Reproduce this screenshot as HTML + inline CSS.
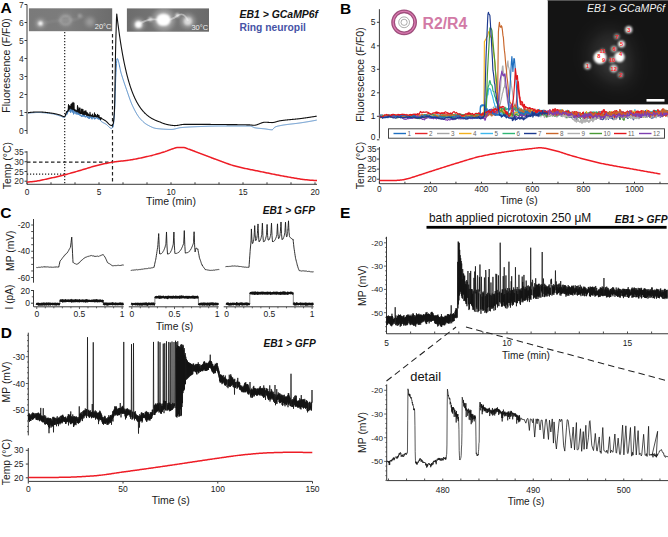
<!DOCTYPE html>
<html><head><meta charset="utf-8"><style>
html,body{margin:0;padding:0;background:#fff;width:668px;height:537px;overflow:hidden}
svg{display:block}
text{font-family:"Liberation Sans", sans-serif}
</style></head><body>
<svg width="668" height="537" viewBox="0 0 668 537">
<rect width="668" height="537" fill="#fff"/>
<defs>
<filter id="bl" x="-100%" y="-100%" width="300%" height="300%"><feGaussianBlur stdDeviation="1.3"/></filter>
<filter id="bl1" x="-100%" y="-100%" width="300%" height="300%"><feGaussianBlur stdDeviation="0.6"/></filter>
<filter id="bl1b" x="-100%" y="-100%" width="300%" height="300%"><feGaussianBlur stdDeviation="0.9"/></filter>
<filter id="bl2s" x="-100%" y="-100%" width="300%" height="300%"><feGaussianBlur stdDeviation="2.2"/></filter>
<filter id="bl2" x="-100%" y="-100%" width="300%" height="300%"><feGaussianBlur stdDeviation="9"/></filter>
</defs>
<text x="0.6" y="13.4" font-size="15.5" text-anchor="start" font-weight="bold" font-style="normal" fill="#000">A</text>
<line x1="27" y1="4.5" x2="27" y2="134" stroke="#3a3a3a" stroke-width="1"/>
<line x1="24.5" y1="130.5" x2="27" y2="130.5" stroke="#3a3a3a" stroke-width="1"/>
<text x="23.7" y="133.56" font-size="8.5" text-anchor="end" font-weight="normal" font-style="normal" fill="#2a2a2a">0</text>
<line x1="24.5" y1="112.5" x2="27" y2="112.5" stroke="#3a3a3a" stroke-width="1"/>
<text x="23.7" y="115.56" font-size="8.5" text-anchor="end" font-weight="normal" font-style="normal" fill="#2a2a2a">1</text>
<line x1="24.5" y1="94.5" x2="27" y2="94.5" stroke="#3a3a3a" stroke-width="1"/>
<text x="23.7" y="97.56" font-size="8.5" text-anchor="end" font-weight="normal" font-style="normal" fill="#2a2a2a">2</text>
<line x1="24.5" y1="76.5" x2="27" y2="76.5" stroke="#3a3a3a" stroke-width="1"/>
<text x="23.7" y="79.56" font-size="8.5" text-anchor="end" font-weight="normal" font-style="normal" fill="#2a2a2a">3</text>
<line x1="24.5" y1="58.5" x2="27" y2="58.5" stroke="#3a3a3a" stroke-width="1"/>
<text x="23.7" y="61.56" font-size="8.5" text-anchor="end" font-weight="normal" font-style="normal" fill="#2a2a2a">4</text>
<line x1="24.5" y1="40.5" x2="27" y2="40.5" stroke="#3a3a3a" stroke-width="1"/>
<text x="23.7" y="43.56" font-size="8.5" text-anchor="end" font-weight="normal" font-style="normal" fill="#2a2a2a">5</text>
<line x1="24.5" y1="22.5" x2="27" y2="22.5" stroke="#3a3a3a" stroke-width="1"/>
<text x="23.7" y="25.56" font-size="8.5" text-anchor="end" font-weight="normal" font-style="normal" fill="#2a2a2a">6</text>
<line x1="24.5" y1="4.5" x2="27" y2="4.5" stroke="#3a3a3a" stroke-width="1"/>
<text x="23.7" y="7.56" font-size="8.5" text-anchor="end" font-weight="normal" font-style="normal" fill="#2a2a2a">7</text>
<text x="10.4" y="65.4" font-size="10.5" text-anchor="middle" font-weight="normal" font-style="normal" fill="#1a1a1a" transform="rotate(-90 10.4 65.4)">Fluorescence (F/F0)</text>
<defs><linearGradient id="g1" x1="0" x2="1" y1="0" y2="0"><stop offset="0" stop-color="#7a7a7a"/><stop offset="0.5" stop-color="#7c7c7c"/><stop offset="1" stop-color="#6c6c6c"/></linearGradient><linearGradient id="g2" x1="0" x2="1" y1="0" y2="0"><stop offset="0" stop-color="#6c6c6c"/><stop offset="0.5" stop-color="#777"/><stop offset="1" stop-color="#6a6a6a"/></linearGradient></defs>
<rect x="28.9" y="8.3" width="83.3" height="22.9" fill="url(#g1)"/>
<rect x="126.9" y="8.4" width="82.1" height="23.3" fill="url(#g2)"/>
<svg x="28.9" y="8.3" width="83.3" height="22.9" overflow="hidden"><g transform="translate(-28.9 -8.3)">
<circle cx="40.5" cy="23.4" r="4.5" fill="#fff" opacity="0.35" filter="url(#bl2s)"/>
<circle cx="40.5" cy="23.4" r="2.2" fill="#fff" opacity="0.95" filter="url(#bl)"/>
<circle cx="90" cy="22" r="4.5" fill="#fff" opacity="0.3" filter="url(#bl2s)"/>
<circle cx="79.8" cy="15.7" r="2" fill="#fff" opacity="0.3" filter="url(#bl)"/>
<ellipse cx="65.6" cy="20.2" rx="5.3" ry="4.3" fill="none" stroke="#c4c4c4" stroke-width="1.7" opacity="0.45" filter="url(#bl1b)"/>
<path d="M44 23 Q52 21 60 20.5 T72 20 T84 16" fill="none" stroke="#b0b0b0" stroke-width="1.4" opacity="0.3" filter="url(#bl1b)"/>
<circle cx="65.6" cy="20.2" r="7" fill="#fff" opacity="0.12" filter="url(#bl2s)"/>
</g></svg>
<svg x="126.9" y="8.4" width="82.1" height="23.3" overflow="hidden"><g transform="translate(-126.9 -8.4)">
<circle cx="163.5" cy="19.8" r="11" fill="#fff" opacity="0.3" filter="url(#bl2s)"/>
<circle cx="138.5" cy="24.4" r="6" fill="#fff" opacity="0.35" filter="url(#bl2s)"/>
<circle cx="187.9" cy="21.2" r="7" fill="#fff" opacity="0.35" filter="url(#bl2s)"/>
<path d="M139 24 Q146 20 151 19.5 T163 20 T177 16 T188 21" fill="none" stroke="#ddd" stroke-width="1.8" opacity="0.55" filter="url(#bl1)"/>
<ellipse cx="163.5" cy="19.8" rx="7.3" ry="6.3" fill="#fff" filter="url(#bl)"/>
<circle cx="138.5" cy="24.4" r="3.5" fill="#fff" opacity="1.0" filter="url(#bl)"/>
<circle cx="150.3" cy="19.2" r="2.3" fill="#fff" opacity="0.6" filter="url(#bl)"/>
<circle cx="177.4" cy="15.2" r="2" fill="#fff" opacity="0.8" filter="url(#bl)"/>
<circle cx="187.9" cy="21.2" r="4" fill="#fff" opacity="0.6" filter="url(#bl)"/>
</g></svg>
<text x="111.5" y="29.4" font-size="7.5" text-anchor="end" font-weight="normal" font-style="normal" fill="#f0f0f0">20°C</text>
<text x="208.2" y="29.8" font-size="7.5" text-anchor="end" font-weight="normal" font-style="normal" fill="#f0f0f0">30°C</text>
<text x="239.5" y="17.6" font-size="10.45" text-anchor="start" font-weight="bold" font-style="italic" fill="#111">EB1 &gt; GCaMP6f</text>
<text x="239.5" y="30.8" font-size="10.3" text-anchor="start" font-weight="bold" font-style="normal" fill="#4653a6">Ring neuropil</text>
<line x1="64.7" y1="32" x2="64.7" y2="184" stroke="#222" stroke-width="1.2" stroke-dasharray="1.2,1.8"/>
<line x1="112.5" y1="34" x2="112.5" y2="184" stroke="#222" stroke-width="1.2" stroke-dasharray="3.5,2.5"/>
<polyline points="28,113.25 28.25,113.21 28.5,113.18 28.75,113.15 29,113.11 29.25,113.08 29.5,113.05 29.75,113.02 30,112.99 30.25,112.96 30.5,112.93 30.75,112.91 31,112.88 31.25,112.86 31.5,112.83 31.75,112.81 32,112.79 32.25,112.76 32.5,112.74 32.75,112.72 33,112.7 33.25,112.69 33.5,112.67 33.75,112.65 34,112.64 34.25,112.62 34.5,112.61 34.75,112.6 35,112.58 35.25,112.57 35.5,112.56 35.75,112.55 36,112.54 36.25,112.53 36.5,112.53 36.75,112.52 37,112.52 37.25,112.51 37.5,112.51 37.75,112.5 38,112.5 38.25,112.5 38.5,112.5 38.75,112.5 39,112.5 39.25,112.51 39.5,112.51 39.75,112.52 40,112.52 40.25,112.53 40.5,112.54 40.75,112.55 41,112.56 41.25,112.57 41.5,112.58 41.75,112.6 42,112.61 42.25,112.63 42.5,112.65 42.75,112.66 43,112.68 43.25,112.7 43.5,112.72 43.75,112.74 44,112.76 44.25,112.79 44.5,112.81 44.75,112.84 45,112.86 45.25,112.89 45.5,112.91 45.75,112.94 46,112.97 46.25,112.99 46.5,113.02 46.75,113.05 47,113.08 47.25,113.11 47.5,113.14 47.75,113.18 48,113.21 48.25,113.24 48.5,113.27 48.75,113.3 49,113.34 49.25,113.37 49.5,113.41 49.75,113.44 50,113.48 50.25,113.51 50.5,113.55 50.75,113.58 51,113.62 51.25,113.65 51.5,113.69 51.75,113.72 52,113.76 52.25,113.8 52.5,113.84 52.75,113.88 53,113.93 53.25,113.98 53.5,114.03 53.75,114.08 54,114.13 54.25,114.19 54.5,114.25 54.75,114.31 55,114.38 55.25,114.44 55.5,114.51 55.75,114.58 56,114.65 56.25,114.72 56.5,114.79 56.75,114.87 57,114.95 57.25,115.02 57.5,115.1 57.75,115.18 58,115.26 58.25,115.34 58.5,115.42 58.75,115.5 59,115.59 59.25,115.67 59.5,115.75 59.75,115.84 60,115.92 60.25,115.99 60.5,116.07 60.75,116.17 61,116.27 61.25,116.39 61.5,116.5 61.75,116.62 62,116.74 62.25,116.85 62.5,116.96 62.75,117.06 63,117.15 63.25,117.22 63.5,117.28 63.75,117.32 64,117.34 64.25,117.34 64.5,117.27 64.75,117.08 65,116.78 65.25,116.41 65.5,115.98 65.75,115.42 66,114.75 66.25,114.61 66.5,114.94 66.75,114.59 67,114.51 67.25,111.98 67.5,113.54 67.75,111.24 68,111.47 68.25,109.93 68.5,110.47 68.75,111.53 69,111.46 69.25,110.95 69.5,110.67 69.75,111.39 70,110.65 70.25,108.43 70.5,112.63 70.75,110.02 71,111.56 71.25,110.1 71.5,109.26 71.75,110.51 72,109.48 72.25,112.63 72.5,109.25 72.75,111.54 73,110.1 73.25,110.78 73.5,114.36 73.75,112.21 74,111.15 74.25,109.69 74.5,111.37 74.75,111.55 75,113.66 75.25,110.46 75.5,110.17 75.75,112.35 76,112.75 76.25,114.43 76.5,111.74 76.75,109.85 77,112.17 77.25,111.7 77.5,112.62 77.75,114.38 78,112.03 78.25,114.87 78.5,113.91 78.75,113.53 79,113.03 79.25,113.63 79.5,113.79 79.75,115.05 80,115.68 80.25,114.46 80.5,115.32 80.75,115.99 81,116.04 81.25,115.4 81.5,116.76 81.75,116.37 82,116.7 82.25,115.11 82.5,114.99 82.75,113.65 83,116.83 83.25,116.18 83.5,114.87 83.75,115.92 84,116.08 84.25,114.44 84.5,116.22 84.75,116.95 85,117.14 85.25,115.86 85.5,115.95 85.75,117.36 86,117.11 86.25,115.96 86.5,115.98 86.75,117 87,116.07 87.25,116.17 87.5,118.05 87.75,116.96 88,116.46 88.25,117.27 88.5,118.51 88.75,117.15 89,116.41 89.25,115.84 89.5,118.72 89.75,115.18 90,118.02 90.25,116.52 90.5,116.36 90.75,116.59 91,117.24 91.25,118.23 91.5,116.97 91.75,117.97 92,119.3 92.25,115.51 92.5,117.05 92.75,116.3 93,118.26 93.25,116.62 93.5,116.57 93.75,116.63 94,117.75 94.25,118.59 94.5,117.92 94.75,119.32 95,119.01 95.25,117.84 95.5,118.59 95.75,118.08 96,118.08 96.25,116.83 96.5,117.29 96.75,118.18 97,117.47 97.25,118.72 97.5,118.51 97.75,117.85 98,119.15 98.25,118.67 98.5,119.34 98.75,118.65 99,117.97 99.25,119.35 99.5,119.07 99.75,119.7 100,120.04 100.25,120.36 100.5,120.31 100.75,120.7 101,121.14 101.25,121.36 101.5,121.56 101.75,121.75 102,121.92 102.25,122.09 102.5,122.25 102.75,122.4 103,122.54 103.25,122.68 103.5,122.81 103.75,122.94 104,123.07 104.25,123.2 104.5,123.33 104.75,123.46 105,123.59 105.25,123.73 105.5,123.88 105.75,124.04 106,124.2 106.25,124.38 106.5,124.57 106.75,124.79 107,125.01 107.25,125.25 107.5,125.49 107.75,125.74 108,125.99 108.25,126.24 108.5,126.49 108.75,126.73 109,126.97 109.25,127.19 109.5,127.41 109.75,127.61 110,127.78 110.25,127.94 110.5,128.08 110.75,128.19 111,128.27 111.25,128.32 111.5,128.34 111.75,128.29 112,128.16 112.25,127.95 112.5,127.66 112.75,127.31 113,126.9 113.25,126.03 113.5,124.38 113.75,122.08 114,119.24 114.25,116.01 114.5,112.5 114.75,107.38 115,100.07 115.25,91.82 115.5,83.88 115.75,77.48 116,72.71 116.25,67.97 116.5,63.71 116.75,60.44 117,58.67 117.25,58.54 117.5,58.78 117.75,59.22 118,59.83 118.25,60.6 118.5,61.49 118.75,62.49 119,63.58 119.25,64.74 119.5,65.93 119.75,67.15 120,68.36 120.25,69.54 120.5,70.68 120.75,71.76 121,72.74 121.25,73.61 121.5,74.43 121.75,75.24 122,76.05 122.25,76.84 122.5,77.63 122.75,78.41 123,79.19 123.25,79.96 123.5,80.72 123.75,81.47 124,82.22 124.25,82.97 124.5,83.71 124.75,84.44 125,85.17 125.25,85.9 125.5,86.62 125.75,87.35 126,88.07 126.25,88.78 126.5,89.5 126.75,90.22 127,90.93 127.25,91.66 127.5,92.38 127.75,93.11 128,93.84 128.25,94.58 128.5,95.31 128.75,96.03 129,96.76 129.25,97.47 129.5,98.19 129.75,98.89 130,99.58 130.25,100.27 130.5,100.94 130.75,101.6 131,102.24 131.25,102.87 131.5,103.48 131.75,104.07 132,104.64 132.25,105.19 132.5,105.73 132.75,106.25 133,106.78 133.25,107.3 133.5,107.81 133.75,108.32 134,108.82 134.25,109.32 134.5,109.81 134.75,110.29 135,110.77 135.25,111.24 135.5,111.7 135.75,112.16 136,112.61 136.25,113.05 136.5,113.48 136.75,113.9 137,114.31 137.25,114.72 137.5,115.11 137.75,115.5 138,115.87 138.25,116.24 138.5,116.59 138.75,116.94 139,117.27 139.25,117.59 139.5,117.9 139.75,118.2 140,118.49 140.25,118.78 140.5,119.06 140.75,119.33 141,119.6 141.25,119.87 141.5,120.13 141.75,120.39 142,120.64 142.25,120.89 142.5,121.13 142.75,121.37 143,121.61 143.25,121.83 143.5,122.06 143.75,122.28 144,122.49 144.25,122.7 144.5,122.9 144.75,123.1 145,123.29 145.25,123.48 145.5,123.66 145.75,123.83 146,124 146.25,124.17 146.5,124.33 146.75,124.48 147,124.63 147.25,124.77 147.5,124.91 147.75,125.05 148,125.19 148.25,125.32 148.5,125.46 148.75,125.6 149,125.73 149.25,125.86 149.5,125.99 149.75,126.13 150,126.25 150.25,126.38 150.5,126.5 150.75,126.63 151,126.75 151.25,126.86 151.5,126.98 151.75,127.09 152,127.2 152.25,127.31 152.5,127.41 152.75,127.51 153,127.6 153.25,127.7 153.5,127.79 153.75,127.87 154,127.95 154.25,128.03 154.5,128.1 154.75,128.17 155,128.23 155.25,128.29 155.5,128.35 155.75,128.39 156,128.44 156.25,128.48 156.5,128.51 156.75,128.54 157,128.56 157.25,128.59 157.5,128.62 157.75,128.64 158,128.67 158.25,128.7 158.5,128.72 158.75,128.75 159,128.77 159.25,128.79 159.5,128.82 159.75,128.84 160,128.86 160.25,128.89 160.5,128.91 160.75,128.93 161,128.95 161.25,128.97 161.5,128.99 161.75,129.01 162,129.03 162.25,129.05 162.5,129.07 162.75,129.09 163,129.11 163.25,129.12 163.5,129.14 163.75,129.16 164,129.17 164.25,129.19 164.5,129.2 164.75,129.22 165,129.23 165.25,129.25 165.5,129.26 165.75,129.27 166,129.29 166.25,129.3 166.5,129.31 166.75,129.32 167,129.33 167.25,129.34 167.5,129.35 167.75,129.36 168,129.36 168.25,129.37 168.5,129.38 168.75,129.39 169,129.39 169.25,129.4 169.5,129.4 169.75,129.41 170,129.41 170.25,129.41 170.5,129.42 170.75,129.42 171,129.42 171.25,129.42 171.5,129.42 171.75,129.42 172,129.41 172.25,129.39 172.5,129.37 172.75,129.34 173,129.31 173.25,129.28 173.5,129.24 173.75,129.19 174,129.15 174.25,129.09 174.5,129.04 174.75,128.98 175,128.92 175.25,128.86 175.5,128.8 175.75,128.73 176,128.67 176.25,128.6 176.5,128.53 176.75,128.47 177,128.4 177.25,128.33 177.5,128.27 177.75,128.2 178,128.14 178.25,128.08 178.5,128.02 178.75,127.96 179,127.91 179.25,127.85 179.5,127.81 179.75,127.76 180,127.72 180.25,127.68 180.5,127.65 180.75,127.62 181,127.6 181.25,127.58 181.5,127.56 181.75,127.53 182,127.51 182.25,127.49 182.5,127.47 182.75,127.45 183,127.43 183.25,127.41 183.5,127.39 183.75,127.37 184,127.35 184.25,127.33 184.5,127.31 184.75,127.29 185,127.28 185.25,127.26 185.5,127.24 185.75,127.22 186,127.21 186.25,127.19 186.5,127.17 186.75,127.16 187,127.14 187.25,127.12 187.5,127.11 187.75,127.09 188,127.08 188.25,127.06 188.5,127.05 188.75,127.03 189,127.02 189.25,127.01 189.5,126.99 189.75,126.98 190,126.97 190.25,126.95 190.5,126.94 190.75,126.93 191,126.91 191.25,126.9 191.5,126.89 191.75,126.88 192,126.86 192.25,126.85 192.5,126.84 192.75,126.83 193,126.82 193.25,126.81 193.5,126.8 193.75,126.79 194,126.77 194.25,126.76 194.5,126.75 194.75,126.74 195,126.73 195.25,126.72 195.5,126.71 195.75,126.7 196,126.69 196.25,126.68 196.5,126.67 196.75,126.66 197,126.65 197.25,126.64 197.5,126.63 197.75,126.62 198,126.61 198.25,126.6 198.5,126.6 198.75,126.59 199,126.58 199.25,126.57 199.5,126.56 199.75,126.55 200,126.54 200.25,126.53 200.5,126.52 200.75,126.51 201,126.5 201.25,126.49 201.5,126.48 201.75,126.48 202,126.47 202.25,126.46 202.5,126.45 202.75,126.44 203,126.43 203.25,126.42 203.5,126.41 203.75,126.4 204,126.39 204.25,126.38 204.5,126.37 204.75,126.36 205,126.35 205.25,126.34 205.5,126.33 205.75,126.33 206,126.32 206.25,126.31 206.5,126.3 206.75,126.29 207,126.28 207.25,126.27 207.5,126.26 207.75,126.25 208,126.24 208.25,126.24 208.5,126.23 208.75,126.22 209,126.21 209.25,126.2 209.5,126.19 209.75,126.19 210,126.18 210.25,126.17 210.5,126.16 210.75,126.16 211,126.15 211.25,126.14 211.5,126.13 211.75,126.13 212,126.12 212.25,126.11 212.5,126.11 212.75,126.1 213,126.09 213.25,126.09 213.5,126.08 213.75,126.08 214,126.07 214.25,126.07 214.5,126.06 214.75,126.05 215,126.05 215.25,126.05 215.5,126.04 215.75,126.04 216,126.03 216.25,126.03 216.5,126.03 216.75,126.02 217,126.02 217.25,126.02 217.5,126.01 217.75,126.01 218,126.01 218.25,126.01 218.5,126 218.75,126 219,126 219.25,126 219.5,126 219.75,126 220,126 220.25,126 220.5,126 220.75,126 221,126 221.25,126 221.5,126 221.75,126 222,126 222.25,126 222.5,126 222.75,126 223,126 223.25,126 223.5,126 223.75,126 224,126 224.25,126 224.5,126 224.75,126 225,126 225.25,126 225.5,126 225.75,126 226,126 226.25,126 226.5,126 226.75,126 227,126 227.25,126 227.5,126 227.75,126 228,126 228.25,126 228.5,126 228.75,126 229,126 229.25,126 229.5,126 229.75,126 230,126 230.25,126 230.5,126 230.75,126 231,126 231.25,126 231.5,126 231.75,126 232,126 232.25,126 232.5,126 232.75,126 233,126 233.25,126 233.5,126 233.75,126 234,126 234.25,126 234.5,126 234.75,126 235,126 235.25,126 235.5,126 235.75,126 236,126 236.25,126 236.5,126 236.75,126 237,126 237.25,126 237.5,126 237.75,126 238,126 238.25,126 238.5,126 238.75,126 239,126 239.25,126 239.5,126 239.75,126 240,126 240.25,126 240.5,126 240.75,126 241,126 241.25,126 241.5,126 241.75,126 242,126 242.25,126 242.5,126 242.75,126 243,126 243.25,126 243.5,126 243.75,126 244,126 244.25,126 244.5,126 244.75,126 245,126 245.25,126 245.5,126 245.75,126 246,126 246.25,126 246.5,126 246.75,126 247,126 247.25,126 247.5,126 247.75,126 248,126 248.25,126 248.5,126 248.75,126 249,126 249.25,126 249.5,126 249.75,126 250,126 250.25,126.01 250.5,126.04 250.75,126.09 251,126.16 251.25,126.24 251.5,126.33 251.75,126.44 252,126.55 252.25,126.67 252.5,126.79 252.75,126.91 253,127.04 253.25,127.16 253.5,127.28 253.75,127.39 254,127.5 254.25,127.59 254.5,127.68 254.75,127.75 255,127.8 255.25,127.84 255.5,127.88 255.75,127.92 256,127.96 256.25,128 256.5,128.03 256.75,128.07 257,128.1 257.25,128.13 257.5,128.16 257.75,128.19 258,128.22 258.25,128.25 258.5,128.27 258.75,128.3 259,128.32 259.25,128.35 259.5,128.37 259.75,128.39 260,128.41 260.25,128.44 260.5,128.46 260.75,128.48 261,128.5 261.25,128.52 261.5,128.54 261.75,128.56 262,128.58 262.25,128.61 262.5,128.63 262.75,128.65 263,128.67 263.25,128.7 263.5,128.72 263.75,128.74 264,128.77 264.25,128.8 264.5,128.82 264.75,128.85 265,128.88 265.25,128.91 265.5,128.94 265.75,128.98 266,129.02 266.25,129.06 266.5,129.1 266.75,129.14 267,129.18 267.25,129.22 267.5,129.26 267.75,129.31 268,129.35 268.25,129.39 268.5,129.43 268.75,129.47 269,129.51 269.25,129.55 269.5,129.59 269.75,129.62 270,129.65 270.25,129.68 270.5,129.7 270.75,129.73 271,129.74 271.25,129.76 271.5,129.77 271.75,129.78 272,129.78 272.25,129.74 272.5,129.61 272.75,129.42 273,129.18 273.25,128.9 273.5,128.59 273.75,128.28 274,127.97 274.25,127.68 274.5,127.43 274.75,127.22 275,127.08 275.25,126.97 275.5,126.87 275.75,126.78 276,126.69 276.25,126.6 276.5,126.51 276.75,126.43 277,126.36 277.25,126.28 277.5,126.21 277.75,126.15 278,126.08 278.25,126.02 278.5,125.96 278.75,125.9 279,125.85 279.25,125.8 279.5,125.74 279.75,125.69 280,125.65 280.25,125.6 280.5,125.55 280.75,125.51 281,125.46 281.25,125.42 281.5,125.37 281.75,125.33 282,125.28 282.25,125.24 282.5,125.19 282.75,125.15 283,125.11 283.25,125.06 283.5,125.02 283.75,124.98 284,124.94 284.25,124.9 284.5,124.86 284.75,124.83 285,124.79 285.25,124.75 285.5,124.72 285.75,124.68 286,124.65 286.25,124.61 286.5,124.58 286.75,124.55 287,124.51 287.25,124.48 287.5,124.45 287.75,124.42 288,124.39 288.25,124.36 288.5,124.32 288.75,124.29 289,124.26 289.25,124.23 289.5,124.21 289.75,124.18 290,124.15 290.25,124.12 290.5,124.09 290.75,124.06 291,124.03 291.25,124.01 291.5,123.98 291.75,123.95 292,123.92 292.25,123.89 292.5,123.87 292.75,123.84 293,123.81 293.25,123.78 293.5,123.75 293.75,123.73 294,123.7 294.25,123.67 294.5,123.64 294.75,123.61 295,123.58 295.25,123.55 295.5,123.53 295.75,123.5 296,123.47 296.25,123.44 296.5,123.41 296.75,123.38 297,123.34 297.25,123.31 297.5,123.28 297.75,123.25 298,123.22 298.25,123.18 298.5,123.15 298.75,123.12 299,123.08 299.25,123.05 299.5,123.01 299.75,122.98 300,122.94 300.25,122.9 300.5,122.87 300.75,122.83 301,122.79 301.25,122.75 301.5,122.72 301.75,122.68 302,122.64 302.25,122.6 302.5,122.56 302.75,122.52 303,122.49 303.25,122.45 303.5,122.41 303.75,122.37 304,122.33 304.25,122.29 304.5,122.25 304.75,122.21 305,122.17 305.25,122.13 305.5,122.09 305.75,122.05 306,122.01 306.25,121.96 306.5,121.92 306.75,121.88 307,121.84 307.25,121.8 307.5,121.76 307.75,121.71 308,121.67 308.25,121.63 308.5,121.59 308.75,121.55 309,121.5 309.25,121.46 309.5,121.42 309.75,121.37 310,121.33 310.25,121.29 310.5,121.24 310.75,121.2 311,121.15 311.25,121.11 311.5,121.07 311.75,121.02 312,120.98 312.25,120.93 312.5,120.89 312.75,120.84 313,120.8 313.25,120.75 313.5,120.71 313.75,120.66 314,120.62 314.25,120.57 314.5,120.53 314.75,120.48 315,120.43 315.25,120.39 315.5,120.34 315.75,120.29 316,120.25 316.25,120.2 316.5,120.15 316.75,120.11" fill="none" stroke="#4a86c5" stroke-width="1.0" stroke-linejoin="round"/>
<polyline points="28,112.71 28.25,112.67 28.5,112.64 28.75,112.61 29,112.57 29.25,112.54 29.5,112.51 29.75,112.48 30,112.45 30.25,112.42 30.5,112.39 30.75,112.37 31,112.34 31.25,112.32 31.5,112.29 31.75,112.27 32,112.25 32.25,112.22 32.5,112.2 32.75,112.18 33,112.16 33.25,112.15 33.5,112.13 33.75,112.11 34,112.1 34.25,112.08 34.5,112.07 34.75,112.06 35,112.04 35.25,112.03 35.5,112.02 35.75,112.01 36,112 36.25,111.99 36.5,111.99 36.75,111.98 37,111.98 37.25,111.97 37.5,111.97 37.75,111.96 38,111.96 38.25,111.96 38.5,111.96 38.75,111.96 39,111.96 39.25,111.97 39.5,111.97 39.75,111.98 40,111.98 40.25,111.99 40.5,112 40.75,112.01 41,112.02 41.25,112.03 41.5,112.05 41.75,112.06 42,112.08 42.25,112.09 42.5,112.11 42.75,112.13 43,112.15 43.25,112.17 43.5,112.19 43.75,112.21 44,112.24 44.25,112.26 44.5,112.28 44.75,112.31 45,112.33 45.25,112.36 45.5,112.39 45.75,112.41 46,112.44 46.25,112.47 46.5,112.5 46.75,112.53 47,112.56 47.25,112.59 47.5,112.62 47.75,112.65 48,112.68 48.25,112.71 48.5,112.75 48.75,112.78 49,112.81 49.25,112.85 49.5,112.88 49.75,112.91 50,112.95 50.25,112.98 50.5,113.01 50.75,113.05 51,113.08 51.25,113.12 51.5,113.15 51.75,113.19 52,113.22 52.25,113.26 52.5,113.29 52.75,113.33 53,113.37 53.25,113.41 53.5,113.46 53.75,113.5 54,113.55 54.25,113.59 54.5,113.64 54.75,113.69 55,113.75 55.25,113.8 55.5,113.85 55.75,113.91 56,113.97 56.25,114.03 56.5,114.09 56.75,114.15 57,114.21 57.25,114.27 57.5,114.33 57.75,114.4 58,114.46 58.25,114.53 58.5,114.6 58.75,114.67 59,114.74 59.25,114.81 59.5,114.88 59.75,114.95 60,115.02 60.25,115.1 60.5,115.19 60.75,115.3 61,115.41 61.25,115.53 61.5,115.66 61.75,115.78 62,115.91 62.25,116.03 62.5,116.15 62.75,116.26 63,116.36 63.25,116.45 63.5,116.53 63.75,116.59 64,116.62 64.25,116.64 64.5,116.58 64.75,116.33 65,115.94 65.25,115.44 65.5,114.86 65.75,114.32 66,113.13 66.25,113.3 66.5,111.64 66.75,112.18 67,111.46 67.25,111.8 67.5,111 67.75,111.33 68,110.06 68.25,109.43 68.5,104.54 68.75,110.24 69,106.1 69.25,109.36 69.5,105.69 69.75,108.7 70,107.72 70.25,107.79 70.5,106.11 70.75,108.31 71,104.27 71.25,109.07 71.5,109.06 71.75,108.8 72,103.27 72.25,108.17 72.5,103.9 72.75,109.59 73,102.32 73.25,108.68 73.5,103.08 73.75,109.49 74,103.09 74.25,110.46 74.5,110.54 74.75,110.76 75,109.6 75.25,110.8 75.5,110.31 75.75,110.57 76,111.31 76.25,110.78 76.5,110.93 76.75,110.87 77,111.83 77.25,111.68 77.5,105.49 77.75,111.61 78,106.97 78.25,111.68 78.5,108.95 78.75,112.58 79,109.53 79.25,112.96 79.5,108.06 79.75,111.95 80,107.95 80.25,113.41 80.5,111.96 80.75,113.36 81,113.38 81.25,113.17 81.5,109.3 81.75,113.76 82,109.07 82.25,113.3 82.5,113.86 82.75,113.51 83,109.43 83.25,114.37 83.5,111.78 83.75,114.01 84,111.76 84.25,114.74 84.5,111.63 84.75,114.32 85,110.79 85.25,114.25 85.5,113.87 85.75,114.48 86,110.83 86.25,114.39 86.5,114.87 86.75,115.41 87,112.49 87.25,115.39 87.5,113.13 87.75,114.68 88,114.24 88.25,115.58 88.5,113.97 88.75,115.27 89,115.65 89.25,115.67 89.5,115.64 89.75,115.47 90,112.21 90.25,115.87 90.5,114.84 90.75,115.79 91,115.61 91.25,116.15 91.5,115.21 91.75,116.03 92,116.23 92.25,115.79 92.5,114.15 92.75,116.31 93,116.37 93.25,115.91 93.5,116.26 93.75,116.56 94,116.33 94.25,116.65 94.5,112.72 94.75,116.58 95,115.82 95.25,116.12 95.5,114.5 95.75,116.79 96,115.49 96.25,116.26 96.5,115.86 96.75,116.54 97,116.93 97.25,116.65 97.5,114.4 97.75,116.69 98,115.07 98.25,117.23 98.5,117.42 98.75,117.33 99,115.26 99.25,117.84 99.5,117.6 99.75,118.12 100,117.42 100.25,118.8 100.5,119.37 100.75,119.77 101,117.54 101.25,117.81 101.5,118.07 101.75,118.3 102,118.52 102.25,118.73 102.5,118.92 102.75,119.1 103,119.27 103.25,119.43 103.5,119.58 103.75,119.73 104,119.88 104.25,120.02 104.5,120.17 104.75,120.32 105,120.47 105.25,120.62 105.5,120.79 105.75,120.96 106,121.14 106.25,121.34 106.5,121.55 106.75,121.78 107,122.02 107.25,122.27 107.5,122.52 107.75,122.78 108,123.05 108.25,123.31 108.5,123.56 108.75,123.82 109,124.06 109.25,124.29 109.5,124.51 109.75,124.71 110,124.89 110.25,125.06 110.5,125.2 110.75,125.31 111,125.39 111.25,125.44 111.5,125.46 111.75,125.42 112,125.31 112.25,125.12 112.5,124.87 112.75,124.56 113,124.2 113.25,123.41 113.5,121.86 113.75,119.59 114,116.65 114.25,113.07 114.5,108.9 114.75,100.23 115,85.65 115.25,69 115.5,54.1 115.75,43.5 116,34.12 116.25,25.68 116.5,18.38 116.75,13.93 117,16.07 117.25,18.16 117.5,20.21 117.75,22.23 118,24.21 118.25,26.14 118.5,28.05 118.75,29.91 119,31.74 119.25,33.54 119.5,35.3 119.75,37.03 120,38.72 120.25,40.38 120.5,42.01 120.75,43.61 121,45.18 121.25,46.72 121.5,48.23 121.75,49.71 122,51.17 122.25,52.59 122.5,53.99 122.75,55.36 123,56.71 123.25,58.03 123.5,59.32 123.75,60.59 124,61.84 124.25,63.06 124.5,64.26 124.75,65.43 125,66.59 125.25,67.72 125.5,68.83 125.75,69.92 126,70.99 126.25,72.03 126.5,73.06 126.75,74.07 127,75.06 127.25,76.03 127.5,76.98 127.75,77.92 128,78.83 128.25,79.73 128.5,80.61 128.75,81.48 129,82.32 129.25,83.16 129.5,83.97 129.75,84.77 130,85.56 130.25,86.33 130.5,87.08 130.75,87.82 131,88.55 131.25,89.27 131.5,89.96 131.75,90.65 132,91.32 132.25,91.99 132.5,92.63 132.75,93.27 133,93.89 133.25,94.5 133.5,95.1 133.75,95.69 134,96.27 134.25,96.84 134.5,97.39 134.75,97.94 135,98.47 135.25,98.99 135.5,99.51 135.75,100.01 136,100.51 136.25,100.99 136.5,101.47 136.75,101.94 137,102.4 137.25,102.85 137.5,103.29 137.75,103.72 138,104.14 138.25,104.56 138.5,104.97 138.75,105.37 139,105.76 139.25,106.15 139.5,106.53 139.75,106.9 140,107.26 140.25,107.62 140.5,107.97 140.75,108.31 141,108.65 141.25,108.98 141.5,109.3 141.75,109.62 142,109.93 142.25,110.24 142.5,110.54 142.75,110.83 143,111.12 143.25,111.41 143.5,111.68 143.75,111.96 144,112.22 144.25,112.49 144.5,112.74 144.75,113 145,113.24 145.25,113.49 145.5,113.72 145.75,113.96 146,114.19 146.25,114.41 146.5,114.63 146.75,114.85 147,115.06 147.25,115.27 147.5,115.48 147.75,115.68 148,115.87 148.25,116.07 148.5,116.25 148.75,116.44 149,116.62 149.25,116.8 149.5,116.98 149.75,117.15 150,117.32 150.25,117.48 150.5,117.64 150.75,117.8 151,117.96 151.25,118.11 151.5,118.26 151.75,118.41 152,118.55 152.25,118.7 152.5,118.84 152.75,118.97 153,119.11 153.25,119.24 153.5,119.37 153.75,119.49 154,119.62 154.25,119.74 154.5,119.86 154.75,119.97 155,120.09 155.25,120.2 155.5,120.31 155.75,120.42 156,120.53 156.25,120.63 156.5,120.73 156.75,120.83 157,120.93 157.25,121.03 157.5,121.12 157.75,121.22 158,121.31 158.25,121.4 158.5,121.48 158.75,121.57 159,121.65 159.25,121.74 159.5,121.82 159.75,121.9 160,121.98 160.25,122.1 160.5,122.22 160.75,122.34 161,122.46 161.25,122.57 161.5,122.68 161.75,122.79 162,122.9 162.25,123 162.5,123.1 162.75,123.19 163,123.28 163.25,123.38 163.5,123.46 163.75,123.55 164,123.63 164.25,123.71 164.5,123.79 164.75,123.87 165,123.95 165.25,124.02 165.5,124.09 165.75,124.16 166,124.22 166.25,124.29 166.5,124.35 166.75,124.41 167,124.47 167.25,124.53 167.5,124.59 167.75,124.64 168,124.7 168.25,124.75 168.5,124.8 168.75,124.85 169,124.89 169.25,124.94 169.5,124.98 169.75,125.03 170,125.07 170.25,125.11 170.5,125.15 170.75,125.19 171,125.22 171.25,125.26 171.5,125.29 171.75,125.33 172,125.36 172.25,125.39 172.5,125.42 172.75,125.45 173,125.48 173.25,125.51 173.5,125.53 173.75,125.55 174,125.56 174.25,125.58 174.5,125.58 174.75,125.59 175,125.59 175.25,125.58 175.5,125.57 175.75,125.56 176,125.55 176.25,125.53 176.5,125.51 176.75,125.48 177,125.45 177.25,125.42 177.5,125.39 177.75,125.35 178,125.31 178.25,125.27 178.5,125.23 178.75,125.18 179,125.13 179.25,125.08 179.5,125.03 179.75,124.98 180,124.93 180.25,124.88 180.5,124.83 180.75,124.78 181,124.74 181.25,124.7 181.5,124.65 181.75,124.61 182,124.58 182.25,124.54 182.5,124.51 182.75,124.48 183,124.46 183.25,124.43 183.5,124.41 183.75,124.4 184,124.39 184.25,124.38 184.5,124.38 184.75,124.38 185,124.38 185.25,124.38 185.5,124.38 185.75,124.38 186,124.38 186.25,124.38 186.5,124.38 186.75,124.38 187,124.38 187.25,124.38 187.5,124.38 187.75,124.38 188,124.38 188.25,124.38 188.5,124.38 188.75,124.38 189,124.38 189.25,124.38 189.5,124.38 189.75,124.38 190,124.38 190.25,124.38 190.5,124.38 190.75,124.38 191,124.38 191.25,124.38 191.5,124.38 191.75,124.38 192,124.38 192.25,124.38 192.5,124.38 192.75,124.38 193,124.38 193.25,124.38 193.5,124.38 193.75,124.38 194,124.38 194.25,124.38 194.5,124.38 194.75,124.38 195,124.38 195.25,124.38 195.5,124.38 195.75,124.38 196,124.38 196.25,124.38 196.5,124.38 196.75,124.38 197,124.38 197.25,124.38 197.5,124.38 197.75,124.38 198,124.38 198.25,124.38 198.5,124.38 198.75,124.38 199,124.38 199.25,124.38 199.5,124.38 199.75,124.38 200,124.38 200.25,124.38 200.5,124.38 200.75,124.38 201,124.38 201.25,124.38 201.5,124.38 201.75,124.38 202,124.38 202.25,124.38 202.5,124.38 202.75,124.38 203,124.38 203.25,124.38 203.5,124.39 203.75,124.39 204,124.39 204.25,124.39 204.5,124.39 204.75,124.39 205,124.39 205.25,124.39 205.5,124.39 205.75,124.39 206,124.4 206.25,124.4 206.5,124.4 206.75,124.4 207,124.4 207.25,124.4 207.5,124.4 207.75,124.41 208,124.41 208.25,124.41 208.5,124.41 208.75,124.41 209,124.41 209.25,124.41 209.5,124.42 209.75,124.42 210,124.42 210.25,124.42 210.5,124.42 210.75,124.43 211,124.43 211.25,124.43 211.5,124.43 211.75,124.43 212,124.44 212.25,124.44 212.5,124.44 212.75,124.44 213,124.44 213.25,124.45 213.5,124.45 213.75,124.45 214,124.45 214.25,124.46 214.5,124.46 214.75,124.46 215,124.46 215.25,124.46 215.5,124.47 215.75,124.47 216,124.47 216.25,124.47 216.5,124.48 216.75,124.48 217,124.48 217.25,124.48 217.5,124.49 217.75,124.49 218,124.49 218.25,124.49 218.5,124.5 218.75,124.5 219,124.5 219.25,124.5 219.5,124.51 219.75,124.51 220,124.51 220.25,124.51 220.5,124.52 220.75,124.52 221,124.52 221.25,124.52 221.5,124.53 221.75,124.53 222,124.53 222.25,124.53 222.5,124.54 222.75,124.54 223,124.54 223.25,124.54 223.5,124.55 223.75,124.55 224,124.55 224.25,124.55 224.5,124.56 224.75,124.56 225,124.56 225.25,124.56 225.5,124.56 225.75,124.57 226,124.57 226.25,124.57 226.5,124.57 226.75,124.58 227,124.58 227.25,124.58 227.5,124.58 227.75,124.58 228,124.59 228.25,124.59 228.5,124.59 228.75,124.59 229,124.6 229.25,124.6 229.5,124.6 229.75,124.6 230,124.6 230.25,124.61 230.5,124.61 230.75,124.61 231,124.61 231.25,124.61 231.5,124.62 231.75,124.62 232,124.62 232.25,124.62 232.5,124.63 232.75,124.63 233,124.63 233.25,124.63 233.5,124.63 233.75,124.64 234,124.64 234.25,124.64 234.5,124.64 234.75,124.65 235,124.65 235.25,124.65 235.5,124.65 235.75,124.66 236,124.66 236.25,124.66 236.5,124.66 236.75,124.67 237,124.67 237.25,124.67 237.5,124.68 237.75,124.68 238,124.68 238.25,124.68 238.5,124.69 238.75,124.69 239,124.69 239.25,124.7 239.5,124.7 239.75,124.7 240,124.71 240.25,124.71 240.5,124.72 240.75,124.72 241,124.72 241.25,124.73 241.5,124.73 241.75,124.73 242,124.74 242.25,124.74 242.5,124.75 242.75,124.75 243,124.76 243.25,124.76 243.5,124.76 243.75,124.77 244,124.77 244.25,124.78 244.5,124.78 244.75,124.79 245,124.79 245.25,124.8 245.5,124.8 245.75,124.81 246,124.82 246.25,124.82 246.5,124.83 246.75,124.83 247,124.84 247.25,124.84 247.5,124.85 247.75,124.86 248,124.86 248.25,124.87 248.5,124.88 248.75,124.88 249,124.89 249.25,124.9 249.5,124.91 249.75,124.91 250,124.92 250.25,124.93 250.5,124.95 250.75,124.97 251,124.99 251.25,125.02 251.5,125.05 251.75,125.08 252,125.12 252.25,125.15 252.5,125.18 252.75,125.2 253,125.23 253.25,125.25 253.5,125.27 253.75,125.28 254,125.28 254.25,125.28 254.5,125.26 254.75,125.24 255,125.21 255.25,125.17 255.5,125.12 255.75,125.07 256,125.01 256.25,124.95 256.5,124.88 256.75,124.8 257,124.72 257.25,124.64 257.5,124.55 257.75,124.46 258,124.36 258.25,124.26 258.5,124.16 258.75,124.06 259,123.96 259.25,123.85 259.5,123.75 259.75,123.65 260,123.54 260.25,123.44 260.5,123.34 260.75,123.24 261,123.14 261.25,123.04 261.5,122.95 261.75,122.86 262,122.78 262.25,122.7 262.5,122.62 262.75,122.55 263,122.49 263.25,122.43 263.5,122.38 263.75,122.33 264,122.29 264.25,122.26 264.5,122.24 264.75,122.22 265,122.22 265.25,122.22 265.5,122.23 265.75,122.23 266,122.24 266.25,122.25 266.5,122.26 266.75,122.28 267,122.29 267.25,122.31 267.5,122.32 267.75,122.34 268,122.36 268.25,122.38 268.5,122.4 268.75,122.42 269,122.44 269.25,122.46 269.5,122.48 269.75,122.49 270,122.51 270.25,122.52 270.5,122.54 270.75,122.55 271,122.56 271.25,122.57 271.5,122.57 271.75,122.58 272,122.58 272.25,122.58 272.5,122.56 272.75,122.55 273,122.52 273.25,122.49 273.5,122.45 273.75,122.41 274,122.36 274.25,122.3 274.5,122.25 274.75,122.18 275,122.12 275.25,122.05 275.5,121.98 275.75,121.91 276,121.83 276.25,121.76 276.5,121.68 276.75,121.61 277,121.53 277.25,121.45 277.5,121.38 277.75,121.31 278,121.23 278.25,121.16 278.5,121.1 278.75,121.03 279,120.97 279.25,120.92 279.5,120.87 279.75,120.82 280,120.78 280.25,120.74 280.5,120.7 280.75,120.67 281,120.63 281.25,120.6 281.5,120.56 281.75,120.53 282,120.49 282.25,120.46 282.5,120.43 282.75,120.4 283,120.36 283.25,120.33 283.5,120.3 283.75,120.27 284,120.24 284.25,120.21 284.5,120.18 284.75,120.16 285,120.13 285.25,120.1 285.5,120.07 285.75,120.05 286,120.02 286.25,119.99 286.5,119.97 286.75,119.94 287,119.92 287.25,119.89 287.5,119.87 287.75,119.84 288,119.82 288.25,119.79 288.5,119.77 288.75,119.75 289,119.72 289.25,119.7 289.5,119.68 289.75,119.65 290,119.63 290.25,119.61 290.5,119.58 290.75,119.56 291,119.54 291.25,119.52 291.5,119.49 291.75,119.47 292,119.45 292.25,119.42 292.5,119.4 292.75,119.38 293,119.36 293.25,119.33 293.5,119.31 293.75,119.29 294,119.26 294.25,119.24 294.5,119.21 294.75,119.19 295,119.17 295.25,119.14 295.5,119.12 295.75,119.09 296,119.07 296.25,119.04 296.5,119.02 296.75,118.99 297,118.96 297.25,118.94 297.5,118.91 297.75,118.88 298,118.86 298.25,118.83 298.5,118.8 298.75,118.77 299,118.74 299.25,118.71 299.5,118.68 299.75,118.65 300,118.62 300.25,118.59 300.5,118.56 300.75,118.52 301,118.49 301.25,118.46 301.5,118.43 301.75,118.4 302,118.36 302.25,118.33 302.5,118.3 302.75,118.26 303,118.23 303.25,118.2 303.5,118.16 303.75,118.13 304,118.09 304.25,118.06 304.5,118.02 304.75,117.99 305,117.95 305.25,117.92 305.5,117.88 305.75,117.85 306,117.81 306.25,117.78 306.5,117.74 306.75,117.71 307,117.67 307.25,117.63 307.5,117.6 307.75,117.56 308,117.52 308.25,117.48 308.5,117.45 308.75,117.41 309,117.37 309.25,117.33 309.5,117.3 309.75,117.26 310,117.22 310.25,117.18 310.5,117.14 310.75,117.11 311,117.07 311.25,117.03 311.5,116.99 311.75,116.95 312,116.91 312.25,116.87 312.5,116.83 312.75,116.79 313,116.75 313.25,116.71 313.5,116.67 313.75,116.63 314,116.59 314.25,116.55 314.5,116.51 314.75,116.47 315,116.43 315.25,116.39 315.5,116.35 315.75,116.31 316,116.27 316.25,116.22 316.5,116.18 316.75,116.14" fill="none" stroke="#111" stroke-width="1.1" stroke-linejoin="round"/>
<line x1="27" y1="151.2" x2="27" y2="184.3" stroke="#3a3a3a" stroke-width="1"/>
<line x1="24.5" y1="181.2" x2="27" y2="181.2" stroke="#3a3a3a" stroke-width="1"/>
<text x="23.7" y="184.26" font-size="8.5" text-anchor="end" font-weight="normal" font-style="normal" fill="#2a2a2a">20</text>
<line x1="24.5" y1="171.46" x2="27" y2="171.46" stroke="#3a3a3a" stroke-width="1"/>
<text x="23.7" y="174.52" font-size="8.5" text-anchor="end" font-weight="normal" font-style="normal" fill="#2a2a2a">25</text>
<line x1="24.5" y1="161.73" x2="27" y2="161.73" stroke="#3a3a3a" stroke-width="1"/>
<text x="23.7" y="164.79" font-size="8.5" text-anchor="end" font-weight="normal" font-style="normal" fill="#2a2a2a">30</text>
<line x1="24.5" y1="151.99" x2="27" y2="151.99" stroke="#3a3a3a" stroke-width="1"/>
<text x="23.7" y="155.05" font-size="8.5" text-anchor="end" font-weight="normal" font-style="normal" fill="#2a2a2a">35</text>
<text x="10.6" y="165.6" font-size="10.5" text-anchor="middle" font-weight="normal" font-style="normal" fill="#1a1a1a" transform="rotate(-90 10.6 165.6)">Temp (°C)</text>
<line x1="27" y1="184.3" x2="317" y2="184.3" stroke="#3a3a3a" stroke-width="1"/>
<line x1="27" y1="184.3" x2="27" y2="182.3" stroke="#3a3a3a" stroke-width="1"/>
<line x1="51" y1="184.3" x2="51" y2="182.3" stroke="#3a3a3a" stroke-width="1"/>
<line x1="75" y1="184.3" x2="75" y2="182.3" stroke="#3a3a3a" stroke-width="1"/>
<line x1="99" y1="184.3" x2="99" y2="182.3" stroke="#3a3a3a" stroke-width="1"/>
<line x1="123" y1="184.3" x2="123" y2="182.3" stroke="#3a3a3a" stroke-width="1"/>
<line x1="147" y1="184.3" x2="147" y2="182.3" stroke="#3a3a3a" stroke-width="1"/>
<line x1="171" y1="184.3" x2="171" y2="182.3" stroke="#3a3a3a" stroke-width="1"/>
<line x1="195" y1="184.3" x2="195" y2="182.3" stroke="#3a3a3a" stroke-width="1"/>
<line x1="219" y1="184.3" x2="219" y2="182.3" stroke="#3a3a3a" stroke-width="1"/>
<line x1="243" y1="184.3" x2="243" y2="182.3" stroke="#3a3a3a" stroke-width="1"/>
<line x1="267" y1="184.3" x2="267" y2="182.3" stroke="#3a3a3a" stroke-width="1"/>
<line x1="291" y1="184.3" x2="291" y2="182.3" stroke="#3a3a3a" stroke-width="1"/>
<line x1="315" y1="184.3" x2="315" y2="182.3" stroke="#3a3a3a" stroke-width="1"/>
<text x="27" y="194.8" font-size="8.3" text-anchor="middle" font-weight="normal" font-style="normal" fill="#1a1a1a">0</text>
<text x="99" y="194.8" font-size="8.3" text-anchor="middle" font-weight="normal" font-style="normal" fill="#1a1a1a">5</text>
<text x="171" y="194.8" font-size="8.3" text-anchor="middle" font-weight="normal" font-style="normal" fill="#1a1a1a">10</text>
<text x="243" y="194.8" font-size="8.3" text-anchor="middle" font-weight="normal" font-style="normal" fill="#1a1a1a">15</text>
<text x="315" y="194.8" font-size="8.3" text-anchor="middle" font-weight="normal" font-style="normal" fill="#1a1a1a">20</text>
<text x="171" y="205.3" font-size="10.5" text-anchor="middle" font-weight="normal" font-style="normal" fill="#1a1a1a">Time (min)</text>
<line x1="27" y1="162.2" x2="112.5" y2="162.2" stroke="#222" stroke-width="1.2" stroke-dasharray="3.5,2.5"/>
<line x1="27" y1="174.1" x2="64.7" y2="174.1" stroke="#222" stroke-width="1.2" stroke-dasharray="1.2,1.8"/>
<polyline points="27,181.98 28,181.95 29,181.9 30,181.85 31,181.78 32,181.71 33,181.61 34,181.49 35,181.35 36,181.2 37,181.04 38,180.86 39,180.67 40,180.47 41,180.26 42,180.05 43,179.83 44,179.61 45,179.38 46,179.16 47,178.93 48,178.71 49,178.49 50,178.28 51,178.07 52,177.85 53,177.63 54,177.4 55,177.17 56,176.94 57,176.7 58,176.46 59,176.21 60,175.97 61,175.72 62,175.46 63,175.21 64,174.95 65,174.7 66,174.44 67,174.17 68,173.9 69,173.63 70,173.35 71,173.07 72,172.79 73,172.51 74,172.22 75,171.94 76,171.65 77,171.36 78,171.07 79,170.78 80,170.49 81,170.2 82,169.9 83,169.59 84,169.28 85,168.97 86,168.66 87,168.34 88,168.03 89,167.72 90,167.42 91,167.12 92,166.83 93,166.54 94,166.27 95,166.01 96,165.76 97,165.51 98,165.26 99,165.02 100,164.77 101,164.54 102,164.3 103,164.07 104,163.85 105,163.63 106,163.41 107,163.21 108,163.01 109,162.81 110,162.63 111,162.45 112,162.28 113,162.12 114,161.97 115,161.83 116,161.69 117,161.57 118,161.45 119,161.33 120,161.22 121,161.11 122,160.99 123,160.88 124,160.77 125,160.65 126,160.53 127,160.4 128,160.27 129,160.13 130,159.98 131,159.82 132,159.65 133,159.48 134,159.31 135,159.13 136,158.94 137,158.75 138,158.55 139,158.35 140,158.14 141,157.93 142,157.72 143,157.5 144,157.28 145,157.06 146,156.83 147,156.6 148,156.36 149,156.13 150,155.89 151,155.65 152,155.4 153,155.14 154,154.87 155,154.61 156,154.33 157,154.05 158,153.76 159,153.47 160,153.17 161,152.87 162,152.56 163,152.25 164,151.93 165,151.61 166,151.26 167,150.9 168,150.51 169,150.12 170,149.74 171,149.36 172,149.01 173,148.69 174,148.35 175,148 176,147.72 177,147.61 178,147.61 179,147.61 180,147.61 181,147.61 182,147.61 183,147.61 184,147.61 185,147.75 186,148.08 187,148.49 188,148.88 189,149.22 190,149.58 191,149.94 192,150.31 193,150.68 194,151.06 195,151.45 196,151.83 197,152.21 198,152.6 199,152.98 200,153.36 201,153.73 202,154.11 203,154.49 204,154.87 205,155.26 206,155.64 207,156.02 208,156.41 209,156.79 210,157.17 211,157.55 212,157.93 213,158.3 214,158.68 215,159.05 216,159.42 217,159.78 218,160.15 219,160.52 220,160.89 221,161.27 222,161.64 223,162.01 224,162.39 225,162.76 226,163.12 227,163.48 228,163.83 229,164.18 230,164.51 231,164.84 232,165.15 233,165.45 234,165.74 235,166.01 236,166.27 237,166.53 238,166.78 239,167.03 240,167.27 241,167.51 242,167.74 243,167.96 244,168.18 245,168.4 246,168.61 247,168.83 248,169.03 249,169.24 250,169.44 251,169.65 252,169.85 253,170.05 254,170.25 255,170.45 256,170.65 257,170.85 258,171.06 259,171.26 260,171.46 261,171.67 262,171.88 263,172.08 264,172.29 265,172.5 266,172.7 267,172.91 268,173.11 269,173.32 270,173.52 271,173.72 272,173.92 273,174.12 274,174.32 275,174.52 276,174.72 277,174.91 278,175.11 279,175.3 280,175.49 281,175.68 282,175.87 283,176.06 284,176.24 285,176.42 286,176.6 287,176.78 288,176.96 289,177.13 290,177.31 291,177.48 292,177.65 293,177.83 294,178 295,178.17 296,178.35 297,178.51 298,178.68 299,178.84 300,178.99 301,179.14 302,179.28 303,179.41 304,179.53 305,179.64 306,179.75 307,179.85 308,179.95 309,180.04 310,180.13 311,180.22 312,180.3 313,180.37 314,180.44 315,180.51 316,180.56 317,180.62" fill="none" stroke="#ee1c25" stroke-width="1.5" stroke-linejoin="round"/>
<text x="340" y="13.9" font-size="15.5" text-anchor="start" font-weight="bold" font-style="normal" fill="#000">B</text>
<line x1="379.4" y1="9.2" x2="379.4" y2="138.5" stroke="#3a3a3a" stroke-width="1"/>
<line x1="376.9" y1="139.8" x2="379.4" y2="139.8" stroke="#3a3a3a" stroke-width="1"/>
<text x="375.6" y="139.5" font-size="8.5" text-anchor="end" font-weight="normal" font-style="normal" fill="#1a1a1a">0</text>
<line x1="376.9" y1="116.3" x2="379.4" y2="116.3" stroke="#3a3a3a" stroke-width="1"/>
<text x="375.6" y="119.3" font-size="8.5" text-anchor="end" font-weight="normal" font-style="normal" fill="#1a1a1a">1</text>
<line x1="376.9" y1="92.8" x2="379.4" y2="92.8" stroke="#3a3a3a" stroke-width="1"/>
<text x="375.6" y="95.8" font-size="8.5" text-anchor="end" font-weight="normal" font-style="normal" fill="#1a1a1a">2</text>
<line x1="376.9" y1="69.3" x2="379.4" y2="69.3" stroke="#3a3a3a" stroke-width="1"/>
<text x="375.6" y="72.3" font-size="8.5" text-anchor="end" font-weight="normal" font-style="normal" fill="#1a1a1a">3</text>
<line x1="376.9" y1="45.8" x2="379.4" y2="45.8" stroke="#3a3a3a" stroke-width="1"/>
<text x="375.6" y="48.8" font-size="8.5" text-anchor="end" font-weight="normal" font-style="normal" fill="#1a1a1a">4</text>
<line x1="376.9" y1="22.3" x2="379.4" y2="22.3" stroke="#3a3a3a" stroke-width="1"/>
<text x="375.6" y="25.3" font-size="8.5" text-anchor="end" font-weight="normal" font-style="normal" fill="#1a1a1a">5</text>
<text x="364.5" y="74.6" font-size="10.5" text-anchor="middle" font-weight="normal" font-style="normal" fill="#1a1a1a" transform="rotate(-90 364.5 74.6)">Fluorescence (F/F0)</text>
<circle cx="404.1" cy="22.3" r="11" fill="none" stroke="#9e4f7c" stroke-width="3.8"/>
<circle cx="404.1" cy="22.3" r="11" fill="none" stroke="#dc7bb2" stroke-width="1.1"/>
<circle cx="404.1" cy="22.3" r="5.4" fill="none" stroke="#777" stroke-width="0.6"/>
<circle cx="404.1" cy="22.3" r="3.1" fill="none" stroke="#777" stroke-width="0.6"/>
<text x="422.5" y="28.6" font-size="15.8" text-anchor="start" font-weight="bold" font-style="normal" fill="#d27aa6">R2/R4</text>
<rect x="547.8" y="0" width="120.2" height="104.4" fill="#141414"/>
<rect x="547.8" y="0" width="120.2" height="1" fill="#555"/>
<g filter="url(#bl2)"><ellipse cx="610" cy="55" rx="20" ry="24" fill="#fff" opacity="0.12"/><ellipse cx="620" cy="72" rx="12" ry="14" fill="#fff" opacity="0.08"/></g>
<circle cx="600" cy="57.5" r="6.5" fill="#fff" opacity="1.0" filter="url(#bl)"/>
<circle cx="619.5" cy="57" r="5.2" fill="#fff" opacity="1.0" filter="url(#bl)"/>
<circle cx="628.7" cy="29.7" r="3.6" fill="#fff" opacity="0.9" filter="url(#bl)"/>
<circle cx="621.5" cy="44" r="3.5" fill="#fff" opacity="0.95" filter="url(#bl)"/>
<circle cx="587.5" cy="66" r="3.4" fill="#fff" opacity="0.8" filter="url(#bl)"/>
<circle cx="613.7" cy="68.6" r="3.8" fill="#fff" opacity="0.8" filter="url(#bl)"/>
<circle cx="614" cy="49" r="3.2" fill="#fff" opacity="0.6" filter="url(#bl)"/>
<circle cx="616.8" cy="36.5" r="3.0" fill="#fff" opacity="0.45" filter="url(#bl)"/>
<circle cx="620.5" cy="75" r="3.0" fill="#fff" opacity="0.45" filter="url(#bl)"/>
<circle cx="602.5" cy="51" r="2.5" fill="#fff" opacity="0.4" filter="url(#bl)"/>
<circle cx="612" cy="60" r="3" fill="#fff" opacity="0.6" filter="url(#bl)"/>
<text x="587.5" y="68" font-size="5.6" text-anchor="middle" font-weight="bold" font-style="normal" fill="#ff1f1f">1</text>
<text x="620.5" y="77" font-size="5.6" text-anchor="middle" font-weight="bold" font-style="normal" fill="#ff1f1f">2</text>
<text x="628.7" y="31.7" font-size="5.6" text-anchor="middle" font-weight="bold" font-style="normal" fill="#ff1f1f">3</text>
<text x="620.5" y="56.3" font-size="5.6" text-anchor="middle" font-weight="bold" font-style="normal" fill="#ff1f1f">4</text>
<text x="621.5" y="46" font-size="5.6" text-anchor="middle" font-weight="bold" font-style="normal" fill="#ff1f1f">5</text>
<text x="614" y="51" font-size="5.6" text-anchor="middle" font-weight="bold" font-style="normal" fill="#ff1f1f">6</text>
<text x="616.8" y="38.5" font-size="5.6" text-anchor="middle" font-weight="bold" font-style="normal" fill="#ff1f1f">7</text>
<text x="598.8" y="58.3" font-size="5.6" text-anchor="middle" font-weight="bold" font-style="normal" fill="#ff1f1f">8</text>
<text x="603.5" y="62" font-size="5.6" text-anchor="middle" font-weight="bold" font-style="normal" fill="#ff1f1f">9</text>
<text x="612" y="62" font-size="5.6" text-anchor="middle" font-weight="bold" font-style="normal" fill="#ff1f1f">10</text>
<text x="602.5" y="53" font-size="5.6" text-anchor="middle" font-weight="bold" font-style="normal" fill="#ff1f1f">11</text>
<text x="613.7" y="70.6" font-size="5.6" text-anchor="middle" font-weight="bold" font-style="normal" fill="#ff1f1f">12</text>
<text x="665" y="12" font-size="10.5" text-anchor="end" font-weight="normal" font-style="italic" fill="#f2f2f2">EB1 &gt; GCaMP6f</text>
<rect x="646.5" y="99" width="18" height="2.6" fill="#fff"/>
<polyline points="379.4,117.2 379.9,117.21 380.4,117.69 380.9,116.73 381.4,117.27 381.9,117.37 382.4,116.14 382.9,115.85 383.4,116.56 383.9,115.59 384.4,115.94 384.9,115.55 385.4,115.69 385.9,116.46 386.4,115.55 386.9,116.22 387.4,116.47 387.9,116.65 388.4,116.93 388.9,116.86 389.4,117.19 389.9,116.99 390.4,117.13 390.9,116.82 391.4,117.03 391.9,116.92 392.4,117.14 392.9,116.91 393.4,116.76 393.9,116.88 394.4,116.98 394.9,116.5 395.4,116.19 395.9,116.37 396.4,116.28 396.9,116.41 397.4,115.97 397.9,115.75 398.4,115.17 398.9,115.26 399.4,115.42 399.9,115.71 400.4,115.62 400.9,114.66 401.4,114.58 401.9,114.91 402.4,114.91 402.9,115.17 403.4,115.51 403.9,115.81 404.4,114.91 404.9,115.5 405.4,115.53 405.9,116.12 406.4,117.06 406.9,116.65 407.4,116.4 407.9,116.85 408.4,117.22 408.9,117.2 409.4,117.55 409.9,117.22 410.4,117.79 410.9,117.19 411.4,117.02 411.9,116.78 412.4,116.85 412.9,117.04 413.4,116.46 413.9,117.08 414.4,116.29 414.9,116.17 415.4,115.58 415.9,115.41 416.4,114.83 416.9,115.28 417.4,115.02 417.9,114.72 418.4,115.53 418.9,115.41 419.4,116.05 419.9,115.67 420.4,115.28 420.9,115.56 421.4,116.59 421.9,115.9 422.4,116.31 422.9,116.78 423.4,117.59 423.9,117.91 424.4,117.77 424.9,117.22 425.4,117.84 425.9,117.96 426.4,117.45 426.9,118.09 427.4,117.78 427.9,117.8 428.4,117.43 428.9,117.35 429.4,117.69 429.9,117.18 430.4,117.92 430.9,117.69 431.4,117.42 431.9,117.68 432.4,117.83 432.9,117.47 433.4,117.12 433.9,116.98 434.4,116.75 434.9,116.69 435.4,116.39 435.9,116.73 436.4,117.16 436.9,117.2 437.4,116.47 437.9,116.24 438.4,116.51 438.9,116.53 439.4,116.41 439.9,116.12 440.4,116.22 440.9,116.47 441.4,116.28 441.9,116.25 442.4,116 442.9,116.86 443.4,116.81 443.9,117.12 444.4,117.55 444.9,117.67 445.4,117.35 445.9,115.93 446.4,116.52 446.9,116.33 447.4,115.96 447.9,115.42 448.4,115.76 448.9,115.51 449.4,116.2 449.9,115.2 450.4,115.12 450.9,115.19 451.4,115.61 451.9,115.71 452.4,115.79 452.9,116.41 453.4,116 453.9,116.2 454.4,116.74 454.9,116.41 455.4,116.5 455.9,116.94 456.4,116.61 456.9,117.05 457.4,117.13 457.9,116.6 458.4,116.87 458.9,116.25 459.4,116.13 459.9,116.92 460.4,115.8 460.9,115.95 461.4,116.39 461.9,115.7 462.4,116.01 462.9,117.14 463.4,116.1 463.9,116.38 464.4,115.78 464.9,115.53 465.4,116.42 465.9,115.76 466.4,115.69 466.9,115.5 467.4,114.98 467.9,115 468.4,115.35 468.9,114.51 469.4,114.98 469.9,115.21 470.4,115.99 470.9,115.72 471.4,115.95 471.9,116.15 472.4,116.64 472.9,116.31 473.4,116.53 473.9,116.59 474.4,116.78 474.9,115.88 475.4,116.08 475.9,114.98 476.4,114.79 476.9,114.67 477.4,114.6 477.9,115.05 478.4,115.05 478.9,115.25 479.4,114.97 479.9,115.63 480.4,115.38 480.9,115.79 481.4,116.28 481.9,117.77 482.4,116.27 482.9,116.21 483.4,116.61 483.9,116.18 484.4,117.25 484.9,115.1 485.4,115.93 485.9,116.57 486.4,114.83 486.9,114.2 487.4,112.28 487.9,114.18 488.4,115.17 488.9,112.78 489.4,112.29 489.9,112.16 490.4,113.45 490.9,111.07 491.4,109.87 491.9,112.79 492.4,109.99 492.9,110.24 493.4,107.03 493.9,108.69 494.4,109.29 494.9,107.99 495.4,107.82 495.9,108.21 496.4,106.77 496.9,107.33 497.4,107.94 497.9,105.02 498.4,106.43 498.9,106.04 499.4,103.96 499.9,105.23 500.4,103.48 500.9,100.59 501.4,98.5 501.9,96.2 502.4,93.31 502.9,92.32 503.4,89.57 503.9,87.47 504.4,87.19 504.9,83.5 505.4,86.84 505.9,88.76 506.4,92.84 506.9,96.31 507.4,100.63 507.9,102.85 508.4,104.6 508.9,103.65 509.4,105.29 509.9,106.72 510.4,105.36 510.9,105.79 511.4,106.91 511.9,105.74 512.4,107.44 512.9,107.49 513.4,107.3 513.9,108.52 514.4,108.28 514.9,108.1 515.4,107.05 515.9,107.16 516.4,109.05 516.9,107.49 517.4,108.9 517.9,108.96 518.4,108.85 518.9,109.42 519.4,107.6 519.9,109.71 520.4,110.96 520.9,108.37 521.4,110.22 521.9,109.97 522.4,113.19 522.9,109.65 523.4,109.9 523.9,110.15 524.4,109.68 524.9,109.17 525.4,110.61 525.9,109.96 526.4,111.68 526.9,111.47 527.4,110.06 527.9,110.36 528.4,111.95 528.9,110.32 529.4,111.07 529.9,111.2 530.4,110.41 530.9,111.56 531.4,113.17 531.9,113.16 532.4,110.06 532.9,113.63 533.4,112.07 533.9,111.15 534.4,110.73 534.9,113.54 535.4,112.41 535.9,111.81 536.4,110.95 536.9,112.1 537.4,113 537.9,110.47 538.4,110.38 538.9,111.58 539.4,113 539.9,111.6 540.4,112.13 540.9,111.49 541.4,113.46 541.9,112.07 542.4,112.44 542.9,114.07 543.4,112.94 543.9,113.5 544.4,114.28 544.9,113.62 545.4,116.16 545.9,114.81 546.4,114.57 546.9,114.83 547.4,114.2 547.9,116.14 548.4,116.54 548.9,114.72 549.4,114.76 549.9,113.04 550.4,113.94 550.9,115.25 551.4,113.55 551.9,115.61 552.4,116.22 552.9,112.32 553.4,114.63 553.9,114.33 554.4,114.2 554.9,112.7 555.4,114.58 555.9,113.73 556.4,116.39 556.9,116.83 557.4,113.79 557.9,113.25 558.4,114 558.9,114 559.4,113.81 559.9,114.95 560.4,112.17 560.9,113.13 561.4,113.21 561.9,112.87 562.4,112.23 562.9,113.35 563.4,113.73 563.9,115.7 564.4,114.25 564.9,112.47 565.4,115.92 565.9,115.37 566.4,114.35 566.9,114.72 567.4,114.71 567.9,116.69 568.4,114.07 568.9,116.44 569.4,116.27 569.9,114.7 570.4,115.59 570.9,114.43 571.4,112.17 571.9,114.48 572.4,115.02 572.9,116.85 573.4,116.72 573.9,116.59 574.4,116.07 574.9,117.2 575.4,117.03 575.9,117.09 576.4,117.92 576.9,118.31 577.4,117.84 577.9,116.14 578.4,116.84 578.9,116.09 579.4,116.12 579.9,117.01 580.4,115.61 580.9,117.7 581.4,113.51 581.9,115.47 582.4,117.52 582.9,118.9 583.4,116.9 583.9,119.33 584.4,118.17 584.9,116.92 585.4,117.37 585.9,118.32 586.4,116.85 586.9,118.62 587.4,117.14 587.9,117.83 588.4,118.17 588.9,116.34 589.4,118.15 589.9,114.86 590.4,117.94 590.9,114.88 591.4,118.1 591.9,116.22 592.4,117.81 592.9,117.95 593.4,116.42 593.9,116.23 594.4,117.93 594.9,115.23 595.4,117.18 595.9,116.11 596.4,115.73 596.9,115.41 597.4,118.51 597.9,114.78 598.4,116.15 598.9,117.18 599.4,118.02 599.9,118.96 600.4,118.75 600.9,116.49 601.4,117.91 601.9,118.38 602.4,117.45 602.9,114.94 603.4,116.56 603.9,116.86 604.4,114.66 604.9,114.89 605.4,115.64 605.9,116.5 606.4,116.95 606.9,117.15 607.4,116.39 607.9,115.98 608.4,115.01 608.9,115 609.4,115.23 609.9,115.58 610.4,116.68 610.9,118.21 611.4,116.47 611.9,116.67 612.4,116.2 612.9,115.59 613.4,116.99 613.9,116.53 614.4,115.3 614.9,115.45 615.4,116.36 615.9,114.72 616.4,115.7 616.9,116.6 617.4,115.68 617.9,113.5 618.4,116.11 618.9,114.2 619.4,113.93 619.9,113.59 620.4,115.88 620.9,112.61 621.4,114.63 621.9,115.12 622.4,114.86 622.9,114.49 623.4,115.44 623.9,115.76 624.4,114.06 624.9,116.24 625.4,116.63 625.9,114.64 626.4,114.51 626.9,114.22 627.4,116.56 627.9,113.91 628.4,114.69 628.9,113.04 629.4,116.37 629.9,115.18 630.4,115.91 630.9,117.73 631.4,116.68 631.9,114.8 632.4,116.98 632.9,117.59 633.4,115.43 633.9,115.59 634.4,115.77 634.9,117.44 635.4,117.08 635.9,115.55 636.4,117.6 636.9,117.28 637.4,115.01 637.9,113.85 638.4,117.33 638.9,118.76 639.4,117.38 639.9,116.3 640.4,114.79 640.9,113.78 641.4,114.94 641.9,115.69 642.4,114.58 642.9,116.02 643.4,115.16 643.9,115.77 644.4,112.1 644.9,114.22 645.4,116.74 645.9,116.87 646.4,115.9 646.9,117.37 647.4,116.78 647.9,116.42 648.4,113.94 648.9,115.63 649.4,116.3 649.9,117.15 650.4,116.05 650.9,114.91 651.4,115.74 651.9,113.57 652.4,115.5 652.9,113.36 653.4,114.66 653.9,114.82 654.4,116.88 654.9,115.91 655.4,113.55 655.9,113.19 656.4,114.26 656.9,113.53 657.4,114.91 657.9,115.42 658.4,115.74 658.9,113.75 659.4,114.39 659.9,115.49 660.4,115.99 660.9,114.55 661.4,114.51 661.9,116.44 662.4,113.43 662.9,114.84 663.4,114.81 663.9,112.96 664.4,113.48 664.9,114.53 665.4,113.62 665.9,115.13 666.4,114.57 666.9,115.86 667.4,111.37 667.9,115" fill="none" stroke="#a6a6a6" stroke-width="1.15" stroke-linejoin="round"/>
<polyline points="379.4,116.33 379.9,115.88 380.4,115.94 380.9,115.59 381.4,114.81 381.9,114.73 382.4,115.18 382.9,115.18 383.4,115.4 383.9,115.79 384.4,115.44 384.9,115.76 385.4,115.96 385.9,116 386.4,116.17 386.9,116.09 387.4,115.79 387.9,116.05 388.4,116.06 388.9,115.66 389.4,116.19 389.9,115.57 390.4,115.64 390.9,115.88 391.4,115.44 391.9,115.46 392.4,116.07 392.9,115.9 393.4,116.34 393.9,116.05 394.4,116.48 394.9,116.13 395.4,115.75 395.9,115.98 396.4,116.27 396.9,116.97 397.4,116.65 397.9,116.49 398.4,115.94 398.9,116.28 399.4,115.69 399.9,115.32 400.4,115.37 400.9,115.84 401.4,116.01 401.9,115.66 402.4,115.53 402.9,115.63 403.4,115.9 403.9,116.26 404.4,116.13 404.9,116.65 405.4,116.71 405.9,117.37 406.4,116.61 406.9,116.78 407.4,116.74 407.9,117.07 408.4,117.17 408.9,116.64 409.4,116.99 409.9,116.69 410.4,117.05 410.9,116.9 411.4,116.67 411.9,116.87 412.4,116.7 412.9,117.3 413.4,117.76 413.9,118.11 414.4,118.39 414.9,118.46 415.4,117.98 415.9,117.73 416.4,117.99 416.9,117.7 417.4,118.57 417.9,118.44 418.4,117.86 418.9,117.89 419.4,117.38 419.9,117.33 420.4,117.13 420.9,117.31 421.4,117.63 421.9,117.4 422.4,116.82 422.9,116.63 423.4,116.97 423.9,116.42 424.4,116.24 424.9,116.47 425.4,116.54 425.9,116.84 426.4,116.31 426.9,116.85 427.4,116.53 427.9,115.69 428.4,116 428.9,116.46 429.4,116.25 429.9,116.36 430.4,116.63 430.9,116.13 431.4,116.03 431.9,116.72 432.4,116.15 432.9,117.27 433.4,117.83 433.9,117.71 434.4,117.61 434.9,117.71 435.4,117.72 435.9,117.68 436.4,118.43 436.9,117.63 437.4,117.62 437.9,117.36 438.4,118.09 438.9,117.58 439.4,117.68 439.9,117.09 440.4,117.78 440.9,117.97 441.4,118.37 441.9,118.98 442.4,118.75 442.9,118.61 443.4,117.85 443.9,118.88 444.4,118.21 444.9,118.8 445.4,117.99 445.9,117.28 446.4,117.66 446.9,117.36 447.4,117.54 447.9,117.03 448.4,117.31 448.9,117.41 449.4,118.29 449.9,117.93 450.4,117.51 450.9,118.07 451.4,118.28 451.9,118.16 452.4,119.27 452.9,119.04 453.4,119.03 453.9,118.64 454.4,119.23 454.9,118.98 455.4,119.14 455.9,118.65 456.4,117.79 456.9,118.07 457.4,118 457.9,117.89 458.4,119.16 458.9,118.19 459.4,118.36 459.9,118.68 460.4,119.07 460.9,119.15 461.4,119.15 461.9,118.31 462.4,118 462.9,118.5 463.4,118.45 463.9,117.99 464.4,118.53 464.9,117.43 465.4,117.39 465.9,117.8 466.4,117.22 466.9,116.92 467.4,117.75 467.9,116.84 468.4,117.46 468.9,116.91 469.4,117.11 469.9,117.52 470.4,117.32 470.9,116.79 471.4,116.28 471.9,116.95 472.4,117.08 472.9,117.12 473.4,116.8 473.9,116.86 474.4,117.23 474.9,117.13 475.4,118.13 475.9,117.63 476.4,117.98 476.9,116.85 477.4,117.55 477.9,117.99 478.4,118.04 478.9,118.71 479.4,118.23 479.9,118.57 480.4,117.08 480.9,117.47 481.4,117.86 481.9,117.83 482.4,117.23 482.9,117.33 483.4,116.96 483.9,117.22 484.4,117.24 484.9,116.5 485.4,115.99 485.9,116.59 486.4,116.58 486.9,114.7 487.4,115.97 487.9,114.31 488.4,115.03 488.9,114.41 489.4,113.35 489.9,114.09 490.4,114.05 490.9,115.75 491.4,115.66 491.9,114.48 492.4,113.36 492.9,113.54 493.4,112.64 493.9,114.17 494.4,114.51 494.9,113.96 495.4,114.27 495.9,113.68 496.4,114.29 496.9,112.39 497.4,114.51 497.9,112.87 498.4,110.23 498.9,102.88 499.4,99.44 499.9,92.5 500.4,89.61 500.9,83.41 501.4,76.39 501.9,72.67 502.4,66.61 502.9,65.89 503.4,72.19 503.9,74.43 504.4,78.44 504.9,84.07 505.4,79.87 505.9,76.54 506.4,72.62 506.9,67.53 507.4,63.53 507.9,60.78 508.4,66.63 508.9,67.64 509.4,70.25 509.9,75.76 510.4,79.11 510.9,80.88 511.4,85.63 511.9,88.36 512.4,91.04 512.9,96.08 513.4,100.64 513.9,105.49 514.4,104.01 514.9,105.68 515.4,104.87 515.9,105.26 516.4,107.29 516.9,104.64 517.4,105.73 517.9,106.53 518.4,108.62 518.9,108.73 519.4,109.51 519.9,109.78 520.4,111 520.9,109.81 521.4,110.18 521.9,110.41 522.4,111.41 522.9,109.49 523.4,110.86 523.9,113.44 524.4,111.03 524.9,110.47 525.4,109.29 525.9,110.31 526.4,110.2 526.9,110.7 527.4,109.18 527.9,110.36 528.4,110.86 528.9,111.17 529.4,110.09 529.9,111.76 530.4,113 530.9,111.31 531.4,112.68 531.9,111.77 532.4,111.94 532.9,111.3 533.4,111.83 533.9,113.81 534.4,113.98 534.9,115 535.4,111.82 535.9,112.83 536.4,112.33 536.9,114.14 537.4,116.26 537.9,112.72 538.4,114 538.9,114.45 539.4,114.42 539.9,114.22 540.4,114.53 540.9,116.82 541.4,113.5 541.9,115.33 542.4,115.39 542.9,113.43 543.4,114.88 543.9,115.88 544.4,117.66 544.9,115.77 545.4,115.62 545.9,116.39 546.4,117.48 546.9,116.67 547.4,117.05 547.9,115.62 548.4,114.7 548.9,114.49 549.4,116.27 549.9,114.8 550.4,114.32 550.9,115.08 551.4,114.7 551.9,112.5 552.4,114.91 552.9,113.37 553.4,114.86 553.9,114.18 554.4,115.73 554.9,114.19 555.4,112.76 555.9,112.22 556.4,113.37 556.9,113.82 557.4,113.88 557.9,114.88 558.4,114.28 558.9,113.46 559.4,115.42 559.9,113.45 560.4,115.1 560.9,116.08 561.4,115.49 561.9,116.29 562.4,116.65 562.9,114.58 563.4,115.86 563.9,115.88 564.4,115 564.9,114.97 565.4,117.64 565.9,115.8 566.4,116.78 566.9,116.79 567.4,116.03 567.9,117.54 568.4,117.48 568.9,116.67 569.4,116.11 569.9,117.02 570.4,116.85 570.9,115.71 571.4,115.56 571.9,117.17 572.4,117.36 572.9,119.49 573.4,119.62 573.9,119.46 574.4,120.22 574.9,121.02 575.4,118.83 575.9,120.92 576.4,121.95 576.9,120.47 577.4,118.94 577.9,121.06 578.4,119.97 578.9,121.48 579.4,121.68 579.9,122.02 580.4,121.48 580.9,119.61 581.4,122.81 581.9,119.56 582.4,122.95 582.9,122.29 583.4,120.3 583.9,120.4 584.4,120.26 584.9,122.08 585.4,120.14 585.9,121.78 586.4,117.77 586.9,120.83 587.4,120.01 587.9,121.48 588.4,121.06 588.9,122.47 589.4,120.3 589.9,121.3 590.4,119.5 590.9,120.5 591.4,119.9 591.9,118.08 592.4,120.43 592.9,121.6 593.4,118.85 593.9,120.12 594.4,118.61 594.9,117.22 595.4,119.4 595.9,117.71 596.4,119.35 596.9,116.75 597.4,116.63 597.9,118.46 598.4,118.02 598.9,118.26 599.4,117.58 599.9,116.42 600.4,119.22 600.9,115.99 601.4,118.77 601.9,117.8 602.4,118.84 602.9,114.15 603.4,116.71 603.9,117.23 604.4,118.29 604.9,116.14 605.4,119.7 605.9,117.68 606.4,115.18 606.9,118.85 607.4,118.4 607.9,117.41 608.4,118.82 608.9,117.5 609.4,116.08 609.9,116.74 610.4,116.68 610.9,117.15 611.4,116.79 611.9,117.06 612.4,115.29 612.9,116.2 613.4,117.38 613.9,119.81 614.4,116.49 614.9,116.66 615.4,118.08 615.9,119.49 616.4,118.53 616.9,115.51 617.4,117.74 617.9,116.92 618.4,116.14 618.9,114.38 619.4,115.7 619.9,115.84 620.4,117.09 620.9,114.69 621.4,115.11 621.9,116.69 622.4,118.21 622.9,117.81 623.4,115.92 623.9,118.1 624.4,116.36 624.9,117.01 625.4,116.95 625.9,116.29 626.4,116.17 626.9,117.76 627.4,116.81 627.9,113.59 628.4,117.92 628.9,117.05 629.4,115.54 629.9,117.11 630.4,117.64 630.9,118.43 631.4,116.27 631.9,116.14 632.4,116.33 632.9,118.26 633.4,116.89 633.9,119.17 634.4,117.54 634.9,118.59 635.4,117.34 635.9,116.66 636.4,116.39 636.9,118.67 637.4,115.58 637.9,117.1 638.4,117.88 638.9,116.5 639.4,117.91 639.9,116.01 640.4,115.71 640.9,116.08 641.4,115.31 641.9,115.84 642.4,115.81 642.9,117.39 643.4,115.59 643.9,116.86 644.4,115.95 644.9,115.81 645.4,115.67 645.9,117.51 646.4,117.43 646.9,116.31 647.4,114.99 647.9,115.14 648.4,114.96 648.9,114.31 649.4,115.84 649.9,116.38 650.4,117.52 650.9,117.86 651.4,117.44 651.9,116.31 652.4,116.85 652.9,117.19 653.4,117.11 653.9,116.19 654.4,116.54 654.9,116.42 655.4,116.64 655.9,117.57 656.4,117.56 656.9,115.51 657.4,115.51 657.9,116.05 658.4,116.5 658.9,113.28 659.4,116.8 659.9,115.7 660.4,114.71 660.9,116.36 661.4,115.11 661.9,113.54 662.4,114.41 662.9,114.72 663.4,113.64 663.9,114.25 664.4,113.14 664.9,114.8 665.4,115.01 665.9,114.66 666.4,113.94 666.9,114.3 667.4,114.12 667.9,117.17" fill="none" stroke="#b0b0b0" stroke-width="1.15" stroke-linejoin="round"/>
<polyline points="379.4,115.34 379.9,115.16 380.4,115.13 380.9,115.45 381.4,115.3 381.9,115.57 382.4,115.16 382.9,115.65 383.4,115.52 383.9,115.92 384.4,115.37 384.9,115.42 385.4,115.33 385.9,115.35 386.4,115.19 386.9,114.99 387.4,115.44 387.9,115.09 388.4,115.02 388.9,114.87 389.4,114.93 389.9,115.19 390.4,115.4 390.9,115.85 391.4,115.26 391.9,115.57 392.4,115.41 392.9,115.32 393.4,115.53 393.9,115.97 394.4,116.16 394.9,115.88 395.4,116.05 395.9,115.78 396.4,116.12 396.9,116.54 397.4,116.67 397.9,116.56 398.4,116.78 398.9,116.83 399.4,116.58 399.9,116.03 400.4,115.69 400.9,116.03 401.4,116.24 401.9,116.11 402.4,115.93 402.9,115.87 403.4,115.87 403.9,115.95 404.4,117.09 404.9,117.37 405.4,116.49 405.9,116.14 406.4,116.96 406.9,116.54 407.4,116 407.9,116.2 408.4,116.38 408.9,115.56 409.4,114.96 409.9,114.47 410.4,114.62 410.9,114.88 411.4,114.51 411.9,114.75 412.4,115.1 412.9,115.01 413.4,114.55 413.9,115 414.4,114.55 414.9,114.55 415.4,115.04 415.9,114.75 416.4,114.79 416.9,114.58 417.4,115.14 417.9,114.79 418.4,114.57 418.9,114.39 419.4,114.9 419.9,115.47 420.4,115.1 420.9,114.96 421.4,114.94 421.9,115.08 422.4,114.47 422.9,115.63 423.4,115.09 423.9,114.92 424.4,114.55 424.9,114.47 425.4,114.55 425.9,115.07 426.4,114.5 426.9,114.55 427.4,113.87 427.9,114.02 428.4,113.59 428.9,113.68 429.4,113.8 429.9,114.08 430.4,113.96 430.9,114.14 431.4,114.71 431.9,114.45 432.4,114.21 432.9,113.71 433.4,114.69 433.9,114.57 434.4,114.53 434.9,114.68 435.4,114.21 435.9,113.45 436.4,113.13 436.9,113.61 437.4,113.57 437.9,113.84 438.4,113.88 438.9,113.99 439.4,113.88 439.9,113.98 440.4,113.68 440.9,112.91 441.4,113.42 441.9,113.24 442.4,113.25 442.9,114.15 443.4,113.81 443.9,113.94 444.4,113.48 444.9,113.7 445.4,114.14 445.9,113.88 446.4,114.28 446.9,113.9 447.4,114.21 447.9,114.35 448.4,113.32 448.9,114.07 449.4,114.19 449.9,113.82 450.4,114.15 450.9,113.81 451.4,114.03 451.9,114.49 452.4,113.84 452.9,114.58 453.4,114.6 453.9,115.05 454.4,115.16 454.9,115 455.4,114.92 455.9,115.16 456.4,115.51 456.9,114.55 457.4,115.57 457.9,115.05 458.4,115.39 458.9,115.33 459.4,114.55 459.9,114.96 460.4,114.97 460.9,114.18 461.4,114.56 461.9,114.85 462.4,114.95 462.9,114.74 463.4,114.58 463.9,114.78 464.4,114.5 464.9,114.94 465.4,114.95 465.9,115.45 466.4,116.06 466.9,115.37 467.4,114.81 467.9,114.56 468.4,114.81 468.9,114.07 469.4,113.89 469.9,114.95 470.4,114.64 470.9,114.23 471.4,114.91 471.9,115.09 472.4,114.8 472.9,115.25 473.4,115.66 473.9,115.56 474.4,116.02 474.9,115.18 475.4,115.18 475.9,114.77 476.4,114.69 476.9,115.44 477.4,114.88 477.9,114.49 478.4,114.47 478.9,113.14 479.4,114.28 479.9,114.18 480.4,113.29 480.9,113.69 481.4,113.78 481.9,114.14 482.4,114.05 482.9,113.55 483.4,114.03 483.9,114.86 484.4,114.13 484.9,113.87 485.4,113.71 485.9,116.27 486.4,114.93 486.9,114.06 487.4,113.77 487.9,113.76 488.4,112.42 488.9,112.2 489.4,112.64 489.9,113.06 490.4,111.89 490.9,113.35 491.4,112.58 491.9,111.63 492.4,111.72 492.9,113.67 493.4,112.12 493.9,112.89 494.4,112.75 494.9,111.24 495.4,111.64 495.9,112.11 496.4,110.94 496.9,111.47 497.4,112.3 497.9,111.92 498.4,111.78 498.9,112.04 499.4,111.86 499.9,111.49 500.4,112.39 500.9,112.6 501.4,110.28 501.9,111.59 502.4,111.38 502.9,111.87 503.4,112.1 503.9,112.39 504.4,112.63 504.9,113.29 505.4,111.98 505.9,113.93 506.4,112.96 506.9,115.69 507.4,115.11 507.9,113.31 508.4,114.08 508.9,115.19 509.4,114.61 509.9,115.91 510.4,114.02 510.9,115.46 511.4,113.07 511.9,112.91 512.4,111.21 512.9,110.05 513.4,111.42 513.9,107.98 514.4,109.11 514.9,109.99 515.4,110.18 515.9,105.74 516.4,101.77 516.9,94.72 517.4,87.81 517.9,81.46 518.4,81.87 518.9,89.01 519.4,93.3 519.9,100.75 520.4,104.63 520.9,102.41 521.4,103.89 521.9,105.32 522.4,104.21 522.9,106.61 523.4,106.3 523.9,108.69 524.4,110.06 524.9,110.28 525.4,111.55 525.9,109.9 526.4,110.64 526.9,110.81 527.4,110.73 527.9,110.93 528.4,111.85 528.9,110.49 529.4,111.56 529.9,110.36 530.4,111.84 530.9,110.79 531.4,110.26 531.9,111.66 532.4,110.92 532.9,111.03 533.4,110.1 533.9,111.21 534.4,110.02 534.9,109.03 535.4,110.15 535.9,112.25 536.4,110.69 536.9,109.99 537.4,111.6 537.9,110.2 538.4,110.65 538.9,111.37 539.4,112.21 539.9,112.67 540.4,112.53 540.9,112.56 541.4,111.99 541.9,112.12 542.4,113.14 542.9,113.02 543.4,112.37 543.9,114.65 544.4,113.81 544.9,113.87 545.4,113.16 545.9,112.93 546.4,113.19 546.9,113.85 547.4,112.05 547.9,112.01 548.4,114.22 548.9,112.38 549.4,113.51 549.9,110.18 550.4,112.45 550.9,112.11 551.4,111.21 551.9,111.33 552.4,110.94 552.9,109.25 553.4,110.55 553.9,109.78 554.4,109.16 554.9,111.61 555.4,108.94 555.9,110.27 556.4,110.06 556.9,112.1 557.4,110.68 557.9,111.56 558.4,112.53 558.9,109.83 559.4,112.08 559.9,112.93 560.4,112.19 560.9,111.05 561.4,110.76 561.9,111.54 562.4,110.91 562.9,110.47 563.4,113.5 563.9,112.85 564.4,113.45 564.9,112.45 565.4,111.17 565.9,112.5 566.4,114.48 566.9,113.8 567.4,112.32 567.9,114.29 568.4,113.9 568.9,112.85 569.4,115.23 569.9,112.41 570.4,113.28 570.9,112.76 571.4,114.67 571.9,114.2 572.4,113.95 572.9,112.92 573.4,112.99 573.9,113.27 574.4,111.51 574.9,112.07 575.4,114.14 575.9,114.47 576.4,111.69 576.9,114.19 577.4,112.39 577.9,112.14 578.4,115.01 578.9,114.89 579.4,114.67 579.9,115.83 580.4,115.76 580.9,115.41 581.4,114.13 581.9,115.93 582.4,115.91 582.9,116.18 583.4,117.33 583.9,114.44 584.4,118.53 584.9,116.67 585.4,115.58 585.9,117.56 586.4,114.96 586.9,113.85 587.4,116.13 587.9,114.52 588.4,115.41 588.9,113.32 589.4,113.57 589.9,113.4 590.4,111.97 590.9,112.74 591.4,112.37 591.9,112.91 592.4,114.72 592.9,113.61 593.4,113.6 593.9,115.47 594.4,112.67 594.9,114.07 595.4,113.71 595.9,115.12 596.4,114.12 596.9,113.91 597.4,114.44 597.9,113.6 598.4,115.57 598.9,111.8 599.4,114.32 599.9,115.19 600.4,114 600.9,113.54 601.4,111.36 601.9,112.94 602.4,111.42 602.9,112.8 603.4,109.74 603.9,111.43 604.4,109.93 604.9,113.46 605.4,111.49 605.9,113.36 606.4,111.86 606.9,112.02 607.4,114.81 607.9,114.31 608.4,114.31 608.9,114.98 609.4,114.24 609.9,114.68 610.4,115.18 610.9,113.5 611.4,112.73 611.9,114.44 612.4,113.48 612.9,112.75 613.4,112.61 613.9,113.12 614.4,111.2 614.9,110.97 615.4,111.24 615.9,112.51 616.4,110.49 616.9,111.04 617.4,113.88 617.9,113.67 618.4,112.45 618.9,114.59 619.4,113.29 619.9,113.6 620.4,114.53 620.9,113.92 621.4,115.63 621.9,114.84 622.4,116.61 622.9,111.55 623.4,112.77 623.9,113 624.4,113.82 624.9,113.25 625.4,112.49 625.9,112.4 626.4,112 626.9,113.18 627.4,111.15 627.9,112.67 628.4,112.94 628.9,113.06 629.4,111.8 629.9,111.23 630.4,113.84 630.9,110.74 631.4,111.23 631.9,113.91 632.4,114.08 632.9,113.53 633.4,112.49 633.9,114.18 634.4,115.02 634.9,113.24 635.4,116.37 635.9,113.33 636.4,111.94 636.9,112.42 637.4,111.79 637.9,112.08 638.4,111.97 638.9,112.39 639.4,113.63 639.9,112.84 640.4,112.39 640.9,111.18 641.4,110.73 641.9,112.52 642.4,114.22 642.9,114.25 643.4,113.43 643.9,111.37 644.4,111.77 644.9,112.29 645.4,113.48 645.9,111.65 646.4,112.6 646.9,113.15 647.4,112.67 647.9,110.66 648.4,112.63 648.9,110.94 649.4,111.84 649.9,113.4 650.4,112.17 650.9,113.49 651.4,114.28 651.9,113.46 652.4,114.31 652.9,112.93 653.4,113.9 653.9,112.67 654.4,112.28 654.9,116.47 655.4,112.23 655.9,114.5 656.4,112.03 656.9,113.14 657.4,111.64 657.9,109.85 658.4,113.01 658.9,111.17 659.4,111.46 659.9,113.39 660.4,111.21 660.9,111.91 661.4,112.72 661.9,113.01 662.4,109 662.9,113.16 663.4,115.01 663.9,113.97 664.4,113.45 664.9,114 665.4,113.31 665.9,114.76 666.4,112.98 666.9,114.17 667.4,114.8 667.9,114.27" fill="none" stroke="#e3262a" stroke-width="1.15" stroke-linejoin="round"/>
<polyline points="379.4,115.04 379.9,115.23 380.4,114.95 380.9,114.94 381.4,115.14 381.9,115.35 382.4,115.67 382.9,115.21 383.4,115.68 383.9,116.11 384.4,116.03 384.9,116.5 385.4,116 385.9,116.26 386.4,116.52 386.9,115.69 387.4,116.25 387.9,116.23 388.4,116.33 388.9,115.29 389.4,115.64 389.9,115.33 390.4,116.05 390.9,115.79 391.4,115.71 391.9,116.09 392.4,115.92 392.9,115.98 393.4,116.35 393.9,116.9 394.4,116.6 394.9,116.18 395.4,115.66 395.9,116.2 396.4,116.5 396.9,117.08 397.4,116.59 397.9,116.72 398.4,116.4 398.9,115.78 399.4,115.79 399.9,115.7 400.4,116.67 400.9,116.49 401.4,116.88 401.9,116.63 402.4,116.87 402.9,117.21 403.4,116.54 403.9,117.35 404.4,116.99 404.9,117.47 405.4,117.08 405.9,117.25 406.4,116.52 406.9,116.31 407.4,116.4 407.9,116.36 408.4,116.4 408.9,116.18 409.4,116.15 409.9,116.59 410.4,116.74 410.9,116.15 411.4,116.62 411.9,115.92 412.4,116.45 412.9,116.88 413.4,116.69 413.9,117.01 414.4,117.08 414.9,116.68 415.4,116.85 415.9,116.75 416.4,116.72 416.9,117.09 417.4,117.74 417.9,117.01 418.4,117 418.9,117.75 419.4,117.6 419.9,117.29 420.4,117.69 420.9,117.41 421.4,117.06 421.9,117.45 422.4,116.95 422.9,116.75 423.4,116.46 423.9,116.58 424.4,116.79 424.9,116.51 425.4,116.33 425.9,116.36 426.4,116.61 426.9,116.35 427.4,117.16 427.9,116.85 428.4,117.15 428.9,116.88 429.4,117.62 429.9,116.69 430.4,116.63 430.9,116.59 431.4,116 431.9,116.17 432.4,115.97 432.9,115.71 433.4,115.27 433.9,115.66 434.4,115.29 434.9,115.39 435.4,115.57 435.9,115.43 436.4,115.64 436.9,114.14 437.4,114.91 437.9,115.31 438.4,115.44 438.9,114.99 439.4,115.31 439.9,115.69 440.4,115.57 440.9,114.87 441.4,116.22 441.9,116.4 442.4,116.18 442.9,116.18 443.4,115.86 443.9,115.81 444.4,115.22 444.9,115.63 445.4,116.07 445.9,115.23 446.4,115.97 446.9,115.83 447.4,115.64 447.9,115.5 448.4,116.59 448.9,116.47 449.4,116.72 449.9,116.04 450.4,116.09 450.9,115.91 451.4,116.65 451.9,116.31 452.4,117.1 452.9,117.05 453.4,116.33 453.9,116.27 454.4,117.07 454.9,117.02 455.4,117.26 455.9,118.49 456.4,117.8 456.9,117.69 457.4,117.4 457.9,118.06 458.4,118.13 458.9,118.39 459.4,118.1 459.9,118.17 460.4,117.32 460.9,116.66 461.4,116.69 461.9,116.79 462.4,116.51 462.9,116.24 463.4,115.29 463.9,115.07 464.4,115.33 464.9,114.92 465.4,115.1 465.9,115.6 466.4,115.34 466.9,115.88 467.4,116.72 467.9,116.22 468.4,116.61 468.9,116.17 469.4,117.14 469.9,117.06 470.4,116.67 470.9,116.2 471.4,115.92 471.9,115.67 472.4,115.98 472.9,116.44 473.4,116.67 473.9,117.05 474.4,116.45 474.9,116.3 475.4,117.26 475.9,117.18 476.4,117.05 476.9,116.98 477.4,117.32 477.9,117.15 478.4,116.66 478.9,116.76 479.4,117.52 479.9,116.73 480.4,107.55 480.9,106.61 481.4,106.87 481.9,105.42 482.4,105.94 482.9,105.4 483.4,105.69 483.9,105.97 484.4,106.71 484.9,107.77 485.4,110.61 485.9,110.3 486.4,106.23 486.9,97.96 487.4,93.46 487.9,94.94 488.4,90.64 488.9,88.32 489.4,88.47 489.9,88.69 490.4,89.41 490.9,90.4 491.4,93.11 491.9,94.53 492.4,95.65 492.9,98.02 493.4,99.89 493.9,102.56 494.4,103.18 494.9,106.43 495.4,106.22 495.9,109.27 496.4,110.43 496.9,109.87 497.4,110.41 497.9,113 498.4,111.29 498.9,113.1 499.4,113.15 499.9,112.08 500.4,114.04 500.9,113.56 501.4,114.35 501.9,112.37 502.4,113.87 502.9,115.28 503.4,115.62 503.9,115.67 504.4,114.64 504.9,115.34 505.4,114.92 505.9,115.02 506.4,115.08 506.9,114.85 507.4,116.21 507.9,115.5 508.4,115.09 508.9,114.74 509.4,115.9 509.9,117 510.4,115.31 510.9,114.65 511.4,116.83 511.9,114.84 512.4,113.41 512.9,114.16 513.4,114.51 513.9,111.91 514.4,112.36 514.9,113.87 515.4,112 515.9,111.97 516.4,114.03 516.9,110.32 517.4,113.53 517.9,113.2 518.4,113.38 518.9,112.29 519.4,113.88 519.9,112.31 520.4,111.14 520.9,111.76 521.4,112.75 521.9,111.19 522.4,113.57 522.9,111.58 523.4,113.41 523.9,112.96 524.4,112.32 524.9,112.36 525.4,112.71 525.9,113.65 526.4,113.26 526.9,111.82 527.4,112.47 527.9,113.54 528.4,112.82 528.9,112.52 529.4,112.51 529.9,112.09 530.4,112.39 530.9,113.05 531.4,112.27 531.9,114.05 532.4,115.79 532.9,112.76 533.4,114.53 533.9,114.31 534.4,114.37 534.9,112.52 535.4,114.72 535.9,112.82 536.4,112.97 536.9,113.23 537.4,113.85 537.9,111.06 538.4,111.07 538.9,110.29 539.4,109.34 539.9,110.97 540.4,110.41 540.9,110.99 541.4,111.4 541.9,112.45 542.4,112.85 542.9,110.02 543.4,113.75 543.9,111.81 544.4,111.51 544.9,111.96 545.4,113.71 545.9,112.96 546.4,113.04 546.9,113.89 547.4,112.97 547.9,113.21 548.4,113.75 548.9,112.04 549.4,114.02 549.9,112.41 550.4,113.22 550.9,112.33 551.4,113.11 551.9,112.57 552.4,113.37 552.9,113.7 553.4,113.59 553.9,112.43 554.4,111.89 554.9,111.42 555.4,113.22 555.9,112.3 556.4,113.67 556.9,114.63 557.4,113.73 557.9,113 558.4,114.18 558.9,114.48 559.4,111.7 559.9,112.76 560.4,114 560.9,109.6 561.4,112.31 561.9,112.37 562.4,110.68 562.9,112.88 563.4,110.35 563.9,113.96 564.4,113.94 564.9,113.14 565.4,113.86 565.9,112.12 566.4,115.09 566.9,114.22 567.4,113.74 567.9,113.5 568.4,112.64 568.9,113.1 569.4,111.01 569.9,114.26 570.4,113.51 570.9,112.55 571.4,114.28 571.9,114.12 572.4,114.18 572.9,113.97 573.4,115.38 573.9,115.3 574.4,116.72 574.9,114.35 575.4,116.46 575.9,112.67 576.4,112.8 576.9,113.84 577.4,114.98 577.9,115.58 578.4,113.65 578.9,114.61 579.4,113.68 579.9,115.32 580.4,113.33 580.9,115.41 581.4,114.43 581.9,116.46 582.4,115.87 582.9,114.64 583.4,115.21 583.9,114.95 584.4,113.74 584.9,114.33 585.4,112.99 585.9,116.99 586.4,113.59 586.9,114 587.4,116.06 587.9,116.18 588.4,114.11 588.9,116.68 589.4,116.71 589.9,115.41 590.4,116.52 590.9,115.61 591.4,117.37 591.9,115.96 592.4,114.71 592.9,115.18 593.4,117.8 593.9,114.79 594.4,115.24 594.9,116.51 595.4,113.84 595.9,117.34 596.4,113.22 596.9,115.41 597.4,113.33 597.9,115.02 598.4,116.57 598.9,114.02 599.4,113.23 599.9,112.77 600.4,111.93 600.9,114.12 601.4,112.63 601.9,112.68 602.4,113.73 602.9,114.63 603.4,114.73 603.9,113.32 604.4,113.58 604.9,116.03 605.4,116.74 605.9,113.37 606.4,116.59 606.9,114.66 607.4,116.11 607.9,116.75 608.4,114.72 608.9,115.5 609.4,113.82 609.9,111.78 610.4,114.68 610.9,113.94 611.4,113.63 611.9,115.38 612.4,114.99 612.9,112.72 613.4,115.04 613.9,114.42 614.4,114.53 614.9,114.84 615.4,114.94 615.9,113.47 616.4,113.21 616.9,115.11 617.4,116.43 617.9,114.39 618.4,115.81 618.9,115.02 619.4,112.79 619.9,111.4 620.4,113.18 620.9,114.47 621.4,111.77 621.9,115.44 622.4,114.02 622.9,111.79 623.4,112.66 623.9,115.02 624.4,115.68 624.9,113.07 625.4,114.85 625.9,115.25 626.4,114.52 626.9,115.33 627.4,116.35 627.9,113 628.4,114.48 628.9,114.66 629.4,114.88 629.9,112.91 630.4,114.18 630.9,112.43 631.4,113.02 631.9,111.19 632.4,113.33 632.9,114.09 633.4,115.72 633.9,114.67 634.4,112.4 634.9,109.91 635.4,114.68 635.9,114.33 636.4,113.3 636.9,113.15 637.4,114.1 637.9,113.16 638.4,114.9 638.9,113.56 639.4,112.62 639.9,112.17 640.4,114.53 640.9,114.89 641.4,113.99 641.9,113.42 642.4,114.6 642.9,115.76 643.4,114.61 643.9,114.14 644.4,116.23 644.9,116.36 645.4,113.81 645.9,114.29 646.4,113.51 646.9,114.41 647.4,114.52 647.9,114.41 648.4,114.86 648.9,113.85 649.4,112.96 649.9,112.6 650.4,111.42 650.9,113.52 651.4,112.12 651.9,113.35 652.4,111.2 652.9,112.12 653.4,112.69 653.9,111.53 654.4,112.4 654.9,113.56 655.4,110.69 655.9,111.99 656.4,110.69 656.9,111 657.4,111.6 657.9,112.37 658.4,113.98 658.9,111.62 659.4,111.8 659.9,111.18 660.4,111.98 660.9,113.07 661.4,113.81 661.9,111.56 662.4,111.11 662.9,113.4 663.4,112.67 663.9,111.93 664.4,115.12 664.9,114.33 665.4,114.86 665.9,111.72 666.4,112.37 666.9,113.1 667.4,114.48 667.9,112.43" fill="none" stroke="#3fb8ec" stroke-width="1.15" stroke-linejoin="round"/>
<polyline points="379.4,116.59 379.9,116.74 380.4,116.22 380.9,116.55 381.4,116.71 381.9,115.86 382.4,115.97 382.9,115.48 383.4,115.91 383.9,115.79 384.4,115.96 384.9,116.03 385.4,116.18 385.9,115.98 386.4,115.96 386.9,115.77 387.4,115.3 387.9,115.41 388.4,115.18 388.9,115.61 389.4,115.17 389.9,115.2 390.4,115.44 390.9,115.58 391.4,115.67 391.9,116.28 392.4,116.16 392.9,116.71 393.4,117.43 393.9,116.92 394.4,116.79 394.9,116.49 395.4,116.11 395.9,116.69 396.4,116.48 396.9,116.06 397.4,116.65 397.9,116.01 398.4,116.38 398.9,116.53 399.4,116.5 399.9,116.18 400.4,116.49 400.9,116.17 401.4,116.11 401.9,116.47 402.4,116.47 402.9,116.41 403.4,115.64 403.9,115.95 404.4,115.6 404.9,115.83 405.4,115.75 405.9,115.95 406.4,115.66 406.9,115.37 407.4,115.52 407.9,115.77 408.4,115.83 408.9,115.59 409.4,115.33 409.9,115.64 410.4,114.82 410.9,114.89 411.4,114.81 411.9,115.34 412.4,115.09 412.9,114.77 413.4,115.52 413.9,115.93 414.4,116.22 414.9,116.53 415.4,117.5 415.9,116.9 416.4,116.97 416.9,117 417.4,116.69 417.9,116.84 418.4,116.25 418.9,116.43 419.4,115.62 419.9,115.86 420.4,115.89 420.9,115.64 421.4,115.97 421.9,115.11 422.4,115.64 422.9,115.48 423.4,115.08 423.9,115.2 424.4,114.69 424.9,114.85 425.4,115.38 425.9,114.48 426.4,115.24 426.9,115.34 427.4,115.53 427.9,115.44 428.4,114.91 428.9,115.14 429.4,115.08 429.9,115.16 430.4,114.51 430.9,113.91 431.4,114.23 431.9,114.59 432.4,114.18 432.9,115.08 433.4,114.89 433.9,114.49 434.4,115.31 434.9,115.75 435.4,116.15 435.9,116.84 436.4,117.36 436.9,116.41 437.4,116.04 437.9,115.86 438.4,116.18 438.9,116.45 439.4,115.85 439.9,115.97 440.4,115.35 440.9,115.18 441.4,114.87 441.9,115.24 442.4,114.63 442.9,115.01 443.4,114.99 443.9,115.18 444.4,115.19 444.9,116.2 445.4,115.56 445.9,115.96 446.4,116.06 446.9,115.97 447.4,115.77 447.9,115.7 448.4,115.37 448.9,115.17 449.4,115.33 449.9,115.02 450.4,115.68 450.9,114.86 451.4,114.51 451.9,114.67 452.4,114.91 452.9,115.71 453.4,114.65 453.9,115.33 454.4,115.15 454.9,114.11 455.4,114.3 455.9,114.78 456.4,114.93 456.9,114.7 457.4,114.97 457.9,114.89 458.4,114.48 458.9,113.81 459.4,114.1 459.9,113.88 460.4,113.94 460.9,114.72 461.4,114.95 461.9,114.44 462.4,114.71 462.9,114.62 463.4,114.52 463.9,115.56 464.4,114.96 464.9,115.7 465.4,115.35 465.9,115.1 466.4,114.99 466.9,115.98 467.4,116.1 467.9,115.49 468.4,115.83 468.9,115.95 469.4,115.78 469.9,115.02 470.4,115.37 470.9,115.7 471.4,115.97 471.9,115.92 472.4,116.08 472.9,115.21 473.4,115.02 473.9,116.1 474.4,115.45 474.9,115.55 475.4,115.16 475.9,114.95 476.4,114.31 476.9,115.25 477.4,114.82 477.9,114.78 478.4,114.87 478.9,114.75 479.4,115.49 479.9,115.18 480.4,115.54 480.9,114.74 481.4,115.59 481.9,114.01 482.4,115.02 482.9,114.71 483.4,114.2 483.9,114.07 484.4,113.3 484.9,113.72 485.4,107.87 485.9,103.49 486.4,99.07 486.9,94.76 487.4,91.95 487.9,88.17 488.4,86.27 488.9,85.07 489.4,81.51 489.9,80.5 490.4,82.22 490.9,84.57 491.4,84.74 491.9,85.19 492.4,86.6 492.9,90.42 493.4,91.55 493.9,91.86 494.4,94.95 494.9,96.75 495.4,97.26 495.9,100.92 496.4,101.04 496.9,103.02 497.4,103.82 497.9,104.35 498.4,106.35 498.9,108.03 499.4,105.53 499.9,107.97 500.4,107.34 500.9,108.44 501.4,108.73 501.9,108.18 502.4,108.23 502.9,109.87 503.4,108.49 503.9,110.04 504.4,109.3 504.9,107.12 505.4,109.5 505.9,107.86 506.4,109.86 506.9,108.99 507.4,109.24 507.9,108.55 508.4,109 508.9,109.23 509.4,108.3 509.9,109.71 510.4,108.68 510.9,107.44 511.4,108.24 511.9,108.65 512.4,109.29 512.9,108.33 513.4,108.84 513.9,108.8 514.4,108.69 514.9,107.12 515.4,109.34 515.9,110.93 516.4,109 516.9,108.95 517.4,108.55 517.9,110.8 518.4,108.41 518.9,109.31 519.4,109.84 519.9,111.24 520.4,109.87 520.9,110.3 521.4,108.88 521.9,110.96 522.4,111.79 522.9,110.14 523.4,111.23 523.9,110.33 524.4,111.43 524.9,110.71 525.4,110.37 525.9,110.42 526.4,111.06 526.9,111.21 527.4,110.58 527.9,110.93 528.4,110.36 528.9,110.3 529.4,112.36 529.9,110.18 530.4,109.09 530.9,110.03 531.4,109.76 531.9,110.03 532.4,110.97 532.9,112.09 533.4,110.3 533.9,110.24 534.4,110.54 534.9,110.95 535.4,111.31 535.9,111.91 536.4,112.08 536.9,111.96 537.4,111.89 537.9,113.33 538.4,112.97 538.9,111.84 539.4,113.24 539.9,115.52 540.4,112.61 540.9,115.37 541.4,110.71 541.9,112.67 542.4,112.79 542.9,114.36 543.4,115.06 543.9,113.86 544.4,114.01 544.9,114.34 545.4,113.72 545.9,113.01 546.4,112.92 546.9,114.83 547.4,116.28 547.9,113.62 548.4,113.95 548.9,113.31 549.4,111.62 549.9,112.15 550.4,113.18 550.9,112.02 551.4,112.05 551.9,113.17 552.4,112.35 552.9,111.59 553.4,112.66 553.9,112.93 554.4,113.29 554.9,112.43 555.4,113.17 555.9,112.17 556.4,113.62 556.9,112.23 557.4,112.91 557.9,115.83 558.4,113.04 558.9,114.74 559.4,112.82 559.9,113.41 560.4,113.74 560.9,112.9 561.4,113.82 561.9,112.09 562.4,112 562.9,112.74 563.4,112.88 563.9,114.16 564.4,112.66 564.9,114.29 565.4,112.72 565.9,112.76 566.4,112.39 566.9,113.84 567.4,110.44 567.9,113.44 568.4,112.78 568.9,113.92 569.4,111.76 569.9,114.31 570.4,112.87 570.9,115.64 571.4,114.49 571.9,115.6 572.4,114.22 572.9,115.89 573.4,116.03 573.9,114.61 574.4,116.38 574.9,115.72 575.4,114.08 575.9,116.38 576.4,113.94 576.9,115.26 577.4,115.46 577.9,114.16 578.4,114.47 578.9,115.89 579.4,115.4 579.9,114.89 580.4,114.81 580.9,115.8 581.4,116.61 581.9,116.76 582.4,116.81 582.9,115.54 583.4,115.54 583.9,116.01 584.4,115.04 584.9,116.82 585.4,116.93 585.9,116.74 586.4,114.23 586.9,118.56 587.4,115.56 587.9,115.28 588.4,115.6 588.9,112.81 589.4,113.8 589.9,114.15 590.4,115.82 590.9,113.79 591.4,114.41 591.9,113.54 592.4,113.76 592.9,114.52 593.4,112.86 593.9,111.91 594.4,112.35 594.9,112.85 595.4,114.95 595.9,112.02 596.4,112.17 596.9,113.6 597.4,113.93 597.9,112.27 598.4,114.22 598.9,112.59 599.4,114.47 599.9,114.67 600.4,113.82 600.9,115.86 601.4,114.37 601.9,113.99 602.4,115.66 602.9,113.9 603.4,115.65 603.9,114.56 604.4,115.22 604.9,115.92 605.4,115.77 605.9,116.69 606.4,115.59 606.9,115.83 607.4,113.28 607.9,114.18 608.4,116.51 608.9,114.14 609.4,114.84 609.9,115.53 610.4,114.99 610.9,114.33 611.4,115.84 611.9,115.3 612.4,114.73 612.9,115.56 613.4,114.13 613.9,114.68 614.4,115.41 614.9,114.66 615.4,113.3 615.9,113.19 616.4,113.66 616.9,114.65 617.4,113.41 617.9,114.04 618.4,113.82 618.9,112.79 619.4,114.69 619.9,114.71 620.4,115.36 620.9,116.11 621.4,112.87 621.9,114.53 622.4,117.21 622.9,114.57 623.4,115.69 623.9,113.88 624.4,115.08 624.9,115.08 625.4,114.54 625.9,113.85 626.4,114.13 626.9,114.12 627.4,114.23 627.9,113.96 628.4,115.48 628.9,114.64 629.4,114.54 629.9,114.9 630.4,113.13 630.9,115.31 631.4,114.46 631.9,115.27 632.4,113.56 632.9,114.54 633.4,114 633.9,113.4 634.4,115.69 634.9,113.79 635.4,115.61 635.9,114.87 636.4,114.72 636.9,113.22 637.4,112.98 637.9,111.63 638.4,113.79 638.9,114.58 639.4,114.61 639.9,113.36 640.4,112 640.9,113.25 641.4,114.36 641.9,113.55 642.4,113.49 642.9,114.05 643.4,114.55 643.9,116.16 644.4,113.85 644.9,111.68 645.4,112.72 645.9,115.31 646.4,113 646.9,115.22 647.4,111.34 647.9,113.76 648.4,115.1 648.9,112.9 649.4,114.68 649.9,113.57 650.4,113.98 650.9,115.44 651.4,113.09 651.9,114.57 652.4,111.49 652.9,112.09 653.4,113.24 653.9,114.23 654.4,110.45 654.9,110.55 655.4,113.47 655.9,110.64 656.4,112.5 656.9,113.24 657.4,113.41 657.9,113.82 658.4,112.21 658.9,113.55 659.4,115.58 659.9,110.97 660.4,112.4 660.9,114.34 661.4,113.41 661.9,114.01 662.4,112.47 662.9,112.51 663.4,112.44 663.9,113.82 664.4,114.06 664.9,112.46 665.4,113.48 665.9,110.54 666.4,113.84 666.9,112.34 667.4,113.36 667.9,113.51" fill="none" stroke="#2fb574" stroke-width="1.15" stroke-linejoin="round"/>
<polyline points="379.4,117.17 379.9,117.89 380.4,117.79 380.9,116.9 381.4,117.35 381.9,117.56 382.4,117.31 382.9,116.81 383.4,116.87 383.9,115.7 384.4,115.69 384.9,115.62 385.4,115.54 385.9,116.19 386.4,116.45 386.9,116.32 387.4,116.61 387.9,116.78 388.4,116.36 388.9,116.45 389.4,116.22 389.9,116.39 390.4,116.79 390.9,115.78 391.4,115.22 391.9,115.6 392.4,115.72 392.9,115.3 393.4,115.29 393.9,115.12 394.4,114.93 394.9,115.07 395.4,114.93 395.9,115.6 396.4,115.78 396.9,116.16 397.4,116.4 397.9,117.09 398.4,116.21 398.9,117.09 399.4,116.72 399.9,117.03 400.4,117.03 400.9,117.47 401.4,116.81 401.9,116.69 402.4,116.48 402.9,116.56 403.4,116.39 403.9,116.72 404.4,116.63 404.9,117.51 405.4,117.37 405.9,117.09 406.4,116.96 406.9,116.92 407.4,116.82 407.9,116.93 408.4,116.43 408.9,116.91 409.4,116.34 409.9,116.41 410.4,115.91 410.9,116.22 411.4,116.24 411.9,116.37 412.4,116.71 412.9,116.63 413.4,117.32 413.9,117.45 414.4,116.88 414.9,117.82 415.4,118.2 415.9,118.28 416.4,117.79 416.9,117.37 417.4,116.99 417.9,117.04 418.4,116.32 418.9,116.04 419.4,116.09 419.9,115.26 420.4,115.51 420.9,115.61 421.4,115.91 421.9,115.61 422.4,115.34 422.9,115.11 423.4,115.91 423.9,116.36 424.4,116.11 424.9,116.46 425.4,115.78 425.9,115.94 426.4,115.63 426.9,115.81 427.4,116.47 427.9,116.58 428.4,116.03 428.9,116.27 429.4,115.98 429.9,116.87 430.4,116.78 430.9,116.59 431.4,116.22 431.9,116.4 432.4,116.6 432.9,115.69 433.4,116.42 433.9,116.21 434.4,115.3 434.9,115.04 435.4,115.52 435.9,115.18 436.4,115.85 436.9,115.38 437.4,115.53 437.9,116.57 438.4,116.33 438.9,116.78 439.4,116.66 439.9,116.77 440.4,116.61 440.9,116.44 441.4,116.7 441.9,116.53 442.4,116.04 442.9,115.81 443.4,116.23 443.9,116.28 444.4,116.29 444.9,116.16 445.4,116.43 445.9,116.1 446.4,116.84 446.9,116.75 447.4,117.91 447.9,117.22 448.4,116.66 448.9,117.2 449.4,116.2 449.9,116.24 450.4,116.63 450.9,116.96 451.4,116.27 451.9,116.42 452.4,115.89 452.9,116.07 453.4,116.08 453.9,116.07 454.4,116.46 454.9,116.2 455.4,117 455.9,117.18 456.4,117.13 456.9,116.59 457.4,117.29 457.9,117.38 458.4,117.34 458.9,117.38 459.4,116.86 459.9,117.22 460.4,117.16 460.9,117.13 461.4,117.58 461.9,116.93 462.4,116.9 462.9,117.19 463.4,117.31 463.9,117.31 464.4,117.22 464.9,116.36 465.4,116.72 465.9,116.54 466.4,116.32 466.9,116.18 467.4,116.46 467.9,115.96 468.4,116.36 468.9,115.54 469.4,115.6 469.9,115.96 470.4,115.95 470.9,116.19 471.4,116.29 471.9,116.6 472.4,116.94 472.9,116.85 473.4,116.85 473.9,116.76 474.4,117.07 474.9,116.36 475.4,116.73 475.9,117.18 476.4,116.45 476.9,116.74 477.4,116.69 477.9,116.94 478.4,116.02 478.9,116.4 479.4,116.54 479.9,116.6 480.4,116.1 480.9,116.04 481.4,115.27 481.9,115.03 482.4,113.86 482.9,112.95 483.4,113 483.9,111.53 484.4,41.5 484.9,40.82 485.4,39.85 485.9,39.09 486.4,38.11 486.9,36.87 487.4,36.32 487.9,34.64 488.4,32.93 488.9,31.38 489.4,32.49 489.9,34.63 490.4,35.95 490.9,37.36 491.4,37.63 491.9,39.82 492.4,44.27 492.9,47.01 493.4,51.58 493.9,54.73 494.4,58.69 494.9,62.39 495.4,70.84 495.9,80.96 496.4,87.83 496.9,95.19 497.4,100.38 497.9,101 498.4,103.69 498.9,105.31 499.4,107.94 499.9,109.57 500.4,109.79 500.9,111.44 501.4,109.63 501.9,110.28 502.4,112.45 502.9,110.31 503.4,110.98 503.9,111.04 504.4,111.28 504.9,111.81 505.4,113.31 505.9,113.06 506.4,113.46 506.9,111.62 507.4,112.19 507.9,114.41 508.4,115.16 508.9,114.57 509.4,114.25 509.9,116.08 510.4,115.99 510.9,113.24 511.4,113.8 511.9,116.03 512.4,116.4 512.9,115.33 513.4,113.73 513.9,112.82 514.4,113.38 514.9,114.2 515.4,112.17 515.9,112.22 516.4,112.34 516.9,112.93 517.4,111.78 517.9,112.17 518.4,113.21 518.9,112.3 519.4,114.07 519.9,111.96 520.4,112.81 520.9,113.99 521.4,113.47 521.9,112.12 522.4,115.11 522.9,113.63 523.4,112.24 523.9,115.73 524.4,113.74 524.9,114.99 525.4,113.62 525.9,115.67 526.4,114.48 526.9,113.56 527.4,112.77 527.9,112.23 528.4,111.68 528.9,111.03 529.4,111.75 529.9,111.75 530.4,113.34 530.9,112.64 531.4,109.46 531.9,110.49 532.4,111.87 532.9,112.15 533.4,112.37 533.9,113.38 534.4,110.8 534.9,113.14 535.4,112.84 535.9,110.73 536.4,114.98 536.9,112.18 537.4,114.36 537.9,113.13 538.4,112.36 538.9,113.14 539.4,112.77 539.9,113.61 540.4,112.78 540.9,113.35 541.4,112.46 541.9,113.6 542.4,111.95 542.9,113.81 543.4,111.54 543.9,112.09 544.4,111.94 544.9,110.43 545.4,111.5 545.9,114.21 546.4,111.67 546.9,115.23 547.4,111.84 547.9,113.06 548.4,114.21 548.9,112.92 549.4,113.34 549.9,110.85 550.4,113.91 550.9,111.16 551.4,111.64 551.9,114.04 552.4,114.13 552.9,111.85 553.4,113.3 553.9,112.57 554.4,113.42 554.9,114.39 555.4,113.13 555.9,113.93 556.4,114.85 556.9,113.68 557.4,111.56 557.9,111.45 558.4,113.26 558.9,113.44 559.4,112.55 559.9,111.77 560.4,113.33 560.9,113.76 561.4,113.36 561.9,111.69 562.4,109.6 562.9,113.05 563.4,114.76 563.9,111.37 564.4,113.13 564.9,113.37 565.4,111.87 565.9,113.58 566.4,115.63 566.9,115.93 567.4,114.24 567.9,115.91 568.4,114.61 568.9,116.62 569.4,114.77 569.9,116.15 570.4,115.13 570.9,115.31 571.4,114.42 571.9,114.03 572.4,116.18 572.9,116.81 573.4,113.3 573.9,115.15 574.4,115.15 574.9,114.63 575.4,113.74 575.9,113.98 576.4,114.26 576.9,114.25 577.4,115.53 577.9,115.34 578.4,115.28 578.9,114.96 579.4,114.91 579.9,114.89 580.4,115.49 580.9,116.1 581.4,117.12 581.9,114.53 582.4,114.88 582.9,116.22 583.4,114.62 583.9,114.36 584.4,114.76 584.9,116.55 585.4,115.45 585.9,114.27 586.4,111.65 586.9,114.37 587.4,113.86 587.9,114.79 588.4,114.24 588.9,113.89 589.4,116.78 589.9,117.79 590.4,114.25 590.9,115.39 591.4,116.66 591.9,114.57 592.4,114.62 592.9,117.94 593.4,116.18 593.9,114.44 594.4,116.82 594.9,116.58 595.4,114.91 595.9,116.55 596.4,117.3 596.9,117.39 597.4,118.17 597.9,116.08 598.4,117.93 598.9,115.31 599.4,117.81 599.9,115.64 600.4,117.59 600.9,116.33 601.4,114.31 601.9,113.88 602.4,113.3 602.9,114.87 603.4,114.46 603.9,114.39 604.4,113.88 604.9,115.03 605.4,113.24 605.9,113.86 606.4,113.53 606.9,114.1 607.4,114.22 607.9,115.63 608.4,115.61 608.9,116.74 609.4,115.81 609.9,115.76 610.4,114.76 610.9,116.88 611.4,111.57 611.9,115.12 612.4,113.64 612.9,114.13 613.4,117.88 613.9,115.34 614.4,113.21 614.9,117.55 615.4,113.85 615.9,116.01 616.4,115.82 616.9,115.16 617.4,117.61 617.9,115.47 618.4,116.32 618.9,116.27 619.4,115.16 619.9,111.78 620.4,115.41 620.9,115.95 621.4,116.4 621.9,117 622.4,115.53 622.9,113.43 623.4,115.26 623.9,114.17 624.4,115.18 624.9,112.23 625.4,116.45 625.9,113.01 626.4,113 626.9,113.94 627.4,115.66 627.9,116.34 628.4,115.1 628.9,115 629.4,116.18 629.9,116.26 630.4,114.31 630.9,114.13 631.4,115.94 631.9,115.07 632.4,114.96 632.9,111.19 633.4,113.49 633.9,113.73 634.4,112.37 634.9,111.1 635.4,112.74 635.9,115.91 636.4,113.97 636.9,114.89 637.4,114.95 637.9,115.6 638.4,114.67 638.9,115.93 639.4,114.11 639.9,114.06 640.4,116.16 640.9,115.7 641.4,114.35 641.9,112.78 642.4,112.72 642.9,113.7 643.4,117.32 643.9,113.39 644.4,113.84 644.9,112.95 645.4,113.74 645.9,112.9 646.4,113.28 646.9,109.96 647.4,112.75 647.9,113.74 648.4,113.74 648.9,114.12 649.4,113.98 649.9,115.02 650.4,114.41 650.9,113.38 651.4,113.67 651.9,113.82 652.4,112.27 652.9,113.32 653.4,114.83 653.9,115.63 654.4,114.45 654.9,113.32 655.4,112.74 655.9,111.89 656.4,114.1 656.9,114.54 657.4,112.64 657.9,112.2 658.4,114.15 658.9,113.62 659.4,112.26 659.9,113.81 660.4,114.11 660.9,116.25 661.4,112.14 661.9,113.29 662.4,113.95 662.9,115.04 663.4,116.08 663.9,114.24 664.4,114.11 664.9,112.85 665.4,115.81 665.9,112.97 666.4,114.93 666.9,113.01 667.4,115.57 667.9,113.19" fill="none" stroke="#f2b01e" stroke-width="1.15" stroke-linejoin="round"/>
<polyline points="379.4,116.67 379.9,116.53 380.4,116.63 380.9,116.42 381.4,116.75 381.9,116.99 382.4,116.24 382.9,116.62 383.4,116.61 383.9,116.34 384.4,116.16 384.9,116.2 385.4,116.89 385.9,116.85 386.4,116.2 386.9,116.42 387.4,116.82 387.9,116.86 388.4,116.51 388.9,116.52 389.4,116.5 389.9,116.6 390.4,117.09 390.9,116.73 391.4,116.28 391.9,116.97 392.4,116.26 392.9,116.49 393.4,116.63 393.9,116.59 394.4,116.77 394.9,116.5 395.4,116.76 395.9,116.87 396.4,116.9 396.9,117.14 397.4,117.75 397.9,117.85 398.4,117.22 398.9,117.13 399.4,116.79 399.9,116.76 400.4,116.05 400.9,116.24 401.4,116.29 401.9,115.89 402.4,116.53 402.9,116.88 403.4,116.53 403.9,117.02 404.4,116.85 404.9,116.7 405.4,116.88 405.9,116.98 406.4,116.6 406.9,116.94 407.4,116.72 407.9,116.06 408.4,116.09 408.9,115.53 409.4,115.29 409.9,116.82 410.4,116.28 410.9,115.65 411.4,116 411.9,115.43 412.4,115.47 412.9,115.74 413.4,115.65 413.9,116.62 414.4,116.01 414.9,115.73 415.4,115.76 415.9,116.29 416.4,116.59 416.9,117.21 417.4,118.18 417.9,118.2 418.4,118.57 418.9,118.16 419.4,118.57 419.9,118.61 420.4,118.32 420.9,118.25 421.4,118.35 421.9,117.72 422.4,117.61 422.9,116.58 423.4,117.12 423.9,116.45 424.4,117.13 424.9,117.25 425.4,117.17 425.9,117.41 426.4,117 426.9,117.48 427.4,117.32 427.9,117.28 428.4,116.71 428.9,116.85 429.4,117.43 429.9,117.29 430.4,117.3 430.9,116.4 431.4,116.57 431.9,116.48 432.4,116.74 432.9,117.07 433.4,116.19 433.9,115.84 434.4,115.94 434.9,115.83 435.4,115.72 435.9,116.7 436.4,116.26 436.9,116.42 437.4,116.53 437.9,117.06 438.4,117.09 438.9,117.7 439.4,118.04 439.9,116.99 440.4,116.77 440.9,116.6 441.4,117.32 441.9,117.29 442.4,116.91 442.9,116.37 443.4,116.42 443.9,115.65 444.4,116.05 444.9,116.57 445.4,117.09 445.9,117.72 446.4,117.56 446.9,116.97 447.4,117.11 447.9,117.39 448.4,117.28 448.9,116.97 449.4,117.55 449.9,117.41 450.4,116.77 450.9,115.9 451.4,115.89 451.9,117.21 452.4,117.15 452.9,117.11 453.4,117.39 453.9,117.71 454.4,118 454.9,117.49 455.4,117.49 455.9,117.82 456.4,116.85 456.9,117.19 457.4,117.3 457.9,117.02 458.4,116.81 458.9,116.41 459.4,116.07 459.9,116.69 460.4,116.83 460.9,116.53 461.4,117.59 461.9,117.83 462.4,117.83 462.9,117.48 463.4,117.85 463.9,118.03 464.4,117.59 464.9,117.86 465.4,117.11 465.9,117.95 466.4,116.61 466.9,117.09 467.4,116.96 467.9,117.39 468.4,116.53 468.9,116.86 469.4,116.24 469.9,116.28 470.4,116.62 470.9,116 471.4,115.51 471.9,115.11 472.4,115.85 472.9,115.34 473.4,115.44 473.9,116 474.4,115.88 474.9,116.05 475.4,115.87 475.9,115.88 476.4,116.42 476.9,116.27 477.4,116.71 477.9,116.7 478.4,116.9 478.9,116.12 479.4,116.01 479.9,115.93 480.4,116.76 480.9,116.13 481.4,116.38 481.9,115.82 482.4,114.81 482.9,115.31 483.4,114.65 483.9,115.7 484.4,114.21 484.9,115.17 485.4,114.18 485.9,114.25 486.4,102.02 486.9,88.25 487.4,73.76 487.9,64.56 488.4,55.06 488.9,46.84 489.4,37.42 489.9,28.4 490.4,27.19 490.9,28.39 491.4,29.08 491.9,30.34 492.4,35.91 492.9,41.14 493.4,46.45 493.9,52.2 494.4,57.08 494.9,63.04 495.4,70.29 495.9,74.99 496.4,79.84 496.9,86.37 497.4,91.29 497.9,97.24 498.4,102.91 498.9,107.26 499.4,109.6 499.9,110.91 500.4,110.92 500.9,110.79 501.4,109.5 501.9,111.56 502.4,111.15 502.9,112.24 503.4,114.54 503.9,112.88 504.4,114.08 504.9,114.69 505.4,114.44 505.9,112.03 506.4,115.24 506.9,114.11 507.4,112.37 507.9,113.23 508.4,115.51 508.9,113.66 509.4,113.92 509.9,114.01 510.4,113.15 510.9,114.64 511.4,113.99 511.9,112.24 512.4,115.83 512.9,114.25 513.4,113.88 513.9,115.48 514.4,115.21 514.9,115.83 515.4,114.45 515.9,115.33 516.4,114.34 516.9,114.44 517.4,115.06 517.9,115.44 518.4,115.17 518.9,115.08 519.4,116.03 519.9,113.38 520.4,114.48 520.9,114.21 521.4,116.35 521.9,114.25 522.4,112.44 522.9,113.69 523.4,115.52 523.9,114.33 524.4,114.46 524.9,114.37 525.4,114.16 525.9,112.76 526.4,113.58 526.9,113.01 527.4,114.39 527.9,113.58 528.4,112.79 528.9,114.86 529.4,113.77 529.9,115.91 530.4,115.18 530.9,115.15 531.4,113.24 531.9,114.55 532.4,112.75 532.9,115.94 533.4,113.71 533.9,112.24 534.4,112.57 534.9,113.62 535.4,113.98 535.9,111.34 536.4,113.7 536.9,112.24 537.4,113.05 537.9,112.18 538.4,109.91 538.9,110.61 539.4,110.9 539.9,113.51 540.4,111.88 540.9,112.13 541.4,112.09 541.9,110.46 542.4,113.99 542.9,112.1 543.4,112.7 543.9,113.66 544.4,111.52 544.9,114.92 545.4,113.86 545.9,114.12 546.4,116.69 546.9,116.29 547.4,115.69 547.9,114.02 548.4,113.95 548.9,113.58 549.4,113.88 549.9,116.25 550.4,113.6 550.9,114.78 551.4,113.57 551.9,113.05 552.4,112.05 552.9,112.97 553.4,113.08 553.9,115.79 554.4,114.27 554.9,116.06 555.4,113.44 555.9,115.79 556.4,114.16 556.9,114.46 557.4,114.01 557.9,113.27 558.4,114.15 558.9,113.33 559.4,114.7 559.9,111.68 560.4,114.09 560.9,111.84 561.4,110.57 561.9,116.32 562.4,114.77 562.9,114.2 563.4,112.48 563.9,114.19 564.4,113.51 564.9,114.47 565.4,113.34 565.9,115.56 566.4,113.82 566.9,117.72 567.4,116.6 567.9,112.5 568.4,114.8 568.9,116.32 569.4,113.16 569.9,114.67 570.4,114.49 570.9,115.91 571.4,114.54 571.9,115.16 572.4,117.67 572.9,115.51 573.4,115.92 573.9,113.99 574.4,113.92 574.9,116.17 575.4,116.45 575.9,116.4 576.4,116.11 576.9,116.98 577.4,117 577.9,115.89 578.4,116.29 578.9,115.69 579.4,116.4 579.9,117.61 580.4,118.37 580.9,114.99 581.4,116.03 581.9,116.25 582.4,115.56 582.9,116.83 583.4,115.64 583.9,118.43 584.4,115.45 584.9,116 585.4,112.63 585.9,113.8 586.4,114.45 586.9,113.73 587.4,113.22 587.9,115.31 588.4,114.48 588.9,114.82 589.4,112.38 589.9,115.15 590.4,118.02 590.9,114.85 591.4,113.29 591.9,117.09 592.4,112.33 592.9,116.04 593.4,115.13 593.9,115.95 594.4,115.46 594.9,116.24 595.4,115.48 595.9,116.98 596.4,112.91 596.9,115.8 597.4,113.78 597.9,113.84 598.4,114.82 598.9,114.9 599.4,115.36 599.9,116.08 600.4,115.73 600.9,115.8 601.4,117.08 601.9,117.56 602.4,117.39 602.9,116.47 603.4,115.04 603.9,114.66 604.4,115.65 604.9,115.3 605.4,116.6 605.9,115.38 606.4,116.56 606.9,116.03 607.4,116 607.9,115.16 608.4,112.74 608.9,116.03 609.4,114.86 609.9,115.06 610.4,112.92 610.9,112.24 611.4,114.7 611.9,117.15 612.4,113.44 612.9,113.9 613.4,116.43 613.9,115 614.4,114.56 614.9,117.46 615.4,113.61 615.9,113.73 616.4,113.91 616.9,115.79 617.4,115.7 617.9,115.59 618.4,114.86 618.9,116.13 619.4,113.6 619.9,115.2 620.4,118.93 620.9,115.02 621.4,116.87 621.9,117.37 622.4,117.01 622.9,119.2 623.4,116.93 623.9,120.17 624.4,118.29 624.9,114.99 625.4,114.24 625.9,115.09 626.4,115.43 626.9,113.63 627.4,114.71 627.9,114.55 628.4,114.03 628.9,115.87 629.4,113.77 629.9,117.24 630.4,113.26 630.9,116.76 631.4,115.99 631.9,115.62 632.4,113.57 632.9,113.33 633.4,113.81 633.9,113.79 634.4,113.99 634.9,114.76 635.4,116.93 635.9,117.83 636.4,117.42 636.9,115.15 637.4,115.38 637.9,115.16 638.4,114.26 638.9,114.85 639.4,115.64 639.9,115.84 640.4,116.52 640.9,113.13 641.4,113.76 641.9,116.02 642.4,114.87 642.9,114.21 643.4,112.89 643.9,115.64 644.4,114.67 644.9,113.68 645.4,117.39 645.9,115.48 646.4,114.49 646.9,115.77 647.4,111.89 647.9,113.13 648.4,113.5 648.9,115.2 649.4,112.55 649.9,112.88 650.4,114.33 650.9,114.39 651.4,115.83 651.9,114.17 652.4,113.38 652.9,113.75 653.4,114.45 653.9,113.92 654.4,116.07 654.9,115.59 655.4,113.05 655.9,114.28 656.4,115.93 656.9,114.12 657.4,113.4 657.9,113.22 658.4,114.31 658.9,114.79 659.4,113.58 659.9,112.32 660.4,113.71 660.9,114.82 661.4,113.31 661.9,115.61 662.4,114.12 662.9,114.48 663.4,112.43 663.9,113.96 664.4,112.61 664.9,110.87 665.4,114.45 665.9,114.33 666.4,112.78 666.9,113.22 667.4,112.76 667.9,114.22" fill="none" stroke="#4a9a35" stroke-width="1.15" stroke-linejoin="round"/>
<polyline points="379.4,116.74 379.9,116.8 380.4,116.49 380.9,117.03 381.4,116.98 381.9,116.24 382.4,116.51 382.9,116.35 383.4,116.35 383.9,116.34 384.4,116.8 384.9,116.76 385.4,116.7 385.9,116.38 386.4,116.24 386.9,116.69 387.4,116.98 387.9,116.17 388.4,116.47 388.9,115.92 389.4,116.06 389.9,116.1 390.4,115.77 390.9,116.67 391.4,116.44 391.9,115.49 392.4,115.2 392.9,115.9 393.4,115.64 393.9,116 394.4,115.77 394.9,116.52 395.4,115.57 395.9,115.1 396.4,115.01 396.9,115.84 397.4,115.75 397.9,116.15 398.4,116.15 398.9,116.57 399.4,116.37 399.9,116.18 400.4,116.48 400.9,116.65 401.4,117.02 401.9,116.97 402.4,116.43 402.9,115.86 403.4,116.24 403.9,115.83 404.4,116.14 404.9,116.48 405.4,116.88 405.9,117.18 406.4,117.23 406.9,117.12 407.4,117.08 407.9,116.6 408.4,116.17 408.9,115.68 409.4,115.62 409.9,115.36 410.4,115.23 410.9,114.51 411.4,114.74 411.9,114.56 412.4,114.88 412.9,114.68 413.4,115.61 413.9,115.36 414.4,115.6 414.9,116 415.4,115.7 415.9,116.07 416.4,116.66 416.9,116.46 417.4,116.7 417.9,116.27 418.4,116.38 418.9,116.35 419.4,115.88 419.9,116.19 420.4,116.04 420.9,116.12 421.4,116.31 421.9,115.92 422.4,115.8 422.9,115.94 423.4,116.03 423.9,116.53 424.4,116.67 424.9,116.49 425.4,117.09 425.9,116.43 426.4,116.13 426.9,116.41 427.4,116.33 427.9,116.51 428.4,116.47 428.9,116.18 429.4,115.97 429.9,116.87 430.4,116.53 430.9,116.68 431.4,116.68 431.9,116.91 432.4,117.07 432.9,116.49 433.4,116.09 433.9,116.03 434.4,116.83 434.9,116.49 435.4,116.36 435.9,115.99 436.4,116.34 436.9,115.91 437.4,116.03 437.9,117.03 438.4,116.64 438.9,117.12 439.4,116.62 439.9,115.97 440.4,116.28 440.9,115.84 441.4,115.27 441.9,115.63 442.4,115.4 442.9,115.04 443.4,115.38 443.9,114.89 444.4,114.95 444.9,115.42 445.4,115.14 445.9,115.02 446.4,114.92 446.9,115.43 447.4,115.17 447.9,115.41 448.4,114.86 448.9,115.59 449.4,115.52 449.9,115.31 450.4,115.42 450.9,115.34 451.4,114.87 451.9,114.85 452.4,114.87 452.9,115.09 453.4,114.92 453.9,115.16 454.4,115.39 454.9,115.66 455.4,115.11 455.9,115.82 456.4,115.77 456.9,116 457.4,116.69 457.9,116.88 458.4,116.68 458.9,116.75 459.4,116.36 459.9,116.79 460.4,116.87 460.9,116.78 461.4,116.14 461.9,116.34 462.4,116.21 462.9,115.64 463.4,115.82 463.9,116.65 464.4,115.42 464.9,115.47 465.4,116.1 465.9,116.16 466.4,115.92 466.9,116.01 467.4,116.4 467.9,116.24 468.4,116.14 468.9,116.39 469.4,116.98 469.9,116.77 470.4,117.07 470.9,116.33 471.4,116.67 471.9,116.01 472.4,116.69 472.9,116.41 473.4,116.31 473.9,116.2 474.4,115.63 474.9,115.34 475.4,116 475.9,115.65 476.4,115.72 476.9,115.69 477.4,116.19 477.9,116.02 478.4,116.14 478.9,115.59 479.4,115.43 479.9,116.01 480.4,115.7 480.9,116.04 481.4,115.64 481.9,115.65 482.4,115.29 482.9,114.46 483.4,116.07 483.9,115.18 484.4,116.33 484.9,115.48 485.4,115.8 485.9,116.18 486.4,117.19 486.9,114.71 487.4,115.98 487.9,115.84 488.4,114.51 488.9,115.17 489.4,113.58 489.9,113.66 490.4,114.42 490.9,114.85 491.4,114.09 491.9,116.04 492.4,114.95 492.9,114.86 493.4,114.78 493.9,113.94 494.4,115.28 494.9,113.01 495.4,112.56 495.9,114.57 496.4,113.68 496.9,112.46 497.4,113.12 497.9,73.38 498.4,31.71 498.9,26.48 499.4,22.23 499.9,25.96 500.4,27.12 500.9,27.24 501.4,25.7 501.9,26.82 502.4,30.04 502.9,35.13 503.4,37.62 503.9,44.86 504.4,50.39 504.9,54.21 505.4,60.49 505.9,65.99 506.4,69.85 506.9,76.75 507.4,80.09 507.9,85.01 508.4,90.43 508.9,96.85 509.4,99.13 509.9,102.64 510.4,102.63 510.9,103.62 511.4,104.83 511.9,107.18 512.4,108.12 512.9,107.88 513.4,106.88 513.9,106.05 514.4,105.07 514.9,106.26 515.4,106.97 515.9,107.01 516.4,107.59 516.9,107.91 517.4,109.77 517.9,109.9 518.4,109.82 518.9,109 519.4,110.12 519.9,110.03 520.4,109.13 520.9,111.62 521.4,109.87 521.9,110.53 522.4,111.92 522.9,110.25 523.4,112.95 523.9,112.48 524.4,111.42 524.9,111.39 525.4,112.17 525.9,113.41 526.4,111.25 526.9,110.75 527.4,108.32 527.9,109.08 528.4,111.02 528.9,112.04 529.4,110.39 529.9,111.97 530.4,111.09 530.9,111.26 531.4,112.19 531.9,111.86 532.4,112.13 532.9,112.01 533.4,109.5 533.9,111.27 534.4,112.34 534.9,112.65 535.4,111.48 535.9,111.12 536.4,110.9 536.9,110.42 537.4,111.61 537.9,113.85 538.4,110.57 538.9,111.15 539.4,111.39 539.9,110.65 540.4,113.33 540.9,112.33 541.4,112.51 541.9,110.69 542.4,113.2 542.9,112.56 543.4,110.24 543.9,111.3 544.4,112.49 544.9,110.2 545.4,113.86 545.9,111.92 546.4,112.76 546.9,111.98 547.4,113.14 547.9,113.55 548.4,113.26 548.9,114.34 549.4,112.69 549.9,113.71 550.4,112.25 550.9,113.47 551.4,113.94 551.9,113.04 552.4,111.83 552.9,115.04 553.4,112.76 553.9,112.97 554.4,115.04 554.9,114.07 555.4,112.5 555.9,114.19 556.4,113.64 556.9,110.82 557.4,113.52 557.9,113.52 558.4,114.71 558.9,113.22 559.4,113.29 559.9,110.22 560.4,110.8 560.9,113.76 561.4,110.2 561.9,111.39 562.4,112.58 562.9,111.72 563.4,112.1 563.9,112.67 564.4,113.85 564.9,113.45 565.4,112.69 565.9,113.2 566.4,114.1 566.9,112.73 567.4,114.82 567.9,112.48 568.4,113.92 568.9,113.74 569.4,115.07 569.9,113.41 570.4,114.28 570.9,115.26 571.4,113.45 571.9,113.03 572.4,112.1 572.9,113.02 573.4,114.84 573.9,114.61 574.4,116.52 574.9,115.16 575.4,112.47 575.9,112.13 576.4,113.05 576.9,113.92 577.4,114.25 577.9,113.93 578.4,116.01 578.9,114.98 579.4,112.61 579.9,112.41 580.4,113.27 580.9,114.32 581.4,114.16 581.9,114.79 582.4,115.02 582.9,116.76 583.4,114.83 583.9,115.56 584.4,115.74 584.9,114.14 585.4,115.49 585.9,116.59 586.4,115.19 586.9,117.46 587.4,114.6 587.9,115.01 588.4,115.44 588.9,114.99 589.4,113.88 589.9,115.84 590.4,116.66 590.9,113.08 591.4,115.49 591.9,113.42 592.4,115.7 592.9,114.22 593.4,115.44 593.9,113.83 594.4,114.6 594.9,115.17 595.4,112.47 595.9,114.39 596.4,116.74 596.9,114.69 597.4,115.66 597.9,116.16 598.4,115.43 598.9,115.22 599.4,115.07 599.9,116.21 600.4,117.53 600.9,115.9 601.4,114.29 601.9,116.57 602.4,114.23 602.9,115.01 603.4,116.04 603.9,115.37 604.4,116.22 604.9,115.44 605.4,116.09 605.9,114.09 606.4,112.96 606.9,115.05 607.4,112.93 607.9,116.13 608.4,114.69 608.9,114.82 609.4,111.54 609.9,114.06 610.4,112.4 610.9,115.48 611.4,113.31 611.9,113.38 612.4,113.56 612.9,116.51 613.4,113.15 613.9,112.01 614.4,111.42 614.9,112.57 615.4,114.81 615.9,113.28 616.4,111.85 616.9,113.6 617.4,111.9 617.9,113.33 618.4,112.62 618.9,111.97 619.4,113.95 619.9,109.67 620.4,112.86 620.9,112.65 621.4,114 621.9,113.19 622.4,113.81 622.9,114.94 623.4,114.91 623.9,113.22 624.4,113.51 624.9,116.74 625.4,116.14 625.9,113.69 626.4,113.35 626.9,112.45 627.4,114.55 627.9,112.38 628.4,113.21 628.9,113.53 629.4,113.09 629.9,111.72 630.4,112.39 630.9,112.24 631.4,114.33 631.9,114.29 632.4,115.7 632.9,115.26 633.4,115.07 633.9,114.89 634.4,113.84 634.9,114.49 635.4,113.98 635.9,114.77 636.4,113.39 636.9,114.31 637.4,113.29 637.9,114.23 638.4,114.31 638.9,115.39 639.4,117.06 639.9,116.62 640.4,112.51 640.9,114.18 641.4,114.06 641.9,114.66 642.4,114.59 642.9,110.48 643.4,114.7 643.9,113.09 644.4,112.87 644.9,114.16 645.4,114 645.9,113.46 646.4,112.88 646.9,112.85 647.4,111.69 647.9,114.31 648.4,112.6 648.9,111.49 649.4,111.68 649.9,114.44 650.4,117.13 650.9,112.42 651.4,113.12 651.9,114.4 652.4,112.35 652.9,113.7 653.4,113.18 653.9,114.5 654.4,113.03 654.9,113.9 655.4,113.48 655.9,111.99 656.4,112.93 656.9,114.47 657.4,111.69 657.9,111.87 658.4,114.16 658.9,113.61 659.4,112.65 659.9,112.69 660.4,112.58 660.9,111.64 661.4,112.65 661.9,110.14 662.4,113.04 662.9,112.31 663.4,109.06 663.9,108.98 664.4,112.05 664.9,112.05 665.4,113.08 665.9,110.15 666.4,111.52 666.9,112.76 667.4,111.45 667.9,110.41" fill="none" stroke="#c8662c" stroke-width="1.15" stroke-linejoin="round"/>
<polyline points="379.4,116.15 379.9,116.24 380.4,116.16 380.9,116.58 381.4,117.21 381.9,116.61 382.4,117.81 382.9,117.63 383.4,116.84 383.9,116.89 384.4,116.71 384.9,117.54 385.4,117.28 385.9,116.52 386.4,116.89 386.9,117.39 387.4,116.64 387.9,116.37 388.4,116.52 388.9,116.54 389.4,116.76 389.9,116.1 390.4,116.03 390.9,116.68 391.4,116.67 391.9,116.42 392.4,116.56 392.9,117.11 393.4,117.32 393.9,117.16 394.4,116.28 394.9,116.34 395.4,116.93 395.9,116.74 396.4,116.37 396.9,116.03 397.4,115.87 397.9,115.49 398.4,115.33 398.9,115.63 399.4,116.28 399.9,116.2 400.4,116.68 400.9,117.5 401.4,117.51 401.9,117.76 402.4,118.06 402.9,118.32 403.4,118.47 403.9,119.17 404.4,119 404.9,119.26 405.4,119.31 405.9,119.1 406.4,119.21 406.9,118.85 407.4,118.73 407.9,118.38 408.4,118.65 408.9,118.68 409.4,118.04 409.9,118.37 410.4,118.15 410.9,118.07 411.4,118.31 411.9,118.2 412.4,118.54 412.9,118.31 413.4,117.59 413.9,117.79 414.4,117.2 414.9,117.97 415.4,116.78 415.9,117.39 416.4,116.73 416.9,116.43 417.4,116.12 417.9,115.82 418.4,117 418.9,117.35 419.4,117.02 419.9,117.34 420.4,118.16 420.9,118.64 421.4,118.78 421.9,118.63 422.4,119.52 422.9,119.49 423.4,119.12 423.9,119.14 424.4,119.84 424.9,118.41 425.4,118.86 425.9,118.35 426.4,118.4 426.9,117.99 427.4,117.67 427.9,117.18 428.4,117.5 428.9,117.84 429.4,117.68 429.9,118.16 430.4,117.88 430.9,118.24 431.4,117.64 431.9,118.39 432.4,118.03 432.9,117.98 433.4,118.82 433.9,117.88 434.4,118.06 434.9,118.24 435.4,118.48 435.9,118.07 436.4,119.03 436.9,118.35 437.4,118.26 437.9,118.07 438.4,118.54 438.9,118.23 439.4,118.26 439.9,117.8 440.4,118.5 440.9,118.61 441.4,118.97 441.9,118.9 442.4,118.71 442.9,118.82 443.4,119.38 443.9,119.05 444.4,119.12 444.9,119.52 445.4,119.89 445.9,120.04 446.4,119.83 446.9,119.89 447.4,120.35 447.9,120.02 448.4,119.17 448.9,119.33 449.4,119.71 449.9,120.05 450.4,119.81 450.9,119.01 451.4,119.5 451.9,118.55 452.4,119.37 452.9,119.71 453.4,119.12 453.9,119.53 454.4,118.69 454.9,118.96 455.4,118.44 455.9,118.21 456.4,117.45 456.9,117.79 457.4,118.13 457.9,117.3 458.4,117.87 458.9,117.95 459.4,118.42 459.9,118.83 460.4,117.81 460.9,118.33 461.4,118.3 461.9,118.05 462.4,118.58 462.9,118.95 463.4,118.99 463.9,118.45 464.4,118.17 464.9,118.22 465.4,118.48 465.9,117.81 466.4,117.94 466.9,117.5 467.4,117.29 467.9,117.02 468.4,117.49 468.9,117.96 469.4,117.85 469.9,118.17 470.4,118.44 470.9,118.61 471.4,118.51 471.9,118.41 472.4,118.71 472.9,118.48 473.4,118.04 473.9,117.66 474.4,118.2 474.9,118.11 475.4,117.89 475.9,118.49 476.4,117.89 476.9,117.66 477.4,117.51 477.9,117.94 478.4,117.37 478.9,116.57 479.4,117.37 479.9,116.81 480.4,116.5 480.9,116.31 481.4,117.64 481.9,118.33 482.4,118.33 482.9,117.46 483.4,118.58 483.9,118.55 484.4,117.86 484.9,120.29 485.4,119.81 485.9,116.79 486.4,115.49 486.9,115.81 487.4,113.29 487.9,112.64 488.4,111.65 488.9,111.39 489.4,110 489.9,109.94 490.4,109.39 490.9,110.12 491.4,109.08 491.9,110.6 492.4,113.47 492.9,112.24 493.4,111.87 493.9,113.55 494.4,113.61 494.9,114.64 495.4,113.03 495.9,113.3 496.4,111.06 496.9,111.75 497.4,108.11 497.9,110.02 498.4,104.76 498.9,95.69 499.4,89.23 499.9,81.99 500.4,78.35 500.9,75.85 501.4,73.59 501.9,71.17 502.4,73.37 502.9,75.58 503.4,74.41 503.9,76.07 504.4,74.66 504.9,73.9 505.4,78.02 505.9,83.35 506.4,87.56 506.9,90.13 507.4,96.01 507.9,99.39 508.4,105.3 508.9,108.63 509.4,110.09 509.9,109.04 510.4,107.73 510.9,106.78 511.4,104.04 511.9,106.02 512.4,106.75 512.9,108.56 513.4,111.17 513.9,116.52 514.4,117.42 514.9,117.35 515.4,115.94 515.9,116.45 516.4,116.55 516.9,116.71 517.4,117.65 517.9,117.91 518.4,117.9 518.9,117.19 519.4,116.1 519.9,115.44 520.4,113.69 520.9,115.55 521.4,115.87 521.9,114.44 522.4,116.55 522.9,115.23 523.4,114.65 523.9,115.14 524.4,115.44 524.9,116.29 525.4,116.74 525.9,115.33 526.4,115.88 526.9,114.25 527.4,115.06 527.9,114.63 528.4,116.78 528.9,113.76 529.4,115.15 529.9,116.07 530.4,116.06 530.9,115.16 531.4,113.27 531.9,113.77 532.4,115.43 532.9,113.64 533.4,113.42 533.9,114.9 534.4,114 534.9,114.62 535.4,112.62 535.9,114.49 536.4,112.37 536.9,112.16 537.4,112.25 537.9,112.39 538.4,110.53 538.9,112.08 539.4,112.03 539.9,111.6 540.4,112.07 540.9,112.38 541.4,113.73 541.9,114.69 542.4,114.08 542.9,113.61 543.4,113.23 543.9,113.44 544.4,111.7 544.9,112.93 545.4,110.58 545.9,111.46 546.4,113.14 546.9,111.24 547.4,115.55 547.9,110.67 548.4,111.51 548.9,111.62 549.4,114.39 549.9,109.82 550.4,113.24 550.9,113.22 551.4,112.21 551.9,113.8 552.4,114.48 552.9,113.15 553.4,115.06 553.9,112.98 554.4,113.32 554.9,112.25 555.4,114.71 555.9,112.38 556.4,112.91 556.9,111.21 557.4,114.09 557.9,111.01 558.4,112.63 558.9,113.17 559.4,114.55 559.9,113.16 560.4,113.32 560.9,114.54 561.4,114.95 561.9,114.9 562.4,112.38 562.9,113.77 563.4,112.4 563.9,112.6 564.4,113.11 564.9,113.35 565.4,113.77 565.9,112.04 566.4,113.62 566.9,113.68 567.4,115.28 567.9,113.91 568.4,115.58 568.9,115.56 569.4,113.7 569.9,115.62 570.4,114.86 570.9,113.9 571.4,112.99 571.9,114.7 572.4,114.45 572.9,114.75 573.4,116.17 573.9,117.41 574.4,117.8 574.9,115.41 575.4,115.7 575.9,117.26 576.4,116.76 576.9,116.07 577.4,116 577.9,115.49 578.4,113.32 578.9,116.38 579.4,115.15 579.9,116.5 580.4,116.74 580.9,116.83 581.4,115.94 581.9,116.69 582.4,115.37 582.9,115.85 583.4,117 583.9,114.29 584.4,117.9 584.9,115.93 585.4,113.62 585.9,117.01 586.4,114.66 586.9,114.03 587.4,115.51 587.9,117.64 588.4,113.68 588.9,115.06 589.4,115.65 589.9,113.42 590.4,115.95 590.9,114.02 591.4,115.78 591.9,115.31 592.4,117.48 592.9,116.67 593.4,117.55 593.9,117.1 594.4,116.1 594.9,116.5 595.4,115.66 595.9,114.33 596.4,116.22 596.9,118.19 597.4,116.43 597.9,116.46 598.4,115.33 598.9,115.31 599.4,115.44 599.9,116.95 600.4,116.5 600.9,119.37 601.4,116.53 601.9,117.12 602.4,116.93 602.9,117.35 603.4,116.87 603.9,117.6 604.4,116 604.9,117.88 605.4,114.68 605.9,114.99 606.4,113.14 606.9,115.7 607.4,115.52 607.9,115.19 608.4,115.2 608.9,115.47 609.4,116.57 609.9,116.82 610.4,116.21 610.9,116.11 611.4,116.88 611.9,116.65 612.4,115.64 612.9,114.73 613.4,115.59 613.9,114.65 614.4,114.78 614.9,115.18 615.4,116.56 615.9,116.34 616.4,117.79 616.9,116.24 617.4,114.79 617.9,116.32 618.4,113.85 618.9,113.77 619.4,115.59 619.9,113.69 620.4,116.85 620.9,116.26 621.4,115.73 621.9,115.45 622.4,116.06 622.9,117.31 623.4,114.04 623.9,115.93 624.4,115.75 624.9,115.37 625.4,115.27 625.9,115.57 626.4,115.82 626.9,117.27 627.4,113.03 627.9,115.32 628.4,115.85 628.9,114.82 629.4,115.64 629.9,111.17 630.4,113.63 630.9,112.97 631.4,112.86 631.9,113.63 632.4,113.82 632.9,115.55 633.4,114.36 633.9,115.03 634.4,114.64 634.9,115.9 635.4,113.33 635.9,113.58 636.4,114.83 636.9,116.74 637.4,114.01 637.9,113.64 638.4,115.32 638.9,116.83 639.4,114.56 639.9,113.96 640.4,117.34 640.9,114.48 641.4,117.23 641.9,115.43 642.4,113.46 642.9,115.67 643.4,114.88 643.9,115.62 644.4,115.14 644.9,112.48 645.4,114.1 645.9,115.87 646.4,116.16 646.9,115.07 647.4,112.48 647.9,114.52 648.4,113.69 648.9,115.42 649.4,116.43 649.9,113.13 650.4,114.44 650.9,114.98 651.4,114.54 651.9,114.7 652.4,114.6 652.9,115.71 653.4,112.37 653.9,113.34 654.4,113.13 654.9,114.5 655.4,113.77 655.9,114.12 656.4,112.94 656.9,113.06 657.4,113.76 657.9,115.15 658.4,115.79 658.9,115.46 659.4,114.84 659.9,114.75 660.4,115.93 660.9,112.43 661.4,113.79 661.9,116.78 662.4,115.7 662.9,115.62 663.4,114.07 663.9,112.88 664.4,115.29 664.9,113.52 665.4,114.51 665.9,112.96 666.4,112.97 666.9,114.43 667.4,113.8 667.9,114.65" fill="none" stroke="#7e3fb0" stroke-width="1.15" stroke-linejoin="round"/>
<polyline points="379.4,115.66 379.9,115.89 380.4,116.63 380.9,116.53 381.4,116.79 381.9,116.57 382.4,116.9 382.9,117.06 383.4,116.83 383.9,117.3 384.4,117.11 384.9,117.51 385.4,116.95 385.9,117.78 386.4,117.52 386.9,117.22 387.4,117.51 387.9,117.79 388.4,117.51 388.9,117.06 389.4,116.64 389.9,115.65 390.4,115.53 390.9,115.71 391.4,114.88 391.9,115.22 392.4,115.5 392.9,115.34 393.4,115.25 393.9,115.63 394.4,115.49 394.9,116.42 395.4,116.47 395.9,116.11 396.4,116.54 396.9,116.17 397.4,115.82 397.9,116.34 398.4,116.36 398.9,116.2 399.4,116.16 399.9,115.41 400.4,115.7 400.9,115.67 401.4,115.1 401.9,116 402.4,115.45 402.9,115.45 403.4,115.36 403.9,115.39 404.4,115.57 404.9,115.94 405.4,115.65 405.9,115.77 406.4,115.86 406.9,115.99 407.4,116.12 407.9,116.38 408.4,116.99 408.9,117.28 409.4,117.08 409.9,117.16 410.4,117.13 410.9,116.7 411.4,116.82 411.9,115.94 412.4,115.75 412.9,116.26 413.4,115.9 413.9,115.37 414.4,116.2 414.9,115.12 415.4,116.19 415.9,116.43 416.4,117.64 416.9,117.75 417.4,117.47 417.9,117.33 418.4,117.55 418.9,117.67 419.4,117.11 419.9,117 420.4,116.82 420.9,116.71 421.4,115.62 421.9,115.71 422.4,116.03 422.9,116.54 423.4,116.29 423.9,115.48 424.4,115.76 424.9,115.57 425.4,115.26 425.9,116.21 426.4,116.55 426.9,115.56 427.4,115.68 427.9,115.75 428.4,115.73 428.9,116.56 429.4,116.36 429.9,117.4 430.4,117.35 430.9,116.73 431.4,116.45 431.9,116.36 432.4,116.8 432.9,116.97 433.4,117.5 433.9,116.44 434.4,116.37 434.9,116.66 435.4,116.47 435.9,116.93 436.4,117.76 436.9,117.96 437.4,117.87 437.9,117.03 438.4,117.26 438.9,117.14 439.4,116.9 439.9,116.94 440.4,116.55 440.9,117.3 441.4,116.94 441.9,117.22 442.4,116.77 442.9,117.63 443.4,117.18 443.9,118.38 444.4,117.82 444.9,117.67 445.4,116.91 445.9,117.06 446.4,117.45 446.9,117.5 447.4,117.01 447.9,117.05 448.4,116.67 448.9,117.51 449.4,116.98 449.9,117.77 450.4,117.58 450.9,118.11 451.4,116.93 451.9,116.88 452.4,116.78 452.9,117.05 453.4,116.39 453.9,116.57 454.4,117.57 454.9,116.99 455.4,116.66 455.9,115.53 456.4,115.99 456.9,116.33 457.4,116.27 457.9,115.94 458.4,116.39 458.9,115.65 459.4,116.03 459.9,116.19 460.4,116.75 460.9,117.76 461.4,117.28 461.9,117.46 462.4,117.5 462.9,117.75 463.4,118.07 463.9,117.79 464.4,118.26 464.9,117.98 465.4,117.84 465.9,116.57 466.4,117.22 466.9,117.36 467.4,117.93 467.9,117.56 468.4,116.95 468.9,116.68 469.4,117.15 469.9,117.04 470.4,117.06 470.9,116.91 471.4,116.8 471.9,116.71 472.4,117.55 472.9,117.04 473.4,118.24 473.9,118.25 474.4,117.75 474.9,117.77 475.4,118.01 475.9,117.95 476.4,117.91 476.9,118.2 477.4,117.32 477.9,116.89 478.4,117.5 478.9,117.32 479.4,117.14 479.9,116.4 480.4,106.41 480.9,105.61 481.4,105.07 481.9,105.01 482.4,104.75 482.9,105.58 483.4,104.93 483.9,104.79 484.4,105.92 484.9,107.43 485.4,108.91 485.9,110.1 486.4,111.99 486.9,108.28 487.4,110.12 487.9,110.26 488.4,111.15 488.9,110.43 489.4,109.68 489.9,109.66 490.4,111.27 490.9,112.95 491.4,111.99 491.9,112.97 492.4,112.15 492.9,114.18 493.4,113.8 493.9,113.78 494.4,114.44 494.9,113.57 495.4,115.45 495.9,115.47 496.4,115.06 496.9,113.92 497.4,115.02 497.9,115.36 498.4,114.12 498.9,114.87 499.4,115.38 499.9,114.72 500.4,115.08 500.9,114.71 501.4,115.2 501.9,116.22 502.4,115.82 502.9,115.88 503.4,115.44 503.9,115.08 504.4,116.31 504.9,116.15 505.4,115.72 505.9,114.5 506.4,115.05 506.9,113.4 507.4,115.01 507.9,114.44 508.4,110.16 508.9,104.42 509.4,96.23 509.9,88.93 510.4,79.9 510.9,70.42 511.4,62.01 511.9,56.65 512.4,63.72 512.9,71.48 513.4,64.57 513.9,58.67 514.4,58.77 514.9,64.79 515.4,71.52 515.9,79.03 516.4,86.06 516.9,94.66 517.4,102.83 517.9,109.59 518.4,112.7 518.9,112.65 519.4,111.75 519.9,113.37 520.4,112.38 520.9,113.81 521.4,112.59 521.9,112.83 522.4,113.15 522.9,113.86 523.4,113.37 523.9,114.7 524.4,113.41 524.9,112.72 525.4,111.4 525.9,113.48 526.4,112.6 526.9,111.06 527.4,111.06 527.9,113.52 528.4,112.2 528.9,112.46 529.4,113.18 529.9,114.84 530.4,115.43 530.9,113.81 531.4,111.83 531.9,115.08 532.4,113.05 532.9,112.43 533.4,115.67 533.9,115.03 534.4,112.35 534.9,112.75 535.4,112.76 535.9,113.52 536.4,113.31 536.9,113.6 537.4,110.83 537.9,114.17 538.4,114.63 538.9,112.91 539.4,111.48 539.9,113.44 540.4,112.34 540.9,112.67 541.4,111.73 541.9,113.06 542.4,113.06 542.9,114.02 543.4,113.03 543.9,110.21 544.4,112.57 544.9,112.39 545.4,110.71 545.9,113.85 546.4,114.19 546.9,112.67 547.4,114.21 547.9,111.8 548.4,111.64 548.9,114.14 549.4,113.35 549.9,111 550.4,113.68 550.9,113.2 551.4,111.77 551.9,112.47 552.4,112.89 552.9,110.9 553.4,112.4 553.9,111.13 554.4,111.78 554.9,111.79 555.4,113.21 555.9,111.26 556.4,113.18 556.9,111.32 557.4,114.22 557.9,113.19 558.4,112.35 558.9,112.5 559.4,113.74 559.9,113.49 560.4,114.89 560.9,113.42 561.4,116 561.9,112.75 562.4,111.03 562.9,111.47 563.4,111.47 563.9,113.1 564.4,112.17 564.9,112.55 565.4,112.28 565.9,112.53 566.4,116.07 566.9,111.9 567.4,112.57 567.9,112.79 568.4,114.65 568.9,112.96 569.4,113.12 569.9,116.38 570.4,116.11 570.9,114.41 571.4,115.03 571.9,114.8 572.4,115.55 572.9,113.25 573.4,117.28 573.9,116.96 574.4,116.59 574.9,116.65 575.4,115.48 575.9,114.63 576.4,116.72 576.9,115.06 577.4,113.82 577.9,114.27 578.4,113.59 578.9,114.17 579.4,115.77 579.9,113.94 580.4,115.02 580.9,113.76 581.4,115.41 581.9,117.36 582.4,117.13 582.9,115.53 583.4,114.78 583.9,115.88 584.4,114.14 584.9,116.78 585.4,117.04 585.9,115.21 586.4,116.48 586.9,115.89 587.4,113.7 587.9,113.96 588.4,115.81 588.9,114.94 589.4,116.84 589.9,114.77 590.4,113.75 590.9,115.87 591.4,112.57 591.9,112.14 592.4,114.11 592.9,113.27 593.4,113.21 593.9,114.78 594.4,113.15 594.9,114.01 595.4,116.2 595.9,115.3 596.4,114.05 596.9,112.39 597.4,113.69 597.9,113.24 598.4,114.44 598.9,115.47 599.4,112.6 599.9,111.73 600.4,114.11 600.9,115.04 601.4,114.13 601.9,116.9 602.4,115.57 602.9,116.67 603.4,114.65 603.9,114.75 604.4,115.17 604.9,115.45 605.4,116.41 605.9,115.58 606.4,113.11 606.9,114.59 607.4,113.02 607.9,115.62 608.4,114.67 608.9,114.88 609.4,114.53 609.9,113.38 610.4,116.41 610.9,113.74 611.4,113.98 611.9,114.9 612.4,114.78 612.9,114.82 613.4,113.99 613.9,114.7 614.4,115.93 614.9,114.74 615.4,113.95 615.9,114.29 616.4,114.32 616.9,113.82 617.4,114.41 617.9,114.52 618.4,115.92 618.9,114.59 619.4,113.3 619.9,115.19 620.4,115.6 620.9,114.24 621.4,115.6 621.9,115.64 622.4,115.37 622.9,115.35 623.4,116.16 623.9,115.95 624.4,112.91 624.9,114.42 625.4,116 625.9,114.67 626.4,113.23 626.9,116.03 627.4,113.03 627.9,113.97 628.4,111.51 628.9,113.35 629.4,114.8 629.9,112.74 630.4,112.12 630.9,113.81 631.4,112.93 631.9,113.65 632.4,111.94 632.9,114.85 633.4,113.44 633.9,115.6 634.4,112.46 634.9,116.18 635.4,114.87 635.9,113.32 636.4,114.51 636.9,115.04 637.4,115.73 637.9,114.97 638.4,116.15 638.9,114.05 639.4,113.39 639.9,113.72 640.4,114.51 640.9,113.11 641.4,113.28 641.9,111.88 642.4,112.21 642.9,112.87 643.4,114.33 643.9,116.42 644.4,112.85 644.9,112.99 645.4,110.65 645.9,115.03 646.4,112.39 646.9,114.59 647.4,114.14 647.9,114.76 648.4,113.37 648.9,113.77 649.4,112.69 649.9,113.75 650.4,113.36 650.9,112.08 651.4,112.73 651.9,113.88 652.4,112.44 652.9,114.23 653.4,113.42 653.9,114.22 654.4,114.6 654.9,116.99 655.4,112.7 655.9,115.08 656.4,113.26 656.9,111.97 657.4,115.11 657.9,112.47 658.4,113.81 658.9,113.23 659.4,115.32 659.9,114.19 660.4,114.09 660.9,112.85 661.4,111.88 661.9,113.99 662.4,114.88 662.9,111.51 663.4,113.49 663.9,113.2 664.4,112.66 664.9,112.15 665.4,112.06 665.9,113.12 666.4,112.84 666.9,110.47 667.4,110.69 667.9,112.77" fill="none" stroke="#1f6fc0" stroke-width="1.15" stroke-linejoin="round"/>
<polyline points="379.4,116.3 379.9,116.38 380.4,116.29 380.9,117.31 381.4,117.3 381.9,116.69 382.4,116.3 382.9,116.56 383.4,116.47 383.9,115.78 384.4,114.91 384.9,115.29 385.4,115.11 385.9,114.78 386.4,114.37 386.9,114.9 387.4,115.1 387.9,115.07 388.4,115.09 388.9,115.32 389.4,116.01 389.9,116.1 390.4,115.37 390.9,115.48 391.4,114.66 391.9,115.22 392.4,114.32 392.9,114.86 393.4,114.27 393.9,114.46 394.4,114.51 394.9,114.75 395.4,114.91 395.9,115.23 396.4,115.05 396.9,114.78 397.4,114.75 397.9,114.46 398.4,115.12 398.9,114.44 399.4,115.09 399.9,114.52 400.4,114.71 400.9,114.49 401.4,114.32 401.9,114.63 402.4,114.16 402.9,114.92 403.4,114.58 403.9,114.13 404.4,114.47 404.9,114.47 405.4,114.97 405.9,114.82 406.4,114.84 406.9,114.4 407.4,115.16 407.9,115.31 408.4,115.13 408.9,115.1 409.4,115.03 409.9,115 410.4,114.37 410.9,114.76 411.4,115.28 411.9,114.7 412.4,114.8 412.9,114.37 413.4,114.09 413.9,114.47 414.4,114.21 414.9,113.9 415.4,115.06 415.9,114.17 416.4,114.25 416.9,114.71 417.4,113.65 417.9,113.74 418.4,113.93 418.9,113.69 419.4,113.42 419.9,112.41 420.4,111.43 420.9,112.21 421.4,112.02 421.9,112.84 422.4,112.35 422.9,112.14 423.4,111.85 423.9,112.38 424.4,112.23 424.9,112.14 425.4,112.05 425.9,112.27 426.4,111.89 426.9,112.09 427.4,112.16 427.9,112.36 428.4,112.56 428.9,112.99 429.4,113.05 429.9,113.62 430.4,113.87 430.9,114.25 431.4,114.2 431.9,113.85 432.4,113.33 432.9,113.17 433.4,113.09 433.9,112.76 434.4,113.21 434.9,112.65 435.4,112.38 435.9,112.64 436.4,111.87 436.9,112.91 437.4,112.18 437.9,112.74 438.4,112.6 438.9,112.76 439.4,112.76 439.9,113.46 440.4,114.06 440.9,113.52 441.4,113.08 441.9,112.79 442.4,112.79 442.9,112.75 443.4,113.05 443.9,112.87 444.4,112.51 444.9,112.16 445.4,111.8 445.9,112.08 446.4,112.25 446.9,112.55 447.4,112.52 447.9,113.35 448.4,113.19 448.9,113.58 449.4,113.44 449.9,113.65 450.4,112.98 450.9,113.55 451.4,113.89 451.9,113.05 452.4,113.17 452.9,112.34 453.4,112.07 453.9,111.56 454.4,111.99 454.9,112.55 455.4,113.09 455.9,112.92 456.4,112.46 456.9,113.04 457.4,113.5 457.9,114.37 458.4,113.89 458.9,113.88 459.4,113.75 459.9,114.38 460.4,114.5 460.9,114.94 461.4,115.37 461.9,115.88 462.4,115.91 462.9,115.19 463.4,115.58 463.9,115.19 464.4,115.05 464.9,114.64 465.4,113.94 465.9,113.88 466.4,113.74 466.9,114.28 467.4,113.24 467.9,113.25 468.4,113.4 468.9,112.38 469.4,113.39 469.9,113.5 470.4,113.3 470.9,114.06 471.4,113.9 471.9,113.83 472.4,113.42 472.9,113.93 473.4,114.57 473.9,114.47 474.4,114.67 474.9,113.88 475.4,113.5 475.9,113.34 476.4,113.41 476.9,113.53 477.4,113.59 477.9,113.76 478.4,112.94 478.9,112.83 479.4,113.29 479.9,114.62 480.4,114.79 480.9,114.62 481.4,114.47 481.9,115.12 482.4,113.99 482.9,112.79 483.4,114.24 483.9,113.93 484.4,113.69 484.9,112.36 485.4,112.4 485.9,112.36 486.4,112.85 486.9,111.38 487.4,111.66 487.9,111.8 488.4,111.1 488.9,110.25 489.4,111.75 489.9,112.09 490.4,111.78 490.9,111.39 491.4,112.92 491.9,110.86 492.4,109.61 492.9,110.46 493.4,109.45 493.9,112.31 494.4,109.67 494.9,108.72 495.4,108.4 495.9,110.27 496.4,110.42 496.9,108.87 497.4,110.27 497.9,109.61 498.4,110.42 498.9,109.03 499.4,108.93 499.9,106.61 500.4,107.27 500.9,107.5 501.4,106.82 501.9,107.94 502.4,106.44 502.9,106.51 503.4,106.65 503.9,107.08 504.4,110.8 504.9,110.19 505.4,110.92 505.9,113.64 506.4,111.57 506.9,114.63 507.4,112.39 507.9,114.72 508.4,115.43 508.9,116.94 509.4,115.7 509.9,115.66 510.4,114.12 510.9,113.59 511.4,110.15 511.9,109.91 512.4,105.2 512.9,101.17 513.4,98.81 513.9,92.95 514.4,85.7 514.9,77.57 515.4,68.57 515.9,72.89 516.4,79.45 516.9,75.92 517.4,75.59 517.9,82.48 518.4,89.04 518.9,94.5 519.4,98.17 519.9,96.97 520.4,102.55 520.9,101.03 521.4,101.73 521.9,102.35 522.4,101.87 522.9,104.3 523.4,106.36 523.9,104.85 524.4,104.44 524.9,109.22 525.4,106.4 525.9,106.63 526.4,107.71 526.9,107.45 527.4,107.55 527.9,107.87 528.4,108.01 528.9,108.98 529.4,107.47 529.9,108.6 530.4,107.97 530.9,109.18 531.4,108.72 531.9,108.51 532.4,108.81 532.9,108.58 533.4,110.58 533.9,109.3 534.4,109.75 534.9,110.43 535.4,110.7 535.9,113.62 536.4,110.75 536.9,110.97 537.4,112.51 537.9,109.49 538.4,111.05 538.9,110.21 539.4,111.05 539.9,110.91 540.4,111.04 540.9,111.65 541.4,110.55 541.9,110.64 542.4,114.29 542.9,112.15 543.4,113.1 543.9,113.49 544.4,110.96 544.9,111.4 545.4,113.43 545.9,113.45 546.4,111.19 546.9,112.33 547.4,112.38 547.9,114.76 548.4,112.27 548.9,110.86 549.4,112.55 549.9,112.36 550.4,110.87 550.9,112.1 551.4,111.5 551.9,112.22 552.4,111.52 552.9,113.58 553.4,113.37 553.9,114.15 554.4,109.84 554.9,111.99 555.4,112.08 555.9,112.56 556.4,113.39 556.9,115.37 557.4,109.59 557.9,112.41 558.4,111.57 558.9,113.71 559.4,111.96 559.9,111.31 560.4,112 560.9,111.11 561.4,112.87 561.9,111.93 562.4,111.52 562.9,112.56 563.4,112.79 563.9,112.58 564.4,114.31 564.9,112.38 565.4,112.9 565.9,113.27 566.4,111 566.9,114 567.4,112.86 567.9,111.21 568.4,110.86 568.9,112.99 569.4,112.65 569.9,112.29 570.4,113.17 570.9,114.23 571.4,113.32 571.9,113.21 572.4,113.1 572.9,111.98 573.4,113.57 573.9,114.37 574.4,113.48 574.9,111.84 575.4,115.23 575.9,114.72 576.4,115.67 576.9,114.67 577.4,116.94 577.9,115.01 578.4,114.24 578.9,115.45 579.4,115.31 579.9,115.69 580.4,113.82 580.9,114.87 581.4,114.09 581.9,113.77 582.4,113.96 582.9,112.56 583.4,112.22 583.9,116.73 584.4,115.46 584.9,114.69 585.4,116.25 585.9,116.27 586.4,115.43 586.9,114.44 587.4,115 587.9,116.33 588.4,115.67 588.9,116.35 589.4,116.62 589.9,117.62 590.4,117.88 590.9,116.14 591.4,114.72 591.9,115.2 592.4,117.61 592.9,115.97 593.4,116.31 593.9,115.22 594.4,116.36 594.9,114.22 595.4,116.04 595.9,114.42 596.4,114.34 596.9,116.89 597.4,115.35 597.9,113.21 598.4,114.7 598.9,113.84 599.4,114.52 599.9,115.37 600.4,114.05 600.9,113.72 601.4,113.25 601.9,113.46 602.4,116.41 602.9,114.28 603.4,116.87 603.9,115.02 604.4,114.7 604.9,113.84 605.4,114.16 605.9,113.15 606.4,115.45 606.9,113.3 607.4,113.75 607.9,114.16 608.4,115.13 608.9,113.44 609.4,114.05 609.9,113.47 610.4,114.4 610.9,114.67 611.4,113.67 611.9,113.25 612.4,113.19 612.9,111.98 613.4,114.98 613.9,111.62 614.4,117.39 614.9,113.24 615.4,115.32 615.9,111.53 616.4,114.53 616.9,113.02 617.4,114.8 617.9,114.86 618.4,112.66 618.9,112.64 619.4,113.93 619.9,110.17 620.4,112.71 620.9,111.09 621.4,114.03 621.9,113.96 622.4,112.91 622.9,113.91 623.4,112.7 623.9,115.13 624.4,112.78 624.9,113.82 625.4,114.5 625.9,113.37 626.4,113.82 626.9,113.86 627.4,112.48 627.9,112.83 628.4,112.58 628.9,111.81 629.4,113.47 629.9,112.57 630.4,114.5 630.9,113.32 631.4,113.53 631.9,114.7 632.4,115.51 632.9,115.83 633.4,115.4 633.9,114.21 634.4,115.06 634.9,114.32 635.4,112.85 635.9,112.51 636.4,111.28 636.9,113.23 637.4,111.82 637.9,111 638.4,112.99 638.9,111.5 639.4,112.71 639.9,112.36 640.4,112.19 640.9,114.64 641.4,113.98 641.9,114.33 642.4,113.41 642.9,114.26 643.4,113.15 643.9,114.19 644.4,113.75 644.9,112.79 645.4,112.77 645.9,112.59 646.4,113.06 646.9,111.9 647.4,111.64 647.9,114.22 648.4,114.34 648.9,115.17 649.4,111.86 649.9,114.58 650.4,115.21 650.9,113.33 651.4,112.4 651.9,115.03 652.4,113.17 652.9,114.15 653.4,113.31 653.9,110.26 654.4,111.79 654.9,112.47 655.4,111.82 655.9,111.75 656.4,111.73 656.9,113.22 657.4,113.48 657.9,110.07 658.4,113.44 658.9,111.44 659.4,113.82 659.9,111.64 660.4,112.61 660.9,113.54 661.4,111.59 661.9,114.65 662.4,114.55 662.9,115.43 663.4,115.07 663.9,114.49 664.4,115.06 664.9,114.26 665.4,111.76 665.9,116 666.4,114.86 666.9,114.35 667.4,113.31 667.9,111.1" fill="none" stroke="#e0161c" stroke-width="1.15" stroke-linejoin="round"/>
<polyline points="379.4,117.01 379.9,117.29 380.4,117.05 380.9,117 381.4,117.18 381.9,117.25 382.4,118.2 382.9,117.95 383.4,117.54 383.9,117.68 384.4,117.78 384.9,117.62 385.4,117.43 385.9,117.23 386.4,117.4 386.9,116.96 387.4,116.93 387.9,117.11 388.4,116.08 388.9,116.59 389.4,116.41 389.9,116.4 390.4,116.96 390.9,116.77 391.4,116.97 391.9,117.25 392.4,117.7 392.9,117.77 393.4,117.94 393.9,117.69 394.4,117.67 394.9,117.84 395.4,118.08 395.9,118.19 396.4,117.92 396.9,117.23 397.4,116.79 397.9,117.06 398.4,117.12 398.9,117.46 399.4,117.49 399.9,117.23 400.4,117.83 400.9,116.53 401.4,117.43 401.9,117.77 402.4,117.99 402.9,117.46 403.4,117.5 403.9,117.48 404.4,117.73 404.9,117.61 405.4,117.75 405.9,116.99 406.4,116.85 406.9,117.29 407.4,117.87 407.9,116.95 408.4,117.11 408.9,117.43 409.4,116.5 409.9,116.57 410.4,117.76 410.9,117.83 411.4,117.67 411.9,117.59 412.4,117.34 412.9,116.95 413.4,117.09 413.9,117.5 414.4,117.16 414.9,117.37 415.4,117.4 415.9,118.2 416.4,117.83 416.9,118.15 417.4,118.24 417.9,117.78 418.4,118.08 418.9,117.62 419.4,117.89 419.9,117.9 420.4,117.87 420.9,117.27 421.4,116.81 421.9,117.6 422.4,116.54 422.9,117.01 423.4,117.54 423.9,117.36 424.4,117.25 424.9,117.14 425.4,116.75 425.9,116.8 426.4,116.68 426.9,115.9 427.4,116.2 427.9,116.68 428.4,116.23 428.9,116.51 429.4,115.87 429.9,115.81 430.4,116.63 430.9,116.86 431.4,117.5 431.9,117.76 432.4,117.43 432.9,117.68 433.4,117.67 433.9,117.54 434.4,117.44 434.9,117.71 435.4,117.4 435.9,117.43 436.4,117.54 436.9,117.21 437.4,118 437.9,117.45 438.4,118.04 438.9,118.61 439.4,118.35 439.9,118.95 440.4,118.85 440.9,118.81 441.4,119.09 441.9,118.74 442.4,118.51 442.9,119.26 443.4,119.19 443.9,119.32 444.4,118.98 444.9,118.25 445.4,118.03 445.9,117.9 446.4,117.86 446.9,117.58 447.4,117.9 447.9,117.57 448.4,117.6 448.9,117.6 449.4,116.99 449.9,117.31 450.4,117.7 450.9,118.04 451.4,117.44 451.9,117.6 452.4,119.21 452.9,118.86 453.4,118.85 453.9,118.63 454.4,118.87 454.9,118.83 455.4,118.5 455.9,119.08 456.4,118.58 456.9,118.18 457.4,117.51 457.9,118.04 458.4,117.94 458.9,117.96 459.4,117.32 459.9,117.14 460.4,117.51 460.9,117.58 461.4,117.97 461.9,118 462.4,118.03 462.9,117.99 463.4,118.26 463.9,118.08 464.4,118.41 464.9,118.73 465.4,118.76 465.9,119.21 466.4,118.77 466.9,119.13 467.4,118.22 467.9,118.92 468.4,118.62 468.9,118.25 469.4,117.77 469.9,117.77 470.4,118.01 470.9,117.89 471.4,117.92 471.9,117.76 472.4,117.94 472.9,117.63 473.4,117.74 473.9,117.42 474.4,117.98 474.9,117.87 475.4,117.26 475.9,117.02 476.4,117.74 476.9,117.88 477.4,118.16 477.9,117.42 478.4,116.7 478.9,118.15 479.4,118.41 479.9,117.22 480.4,118.57 480.9,118.97 481.4,118.12 481.9,117.39 482.4,118.12 482.9,116.48 483.4,117.44 483.9,115.9 484.4,115.89 484.9,100.38 485.4,81.14 485.9,60.5 486.4,47.37 486.9,36.46 487.4,25.27 487.9,14.36 488.4,12.27 488.9,14.16 489.4,14.56 489.9,15.44 490.4,23.32 490.9,31.66 491.4,40.21 491.9,50.59 492.4,58.94 492.9,70.2 493.4,73.09 493.9,77.1 494.4,82.93 494.9,84.48 495.4,91.7 495.9,92.9 496.4,97.43 496.9,100.76 497.4,103.31 497.9,105.89 498.4,109.14 498.9,111.94 499.4,113.75 499.9,115.3 500.4,115.76 500.9,115.04 501.4,117.15 501.9,116.56 502.4,116.37 502.9,115.72 503.4,115.21 503.9,114.16 504.4,115.42 504.9,116 505.4,115.04 505.9,117.29 506.4,117.87 506.9,116.48 507.4,116.96 507.9,117.46 508.4,117.21 508.9,118.14 509.4,117.91 509.9,118.07 510.4,118.34 510.9,117.7 511.4,118.42 511.9,118.09 512.4,120.76 512.9,117.29 513.4,120.01 513.9,118.52 514.4,116 514.9,118.76 515.4,120.2 515.9,117.36 516.4,119.53 516.9,119.19 517.4,119.01 517.9,118.09 518.4,117.18 518.9,118.42 519.4,117.7 519.9,119.3 520.4,117.59 520.9,118.53 521.4,117.25 521.9,118.95 522.4,118.92 522.9,117.03 523.4,120.01 523.9,119.62 524.4,117.69 524.9,118.78 525.4,118.19 525.9,117.89 526.4,114.72 526.9,117.8 527.4,116.25 527.9,115.55 528.4,116.57 528.9,115.79 529.4,115.32 529.9,116.61 530.4,114.88 530.9,116.51 531.4,115.67 531.9,114.37 532.4,111.61 532.9,117.14 533.4,115.08 533.9,112.59 534.4,115.26 534.9,113.4 535.4,113.75 535.9,115.88 536.4,114.09 536.9,115.67 537.4,114.56 537.9,115.66 538.4,113.61 538.9,116.59 539.4,113.91 539.9,112.27 540.4,112.92 540.9,114.08 541.4,114.15 541.9,113.82 542.4,110.59 542.9,113.24 543.4,112.74 543.9,113.6 544.4,113.93 544.9,112.27 545.4,113.45 545.9,113.3 546.4,113.06 546.9,113.37 547.4,113.09 547.9,114.01 548.4,113.64 548.9,114.63 549.4,112.25 549.9,113.94 550.4,114.35 550.9,113.66 551.4,113.49 551.9,115.19 552.4,113.7 552.9,112.3 553.4,113.48 553.9,112.85 554.4,114.71 554.9,115.39 555.4,114.78 555.9,113.07 556.4,116.09 556.9,115.64 557.4,113.18 557.9,114.5 558.4,114.51 558.9,113.81 559.4,114.24 559.9,114.75 560.4,114.4 560.9,115.05 561.4,113.95 561.9,113.33 562.4,115.11 562.9,114.19 563.4,115.27 563.9,113.37 564.4,113.73 564.9,113.62 565.4,113.53 565.9,113.58 566.4,114.51 566.9,116.57 567.4,115.14 567.9,116.88 568.4,113.46 568.9,115.72 569.4,115.33 569.9,117.24 570.4,114.64 570.9,114.96 571.4,117.67 571.9,115.93 572.4,116 572.9,116.44 573.4,114.19 573.9,113.05 574.4,116.73 574.9,114.44 575.4,116.47 575.9,114.53 576.4,119.15 576.9,117.26 577.4,115.9 577.9,117.7 578.4,115.31 578.9,117.24 579.4,115.76 579.9,116.44 580.4,117 580.9,117.26 581.4,116.5 581.9,114.81 582.4,115.39 582.9,116.35 583.4,112.52 583.9,118.01 584.4,116.51 584.9,115.55 585.4,117.66 585.9,116.4 586.4,116.67 586.9,118.07 587.4,116.02 587.9,117.82 588.4,117.63 588.9,115.13 589.4,117.52 589.9,115.78 590.4,115.19 590.9,115.82 591.4,116.53 591.9,117.34 592.4,118.89 592.9,117.21 593.4,116.49 593.9,117.99 594.4,118 594.9,115.83 595.4,117.64 595.9,115.77 596.4,116.67 596.9,117.84 597.4,113.63 597.9,114.77 598.4,115.07 598.9,116.94 599.4,116.52 599.9,115.99 600.4,117.24 600.9,114.51 601.4,118.91 601.9,116.12 602.4,119.57 602.9,119.31 603.4,118.64 603.9,116.74 604.4,117.81 604.9,117.51 605.4,117.72 605.9,118.91 606.4,118.14 606.9,118.04 607.4,116.95 607.9,116.83 608.4,119.17 608.9,117.36 609.4,115.15 609.9,117.6 610.4,117.34 610.9,117.81 611.4,117.72 611.9,117.21 612.4,118.79 612.9,117.7 613.4,119.19 613.9,116.84 614.4,118.6 614.9,115.58 615.4,115.26 615.9,117.81 616.4,115.34 616.9,116.15 617.4,114.24 617.9,116.19 618.4,116.67 618.9,116.66 619.4,115.58 619.9,119.17 620.4,116.11 620.9,117.13 621.4,117.35 621.9,117.39 622.4,116.07 622.9,116.02 623.4,114.35 623.9,117.12 624.4,118.08 624.9,117.09 625.4,116.34 625.9,116.83 626.4,115.09 626.9,113.74 627.4,115.67 627.9,118.48 628.4,115.6 628.9,117.52 629.4,116.58 629.9,115.58 630.4,115.99 630.9,116.33 631.4,116.2 631.9,115.76 632.4,116.45 632.9,114.2 633.4,119.61 633.9,116.53 634.4,116.81 634.9,114.62 635.4,115.23 635.9,114.8 636.4,116.54 636.9,114.78 637.4,113.75 637.9,114.63 638.4,115.52 638.9,115.08 639.4,113.21 639.9,117.73 640.4,113.89 640.9,114.97 641.4,116.99 641.9,115.54 642.4,115.84 642.9,114.54 643.4,116.26 643.9,114 644.4,116.1 644.9,114.54 645.4,114.19 645.9,115.08 646.4,114.42 646.9,115.93 647.4,114.26 647.9,115.88 648.4,116.47 648.9,116.1 649.4,116.12 649.9,117.32 650.4,115 650.9,116.24 651.4,115.32 651.9,118.1 652.4,117.5 652.9,116.76 653.4,117.59 653.9,116.68 654.4,115.63 654.9,115.07 655.4,114.48 655.9,115.22 656.4,116.52 656.9,114.49 657.4,115.77 657.9,114.49 658.4,116.32 658.9,113.26 659.4,114.96 659.9,115.46 660.4,116.9 660.9,114.68 661.4,116 661.9,115.21 662.4,116.44 662.9,115.71 663.4,114.36 663.9,113.16 664.4,115.47 664.9,114.47 665.4,113.95 665.9,114.77 666.4,115.11 666.9,112.16 667.4,115.39 667.9,114.42" fill="none" stroke="#1d3a8f" stroke-width="1.15" stroke-linejoin="round"/>
<polyline points="548.4,113.64 548.9,114.63 549.4,112.25 549.9,113.94 550.4,114.35 550.9,113.66 551.4,113.49 551.9,115.19 552.4,113.7 552.9,112.3 553.4,113.48 553.9,112.85 554.4,114.71 554.9,115.39 555.4,114.78 555.9,113.07 556.4,116.09 556.9,115.64 557.4,113.18 557.9,114.5 558.4,114.51 558.9,113.81 559.4,114.24 559.9,114.75 560.4,114.4 560.9,115.05 561.4,113.95 561.9,113.33 562.4,115.11 562.9,114.19 563.4,115.27 563.9,113.37 564.4,113.73 564.9,113.62 565.4,113.53 565.9,113.58 566.4,114.51 566.9,116.57 567.4,115.14 567.9,116.88 568.4,113.46 568.9,115.72 569.4,115.33 569.9,117.24 570.4,114.64 570.9,114.96 571.4,117.67 571.9,115.93 572.4,116 572.9,116.44 573.4,114.19 573.9,113.05 574.4,116.73 574.9,114.44 575.4,116.47 575.9,114.53 576.4,119.15 576.9,117.26 577.4,115.9 577.9,117.7 578.4,115.31 578.9,117.24 579.4,115.76 579.9,116.44 580.4,117 580.9,117.26 581.4,116.5 581.9,114.81 582.4,115.39 582.9,116.35 583.4,112.52 583.9,118.01 584.4,116.51 584.9,115.55 585.4,117.66 585.9,116.4 586.4,116.67 586.9,118.07 587.4,116.02 587.9,117.82 588.4,117.63 588.9,115.13 589.4,117.52 589.9,115.78 590.4,115.19 590.9,115.82 591.4,116.53 591.9,117.34 592.4,118.89 592.9,117.21 593.4,116.49 593.9,117.99 594.4,118 594.9,115.83 595.4,117.64 595.9,115.77 596.4,116.67 596.9,117.84 597.4,113.63 597.9,114.77 598.4,115.07 598.9,116.94 599.4,116.52 599.9,115.99 600.4,117.24 600.9,114.51 601.4,118.91 601.9,116.12 602.4,119.57 602.9,119.31 603.4,118.64 603.9,116.74 604.4,117.81 604.9,117.51 605.4,117.72 605.9,118.91 606.4,118.14 606.9,118.04 607.4,116.95 607.9,116.83 608.4,119.17 608.9,117.36 609.4,115.15 609.9,117.6 610.4,117.34 610.9,117.81 611.4,117.72 611.9,117.21 612.4,118.79 612.9,117.7 613.4,119.19 613.9,116.84 614.4,118.6 614.9,115.58 615.4,115.26 615.9,117.81 616.4,115.34 616.9,116.15 617.4,114.24 617.9,116.19 618.4,116.67 618.9,116.66 619.4,115.58 619.9,119.17 620.4,116.11 620.9,117.13 621.4,117.35 621.9,117.39 622.4,116.07 622.9,116.02 623.4,114.35 623.9,117.12 624.4,118.08 624.9,117.09 625.4,116.34 625.9,116.83 626.4,115.09 626.9,113.74 627.4,115.67 627.9,118.48 628.4,115.6 628.9,117.52 629.4,116.58 629.9,115.58 630.4,115.99 630.9,116.33 631.4,116.2 631.9,115.76 632.4,116.45 632.9,114.2 633.4,119.61 633.9,116.53 634.4,116.81 634.9,114.62 635.4,115.23 635.9,114.8 636.4,116.54 636.9,114.78 637.4,113.75 637.9,114.63 638.4,115.52 638.9,115.08 639.4,113.21 639.9,117.73 640.4,113.89 640.9,114.97 641.4,116.99 641.9,115.54 642.4,115.84 642.9,114.54 643.4,116.26 643.9,114 644.4,116.1 644.9,114.54 645.4,114.19 645.9,115.08 646.4,114.42 646.9,115.93 647.4,114.26 647.9,115.88 648.4,116.47 648.9,116.1 649.4,116.12 649.9,117.32 650.4,115 650.9,116.24 651.4,115.32 651.9,118.1 652.4,117.5 652.9,116.76 653.4,117.59 653.9,116.68 654.4,115.63 654.9,115.07 655.4,114.48 655.9,115.22 656.4,116.52 656.9,114.49 657.4,115.77 657.9,114.49 658.4,116.32 658.9,113.26 659.4,114.96 659.9,115.46 660.4,116.9 660.9,114.68 661.4,116 661.9,115.21 662.4,116.44 662.9,115.71 663.4,114.36 663.9,113.16 664.4,115.47 664.9,114.47 665.4,113.95 665.9,114.77 666.4,115.11 666.9,112.16 667.4,115.39 667.9,114.42" fill="none" stroke="#1d3a8f" stroke-width="1.15" stroke-linejoin="round"/>
<polyline points="548.4,111.64 548.9,114.14 549.4,113.35 549.9,111 550.4,113.68 550.9,113.2 551.4,111.77 551.9,112.47 552.4,112.89 552.9,110.9 553.4,112.4 553.9,111.13 554.4,111.78 554.9,111.79 555.4,113.21 555.9,111.26 556.4,113.18 556.9,111.32 557.4,114.22 557.9,113.19 558.4,112.35 558.9,112.5 559.4,113.74 559.9,113.49 560.4,114.89 560.9,113.42 561.4,116 561.9,112.75 562.4,111.03 562.9,111.47 563.4,111.47 563.9,113.1 564.4,112.17 564.9,112.55 565.4,112.28 565.9,112.53 566.4,116.07 566.9,111.9 567.4,112.57 567.9,112.79 568.4,114.65 568.9,112.96 569.4,113.12 569.9,116.38 570.4,116.11 570.9,114.41 571.4,115.03 571.9,114.8 572.4,115.55 572.9,113.25 573.4,117.28 573.9,116.96 574.4,116.59 574.9,116.65 575.4,115.48 575.9,114.63 576.4,116.72 576.9,115.06 577.4,113.82 577.9,114.27 578.4,113.59 578.9,114.17 579.4,115.77 579.9,113.94 580.4,115.02 580.9,113.76 581.4,115.41 581.9,117.36 582.4,117.13 582.9,115.53 583.4,114.78 583.9,115.88 584.4,114.14 584.9,116.78 585.4,117.04 585.9,115.21 586.4,116.48 586.9,115.89 587.4,113.7 587.9,113.96 588.4,115.81 588.9,114.94 589.4,116.84 589.9,114.77 590.4,113.75 590.9,115.87 591.4,112.57 591.9,112.14 592.4,114.11 592.9,113.27 593.4,113.21 593.9,114.78 594.4,113.15 594.9,114.01 595.4,116.2 595.9,115.3 596.4,114.05 596.9,112.39 597.4,113.69 597.9,113.24 598.4,114.44 598.9,115.47 599.4,112.6 599.9,111.73 600.4,114.11 600.9,115.04 601.4,114.13 601.9,116.9 602.4,115.57 602.9,116.67 603.4,114.65 603.9,114.75 604.4,115.17 604.9,115.45 605.4,116.41 605.9,115.58 606.4,113.11 606.9,114.59 607.4,113.02 607.9,115.62 608.4,114.67 608.9,114.88 609.4,114.53 609.9,113.38 610.4,116.41 610.9,113.74 611.4,113.98 611.9,114.9 612.4,114.78 612.9,114.82 613.4,113.99 613.9,114.7 614.4,115.93 614.9,114.74 615.4,113.95 615.9,114.29 616.4,114.32 616.9,113.82 617.4,114.41 617.9,114.52 618.4,115.92 618.9,114.59 619.4,113.3 619.9,115.19 620.4,115.6 620.9,114.24 621.4,115.6 621.9,115.64 622.4,115.37 622.9,115.35 623.4,116.16 623.9,115.95 624.4,112.91 624.9,114.42 625.4,116 625.9,114.67 626.4,113.23 626.9,116.03 627.4,113.03 627.9,113.97 628.4,111.51 628.9,113.35 629.4,114.8 629.9,112.74 630.4,112.12 630.9,113.81 631.4,112.93 631.9,113.65 632.4,111.94 632.9,114.85 633.4,113.44 633.9,115.6 634.4,112.46 634.9,116.18 635.4,114.87 635.9,113.32 636.4,114.51 636.9,115.04 637.4,115.73 637.9,114.97 638.4,116.15 638.9,114.05 639.4,113.39 639.9,113.72 640.4,114.51 640.9,113.11 641.4,113.28 641.9,111.88 642.4,112.21 642.9,112.87 643.4,114.33 643.9,116.42 644.4,112.85 644.9,112.99 645.4,110.65 645.9,115.03 646.4,112.39 646.9,114.59 647.4,114.14 647.9,114.76 648.4,113.37 648.9,113.77 649.4,112.69 649.9,113.75 650.4,113.36 650.9,112.08 651.4,112.73 651.9,113.88 652.4,112.44 652.9,114.23 653.4,113.42 653.9,114.22 654.4,114.6 654.9,116.99 655.4,112.7 655.9,115.08 656.4,113.26 656.9,111.97 657.4,115.11 657.9,112.47 658.4,113.81 658.9,113.23 659.4,115.32 659.9,114.19 660.4,114.09 660.9,112.85 661.4,111.88 661.9,113.99 662.4,114.88 662.9,111.51 663.4,113.49 663.9,113.2 664.4,112.66 664.9,112.15 665.4,112.06 665.9,113.12 666.4,112.84 666.9,110.47 667.4,110.69 667.9,112.77" fill="none" stroke="#1f6fc0" stroke-width="1.15" stroke-linejoin="round"/>
<polyline points="548.4,113.75 548.9,112.04 549.4,114.02 549.9,112.41 550.4,113.22 550.9,112.33 551.4,113.11 551.9,112.57 552.4,113.37 552.9,113.7 553.4,113.59 553.9,112.43 554.4,111.89 554.9,111.42 555.4,113.22 555.9,112.3 556.4,113.67 556.9,114.63 557.4,113.73 557.9,113 558.4,114.18 558.9,114.48 559.4,111.7 559.9,112.76 560.4,114 560.9,109.6 561.4,112.31 561.9,112.37 562.4,110.68 562.9,112.88 563.4,110.35 563.9,113.96 564.4,113.94 564.9,113.14 565.4,113.86 565.9,112.12 566.4,115.09 566.9,114.22 567.4,113.74 567.9,113.5 568.4,112.64 568.9,113.1 569.4,111.01 569.9,114.26 570.4,113.51 570.9,112.55 571.4,114.28 571.9,114.12 572.4,114.18 572.9,113.97 573.4,115.38 573.9,115.3 574.4,116.72 574.9,114.35 575.4,116.46 575.9,112.67 576.4,112.8 576.9,113.84 577.4,114.98 577.9,115.58 578.4,113.65 578.9,114.61 579.4,113.68 579.9,115.32 580.4,113.33 580.9,115.41 581.4,114.43 581.9,116.46 582.4,115.87 582.9,114.64 583.4,115.21 583.9,114.95 584.4,113.74 584.9,114.33 585.4,112.99 585.9,116.99 586.4,113.59 586.9,114 587.4,116.06 587.9,116.18 588.4,114.11 588.9,116.68 589.4,116.71 589.9,115.41 590.4,116.52 590.9,115.61 591.4,117.37 591.9,115.96 592.4,114.71 592.9,115.18 593.4,117.8 593.9,114.79 594.4,115.24 594.9,116.51 595.4,113.84 595.9,117.34 596.4,113.22 596.9,115.41 597.4,113.33 597.9,115.02 598.4,116.57 598.9,114.02 599.4,113.23 599.9,112.77 600.4,111.93 600.9,114.12 601.4,112.63 601.9,112.68 602.4,113.73 602.9,114.63 603.4,114.73 603.9,113.32 604.4,113.58 604.9,116.03 605.4,116.74 605.9,113.37 606.4,116.59 606.9,114.66 607.4,116.11 607.9,116.75 608.4,114.72 608.9,115.5 609.4,113.82 609.9,111.78 610.4,114.68 610.9,113.94 611.4,113.63 611.9,115.38 612.4,114.99 612.9,112.72 613.4,115.04 613.9,114.42 614.4,114.53 614.9,114.84 615.4,114.94 615.9,113.47 616.4,113.21 616.9,115.11 617.4,116.43 617.9,114.39 618.4,115.81 618.9,115.02 619.4,112.79 619.9,111.4 620.4,113.18 620.9,114.47 621.4,111.77 621.9,115.44 622.4,114.02 622.9,111.79 623.4,112.66 623.9,115.02 624.4,115.68 624.9,113.07 625.4,114.85 625.9,115.25 626.4,114.52 626.9,115.33 627.4,116.35 627.9,113 628.4,114.48 628.9,114.66 629.4,114.88 629.9,112.91 630.4,114.18 630.9,112.43 631.4,113.02 631.9,111.19 632.4,113.33 632.9,114.09 633.4,115.72 633.9,114.67 634.4,112.4 634.9,109.91 635.4,114.68 635.9,114.33 636.4,113.3 636.9,113.15 637.4,114.1 637.9,113.16 638.4,114.9 638.9,113.56 639.4,112.62 639.9,112.17 640.4,114.53 640.9,114.89 641.4,113.99 641.9,113.42 642.4,114.6 642.9,115.76 643.4,114.61 643.9,114.14 644.4,116.23 644.9,116.36 645.4,113.81 645.9,114.29 646.4,113.51 646.9,114.41 647.4,114.52 647.9,114.41 648.4,114.86 648.9,113.85 649.4,112.96 649.9,112.6 650.4,111.42 650.9,113.52 651.4,112.12 651.9,113.35 652.4,111.2 652.9,112.12 653.4,112.69 653.9,111.53 654.4,112.4 654.9,113.56 655.4,110.69 655.9,111.99 656.4,110.69 656.9,111 657.4,111.6 657.9,112.37 658.4,113.98 658.9,111.62 659.4,111.8 659.9,111.18 660.4,111.98 660.9,113.07 661.4,113.81 661.9,111.56 662.4,111.11 662.9,113.4 663.4,112.67 663.9,111.93 664.4,115.12 664.9,114.33 665.4,114.86 665.9,111.72 666.4,112.37 666.9,113.1 667.4,114.48 667.9,112.43" fill="none" stroke="#3fb8ec" stroke-width="1.15" stroke-linejoin="round"/>
<polyline points="548.4,113.95 548.9,113.31 549.4,111.62 549.9,112.15 550.4,113.18 550.9,112.02 551.4,112.05 551.9,113.17 552.4,112.35 552.9,111.59 553.4,112.66 553.9,112.93 554.4,113.29 554.9,112.43 555.4,113.17 555.9,112.17 556.4,113.62 556.9,112.23 557.4,112.91 557.9,115.83 558.4,113.04 558.9,114.74 559.4,112.82 559.9,113.41 560.4,113.74 560.9,112.9 561.4,113.82 561.9,112.09 562.4,112 562.9,112.74 563.4,112.88 563.9,114.16 564.4,112.66 564.9,114.29 565.4,112.72 565.9,112.76 566.4,112.39 566.9,113.84 567.4,110.44 567.9,113.44 568.4,112.78 568.9,113.92 569.4,111.76 569.9,114.31 570.4,112.87 570.9,115.64 571.4,114.49 571.9,115.6 572.4,114.22 572.9,115.89 573.4,116.03 573.9,114.61 574.4,116.38 574.9,115.72 575.4,114.08 575.9,116.38 576.4,113.94 576.9,115.26 577.4,115.46 577.9,114.16 578.4,114.47 578.9,115.89 579.4,115.4 579.9,114.89 580.4,114.81 580.9,115.8 581.4,116.61 581.9,116.76 582.4,116.81 582.9,115.54 583.4,115.54 583.9,116.01 584.4,115.04 584.9,116.82 585.4,116.93 585.9,116.74 586.4,114.23 586.9,118.56 587.4,115.56 587.9,115.28 588.4,115.6 588.9,112.81 589.4,113.8 589.9,114.15 590.4,115.82 590.9,113.79 591.4,114.41 591.9,113.54 592.4,113.76 592.9,114.52 593.4,112.86 593.9,111.91 594.4,112.35 594.9,112.85 595.4,114.95 595.9,112.02 596.4,112.17 596.9,113.6 597.4,113.93 597.9,112.27 598.4,114.22 598.9,112.59 599.4,114.47 599.9,114.67 600.4,113.82 600.9,115.86 601.4,114.37 601.9,113.99 602.4,115.66 602.9,113.9 603.4,115.65 603.9,114.56 604.4,115.22 604.9,115.92 605.4,115.77 605.9,116.69 606.4,115.59 606.9,115.83 607.4,113.28 607.9,114.18 608.4,116.51 608.9,114.14 609.4,114.84 609.9,115.53 610.4,114.99 610.9,114.33 611.4,115.84 611.9,115.3 612.4,114.73 612.9,115.56 613.4,114.13 613.9,114.68 614.4,115.41 614.9,114.66 615.4,113.3 615.9,113.19 616.4,113.66 616.9,114.65 617.4,113.41 617.9,114.04 618.4,113.82 618.9,112.79 619.4,114.69 619.9,114.71 620.4,115.36 620.9,116.11 621.4,112.87 621.9,114.53 622.4,117.21 622.9,114.57 623.4,115.69 623.9,113.88 624.4,115.08 624.9,115.08 625.4,114.54 625.9,113.85 626.4,114.13 626.9,114.12 627.4,114.23 627.9,113.96 628.4,115.48 628.9,114.64 629.4,114.54 629.9,114.9 630.4,113.13 630.9,115.31 631.4,114.46 631.9,115.27 632.4,113.56 632.9,114.54 633.4,114 633.9,113.4 634.4,115.69 634.9,113.79 635.4,115.61 635.9,114.87 636.4,114.72 636.9,113.22 637.4,112.98 637.9,111.63 638.4,113.79 638.9,114.58 639.4,114.61 639.9,113.36 640.4,112 640.9,113.25 641.4,114.36 641.9,113.55 642.4,113.49 642.9,114.05 643.4,114.55 643.9,116.16 644.4,113.85 644.9,111.68 645.4,112.72 645.9,115.31 646.4,113 646.9,115.22 647.4,111.34 647.9,113.76 648.4,115.1 648.9,112.9 649.4,114.68 649.9,113.57 650.4,113.98 650.9,115.44 651.4,113.09 651.9,114.57 652.4,111.49 652.9,112.09 653.4,113.24 653.9,114.23 654.4,110.45 654.9,110.55 655.4,113.47 655.9,110.64 656.4,112.5 656.9,113.24 657.4,113.41 657.9,113.82 658.4,112.21 658.9,113.55 659.4,115.58 659.9,110.97 660.4,112.4 660.9,114.34 661.4,113.41 661.9,114.01 662.4,112.47 662.9,112.51 663.4,112.44 663.9,113.82 664.4,114.06 664.9,112.46 665.4,113.48 665.9,110.54 666.4,113.84 666.9,112.34 667.4,113.36 667.9,113.51" fill="none" stroke="#2fb574" stroke-width="1.15" stroke-linejoin="round"/>
<polyline points="548.4,113.95 548.9,113.58 549.4,113.88 549.9,116.25 550.4,113.6 550.9,114.78 551.4,113.57 551.9,113.05 552.4,112.05 552.9,112.97 553.4,113.08 553.9,115.79 554.4,114.27 554.9,116.06 555.4,113.44 555.9,115.79 556.4,114.16 556.9,114.46 557.4,114.01 557.9,113.27 558.4,114.15 558.9,113.33 559.4,114.7 559.9,111.68 560.4,114.09 560.9,111.84 561.4,110.57 561.9,116.32 562.4,114.77 562.9,114.2 563.4,112.48 563.9,114.19 564.4,113.51 564.9,114.47 565.4,113.34 565.9,115.56 566.4,113.82 566.9,117.72 567.4,116.6 567.9,112.5 568.4,114.8 568.9,116.32 569.4,113.16 569.9,114.67 570.4,114.49 570.9,115.91 571.4,114.54 571.9,115.16 572.4,117.67 572.9,115.51 573.4,115.92 573.9,113.99 574.4,113.92 574.9,116.17 575.4,116.45 575.9,116.4 576.4,116.11 576.9,116.98 577.4,117 577.9,115.89 578.4,116.29 578.9,115.69 579.4,116.4 579.9,117.61 580.4,118.37 580.9,114.99 581.4,116.03 581.9,116.25 582.4,115.56 582.9,116.83 583.4,115.64 583.9,118.43 584.4,115.45 584.9,116 585.4,112.63 585.9,113.8 586.4,114.45 586.9,113.73 587.4,113.22 587.9,115.31 588.4,114.48 588.9,114.82 589.4,112.38 589.9,115.15 590.4,118.02 590.9,114.85 591.4,113.29 591.9,117.09 592.4,112.33 592.9,116.04 593.4,115.13 593.9,115.95 594.4,115.46 594.9,116.24 595.4,115.48 595.9,116.98 596.4,112.91 596.9,115.8 597.4,113.78 597.9,113.84 598.4,114.82 598.9,114.9 599.4,115.36 599.9,116.08 600.4,115.73 600.9,115.8 601.4,117.08 601.9,117.56 602.4,117.39 602.9,116.47 603.4,115.04 603.9,114.66 604.4,115.65 604.9,115.3 605.4,116.6 605.9,115.38 606.4,116.56 606.9,116.03 607.4,116 607.9,115.16 608.4,112.74 608.9,116.03 609.4,114.86 609.9,115.06 610.4,112.92 610.9,112.24 611.4,114.7 611.9,117.15 612.4,113.44 612.9,113.9 613.4,116.43 613.9,115 614.4,114.56 614.9,117.46 615.4,113.61 615.9,113.73 616.4,113.91 616.9,115.79 617.4,115.7 617.9,115.59 618.4,114.86 618.9,116.13 619.4,113.6 619.9,115.2 620.4,118.93 620.9,115.02 621.4,116.87 621.9,117.37 622.4,117.01 622.9,119.2 623.4,116.93 623.9,120.17 624.4,118.29 624.9,114.99 625.4,114.24 625.9,115.09 626.4,115.43 626.9,113.63 627.4,114.71 627.9,114.55 628.4,114.03 628.9,115.87 629.4,113.77 629.9,117.24 630.4,113.26 630.9,116.76 631.4,115.99 631.9,115.62 632.4,113.57 632.9,113.33 633.4,113.81 633.9,113.79 634.4,113.99 634.9,114.76 635.4,116.93 635.9,117.83 636.4,117.42 636.9,115.15 637.4,115.38 637.9,115.16 638.4,114.26 638.9,114.85 639.4,115.64 639.9,115.84 640.4,116.52 640.9,113.13 641.4,113.76 641.9,116.02 642.4,114.87 642.9,114.21 643.4,112.89 643.9,115.64 644.4,114.67 644.9,113.68 645.4,117.39 645.9,115.48 646.4,114.49 646.9,115.77 647.4,111.89 647.9,113.13 648.4,113.5 648.9,115.2 649.4,112.55 649.9,112.88 650.4,114.33 650.9,114.39 651.4,115.83 651.9,114.17 652.4,113.38 652.9,113.75 653.4,114.45 653.9,113.92 654.4,116.07 654.9,115.59 655.4,113.05 655.9,114.28 656.4,115.93 656.9,114.12 657.4,113.4 657.9,113.22 658.4,114.31 658.9,114.79 659.4,113.58 659.9,112.32 660.4,113.71 660.9,114.82 661.4,113.31 661.9,115.61 662.4,114.12 662.9,114.48 663.4,112.43 663.9,113.96 664.4,112.61 664.9,110.87 665.4,114.45 665.9,114.33 666.4,112.78 666.9,113.22 667.4,112.76 667.9,114.22" fill="none" stroke="#4a9a35" stroke-width="1.15" stroke-linejoin="round"/>
<polyline points="548.4,114.21 548.9,112.92 549.4,113.34 549.9,110.85 550.4,113.91 550.9,111.16 551.4,111.64 551.9,114.04 552.4,114.13 552.9,111.85 553.4,113.3 553.9,112.57 554.4,113.42 554.9,114.39 555.4,113.13 555.9,113.93 556.4,114.85 556.9,113.68 557.4,111.56 557.9,111.45 558.4,113.26 558.9,113.44 559.4,112.55 559.9,111.77 560.4,113.33 560.9,113.76 561.4,113.36 561.9,111.69 562.4,109.6 562.9,113.05 563.4,114.76 563.9,111.37 564.4,113.13 564.9,113.37 565.4,111.87 565.9,113.58 566.4,115.63 566.9,115.93 567.4,114.24 567.9,115.91 568.4,114.61 568.9,116.62 569.4,114.77 569.9,116.15 570.4,115.13 570.9,115.31 571.4,114.42 571.9,114.03 572.4,116.18 572.9,116.81 573.4,113.3 573.9,115.15 574.4,115.15 574.9,114.63 575.4,113.74 575.9,113.98 576.4,114.26 576.9,114.25 577.4,115.53 577.9,115.34 578.4,115.28 578.9,114.96 579.4,114.91 579.9,114.89 580.4,115.49 580.9,116.1 581.4,117.12 581.9,114.53 582.4,114.88 582.9,116.22 583.4,114.62 583.9,114.36 584.4,114.76 584.9,116.55 585.4,115.45 585.9,114.27 586.4,111.65 586.9,114.37 587.4,113.86 587.9,114.79 588.4,114.24 588.9,113.89 589.4,116.78 589.9,117.79 590.4,114.25 590.9,115.39 591.4,116.66 591.9,114.57 592.4,114.62 592.9,117.94 593.4,116.18 593.9,114.44 594.4,116.82 594.9,116.58 595.4,114.91 595.9,116.55 596.4,117.3 596.9,117.39 597.4,118.17 597.9,116.08 598.4,117.93 598.9,115.31 599.4,117.81 599.9,115.64 600.4,117.59 600.9,116.33 601.4,114.31 601.9,113.88 602.4,113.3 602.9,114.87 603.4,114.46 603.9,114.39 604.4,113.88 604.9,115.03 605.4,113.24 605.9,113.86 606.4,113.53 606.9,114.1 607.4,114.22 607.9,115.63 608.4,115.61 608.9,116.74 609.4,115.81 609.9,115.76 610.4,114.76 610.9,116.88 611.4,111.57 611.9,115.12 612.4,113.64 612.9,114.13 613.4,117.88 613.9,115.34 614.4,113.21 614.9,117.55 615.4,113.85 615.9,116.01 616.4,115.82 616.9,115.16 617.4,117.61 617.9,115.47 618.4,116.32 618.9,116.27 619.4,115.16 619.9,111.78 620.4,115.41 620.9,115.95 621.4,116.4 621.9,117 622.4,115.53 622.9,113.43 623.4,115.26 623.9,114.17 624.4,115.18 624.9,112.23 625.4,116.45 625.9,113.01 626.4,113 626.9,113.94 627.4,115.66 627.9,116.34 628.4,115.1 628.9,115 629.4,116.18 629.9,116.26 630.4,114.31 630.9,114.13 631.4,115.94 631.9,115.07 632.4,114.96 632.9,111.19 633.4,113.49 633.9,113.73 634.4,112.37 634.9,111.1 635.4,112.74 635.9,115.91 636.4,113.97 636.9,114.89 637.4,114.95 637.9,115.6 638.4,114.67 638.9,115.93 639.4,114.11 639.9,114.06 640.4,116.16 640.9,115.7 641.4,114.35 641.9,112.78 642.4,112.72 642.9,113.7 643.4,117.32 643.9,113.39 644.4,113.84 644.9,112.95 645.4,113.74 645.9,112.9 646.4,113.28 646.9,109.96 647.4,112.75 647.9,113.74 648.4,113.74 648.9,114.12 649.4,113.98 649.9,115.02 650.4,114.41 650.9,113.38 651.4,113.67 651.9,113.82 652.4,112.27 652.9,113.32 653.4,114.83 653.9,115.63 654.4,114.45 654.9,113.32 655.4,112.74 655.9,111.89 656.4,114.1 656.9,114.54 657.4,112.64 657.9,112.2 658.4,114.15 658.9,113.62 659.4,112.26 659.9,113.81 660.4,114.11 660.9,116.25 661.4,112.14 661.9,113.29 662.4,113.95 662.9,115.04 663.4,116.08 663.9,114.24 664.4,114.11 664.9,112.85 665.4,115.81 665.9,112.97 666.4,114.93 666.9,113.01 667.4,115.57 667.9,113.19" fill="none" stroke="#f2b01e" stroke-width="1.15" stroke-linejoin="round"/>
<polyline points="548.4,116.54 548.9,114.72 549.4,114.76 549.9,113.04 550.4,113.94 550.9,115.25 551.4,113.55 551.9,115.61 552.4,116.22 552.9,112.32 553.4,114.63 553.9,114.33 554.4,114.2 554.9,112.7 555.4,114.58 555.9,113.73 556.4,116.39 556.9,116.83 557.4,113.79 557.9,113.25 558.4,114 558.9,114 559.4,113.81 559.9,114.95 560.4,112.17 560.9,113.13 561.4,113.21 561.9,112.87 562.4,112.23 562.9,113.35 563.4,113.73 563.9,115.7 564.4,114.25 564.9,112.47 565.4,115.92 565.9,115.37 566.4,114.35 566.9,114.72 567.4,114.71 567.9,116.69 568.4,114.07 568.9,116.44 569.4,116.27 569.9,114.7 570.4,115.59 570.9,114.43 571.4,112.17 571.9,114.48 572.4,115.02 572.9,116.85 573.4,116.72 573.9,116.59 574.4,116.07 574.9,117.2 575.4,117.03 575.9,117.09 576.4,117.92 576.9,118.31 577.4,117.84 577.9,116.14 578.4,116.84 578.9,116.09 579.4,116.12 579.9,117.01 580.4,115.61 580.9,117.7 581.4,113.51 581.9,115.47 582.4,117.52 582.9,118.9 583.4,116.9 583.9,119.33 584.4,118.17 584.9,116.92 585.4,117.37 585.9,118.32 586.4,116.85 586.9,118.62 587.4,117.14 587.9,117.83 588.4,118.17 588.9,116.34 589.4,118.15 589.9,114.86 590.4,117.94 590.9,114.88 591.4,118.1 591.9,116.22 592.4,117.81 592.9,117.95 593.4,116.42 593.9,116.23 594.4,117.93 594.9,115.23 595.4,117.18 595.9,116.11 596.4,115.73 596.9,115.41 597.4,118.51 597.9,114.78 598.4,116.15 598.9,117.18 599.4,118.02 599.9,118.96 600.4,118.75 600.9,116.49 601.4,117.91 601.9,118.38 602.4,117.45 602.9,114.94 603.4,116.56 603.9,116.86 604.4,114.66 604.9,114.89 605.4,115.64 605.9,116.5 606.4,116.95 606.9,117.15 607.4,116.39 607.9,115.98 608.4,115.01 608.9,115 609.4,115.23 609.9,115.58 610.4,116.68 610.9,118.21 611.4,116.47 611.9,116.67 612.4,116.2 612.9,115.59 613.4,116.99 613.9,116.53 614.4,115.3 614.9,115.45 615.4,116.36 615.9,114.72 616.4,115.7 616.9,116.6 617.4,115.68 617.9,113.5 618.4,116.11 618.9,114.2 619.4,113.93 619.9,113.59 620.4,115.88 620.9,112.61 621.4,114.63 621.9,115.12 622.4,114.86 622.9,114.49 623.4,115.44 623.9,115.76 624.4,114.06 624.9,116.24 625.4,116.63 625.9,114.64 626.4,114.51 626.9,114.22 627.4,116.56 627.9,113.91 628.4,114.69 628.9,113.04 629.4,116.37 629.9,115.18 630.4,115.91 630.9,117.73 631.4,116.68 631.9,114.8 632.4,116.98 632.9,117.59 633.4,115.43 633.9,115.59 634.4,115.77 634.9,117.44 635.4,117.08 635.9,115.55 636.4,117.6 636.9,117.28 637.4,115.01 637.9,113.85 638.4,117.33 638.9,118.76 639.4,117.38 639.9,116.3 640.4,114.79 640.9,113.78 641.4,114.94 641.9,115.69 642.4,114.58 642.9,116.02 643.4,115.16 643.9,115.77 644.4,112.1 644.9,114.22 645.4,116.74 645.9,116.87 646.4,115.9 646.9,117.37 647.4,116.78 647.9,116.42 648.4,113.94 648.9,115.63 649.4,116.3 649.9,117.15 650.4,116.05 650.9,114.91 651.4,115.74 651.9,113.57 652.4,115.5 652.9,113.36 653.4,114.66 653.9,114.82 654.4,116.88 654.9,115.91 655.4,113.55 655.9,113.19 656.4,114.26 656.9,113.53 657.4,114.91 657.9,115.42 658.4,115.74 658.9,113.75 659.4,114.39 659.9,115.49 660.4,115.99 660.9,114.55 661.4,114.51 661.9,116.44 662.4,113.43 662.9,114.84 663.4,114.81 663.9,112.96 664.4,113.48 664.9,114.53 665.4,113.62 665.9,115.13 666.4,114.57 666.9,115.86 667.4,111.37 667.9,115" fill="none" stroke="#a6a6a6" stroke-width="1.15" stroke-linejoin="round"/>
<polyline points="548.4,114.7 548.9,114.49 549.4,116.27 549.9,114.8 550.4,114.32 550.9,115.08 551.4,114.7 551.9,112.5 552.4,114.91 552.9,113.37 553.4,114.86 553.9,114.18 554.4,115.73 554.9,114.19 555.4,112.76 555.9,112.22 556.4,113.37 556.9,113.82 557.4,113.88 557.9,114.88 558.4,114.28 558.9,113.46 559.4,115.42 559.9,113.45 560.4,115.1 560.9,116.08 561.4,115.49 561.9,116.29 562.4,116.65 562.9,114.58 563.4,115.86 563.9,115.88 564.4,115 564.9,114.97 565.4,117.64 565.9,115.8 566.4,116.78 566.9,116.79 567.4,116.03 567.9,117.54 568.4,117.48 568.9,116.67 569.4,116.11 569.9,117.02 570.4,116.85 570.9,115.71 571.4,115.56 571.9,117.17 572.4,117.36 572.9,119.49 573.4,119.62 573.9,119.46 574.4,120.22 574.9,121.02 575.4,118.83 575.9,120.92 576.4,121.95 576.9,120.47 577.4,118.94 577.9,121.06 578.4,119.97 578.9,121.48 579.4,121.68 579.9,122.02 580.4,121.48 580.9,119.61 581.4,122.81 581.9,119.56 582.4,122.95 582.9,122.29 583.4,120.3 583.9,120.4 584.4,120.26 584.9,122.08 585.4,120.14 585.9,121.78 586.4,117.77 586.9,120.83 587.4,120.01 587.9,121.48 588.4,121.06 588.9,122.47 589.4,120.3 589.9,121.3 590.4,119.5 590.9,120.5 591.4,119.9 591.9,118.08 592.4,120.43 592.9,121.6 593.4,118.85 593.9,120.12 594.4,118.61 594.9,117.22 595.4,119.4 595.9,117.71 596.4,119.35 596.9,116.75 597.4,116.63 597.9,118.46 598.4,118.02 598.9,118.26 599.4,117.58 599.9,116.42 600.4,119.22 600.9,115.99 601.4,118.77 601.9,117.8 602.4,118.84 602.9,114.15 603.4,116.71 603.9,117.23 604.4,118.29 604.9,116.14 605.4,119.7 605.9,117.68 606.4,115.18 606.9,118.85 607.4,118.4 607.9,117.41 608.4,118.82 608.9,117.5 609.4,116.08 609.9,116.74 610.4,116.68 610.9,117.15 611.4,116.79 611.9,117.06 612.4,115.29 612.9,116.2 613.4,117.38 613.9,119.81 614.4,116.49 614.9,116.66 615.4,118.08 615.9,119.49 616.4,118.53 616.9,115.51 617.4,117.74 617.9,116.92 618.4,116.14 618.9,114.38 619.4,115.7 619.9,115.84 620.4,117.09 620.9,114.69 621.4,115.11 621.9,116.69 622.4,118.21 622.9,117.81 623.4,115.92 623.9,118.1 624.4,116.36 624.9,117.01 625.4,116.95 625.9,116.29 626.4,116.17 626.9,117.76 627.4,116.81 627.9,113.59 628.4,117.92 628.9,117.05 629.4,115.54 629.9,117.11 630.4,117.64 630.9,118.43 631.4,116.27 631.9,116.14 632.4,116.33 632.9,118.26 633.4,116.89 633.9,119.17 634.4,117.54 634.9,118.59 635.4,117.34 635.9,116.66 636.4,116.39 636.9,118.67 637.4,115.58 637.9,117.1 638.4,117.88 638.9,116.5 639.4,117.91 639.9,116.01 640.4,115.71 640.9,116.08 641.4,115.31 641.9,115.84 642.4,115.81 642.9,117.39 643.4,115.59 643.9,116.86 644.4,115.95 644.9,115.81 645.4,115.67 645.9,117.51 646.4,117.43 646.9,116.31 647.4,114.99 647.9,115.14 648.4,114.96 648.9,114.31 649.4,115.84 649.9,116.38 650.4,117.52 650.9,117.86 651.4,117.44 651.9,116.31 652.4,116.85 652.9,117.19 653.4,117.11 653.9,116.19 654.4,116.54 654.9,116.42 655.4,116.64 655.9,117.57 656.4,117.56 656.9,115.51 657.4,115.51 657.9,116.05 658.4,116.5 658.9,113.28 659.4,116.8 659.9,115.7 660.4,114.71 660.9,116.36 661.4,115.11 661.9,113.54 662.4,114.41 662.9,114.72 663.4,113.64 663.9,114.25 664.4,113.14 664.9,114.8 665.4,115.01 665.9,114.66 666.4,113.94 666.9,114.3 667.4,114.12 667.9,117.17" fill="none" stroke="#b0b0b0" stroke-width="1.15" stroke-linejoin="round"/>
<polyline points="548.4,112.27 548.9,110.86 549.4,112.55 549.9,112.36 550.4,110.87 550.9,112.1 551.4,111.5 551.9,112.22 552.4,111.52 552.9,113.58 553.4,113.37 553.9,114.15 554.4,109.84 554.9,111.99 555.4,112.08 555.9,112.56 556.4,113.39 556.9,115.37 557.4,109.59 557.9,112.41 558.4,111.57 558.9,113.71 559.4,111.96 559.9,111.31 560.4,112 560.9,111.11 561.4,112.87 561.9,111.93 562.4,111.52 562.9,112.56 563.4,112.79 563.9,112.58 564.4,114.31 564.9,112.38 565.4,112.9 565.9,113.27 566.4,111 566.9,114 567.4,112.86 567.9,111.21 568.4,110.86 568.9,112.99 569.4,112.65 569.9,112.29 570.4,113.17 570.9,114.23 571.4,113.32 571.9,113.21 572.4,113.1 572.9,111.98 573.4,113.57 573.9,114.37 574.4,113.48 574.9,111.84 575.4,115.23 575.9,114.72 576.4,115.67 576.9,114.67 577.4,116.94 577.9,115.01 578.4,114.24 578.9,115.45 579.4,115.31 579.9,115.69 580.4,113.82 580.9,114.87 581.4,114.09 581.9,113.77 582.4,113.96 582.9,112.56 583.4,112.22 583.9,116.73 584.4,115.46 584.9,114.69 585.4,116.25 585.9,116.27 586.4,115.43 586.9,114.44 587.4,115 587.9,116.33 588.4,115.67 588.9,116.35 589.4,116.62 589.9,117.62 590.4,117.88 590.9,116.14 591.4,114.72 591.9,115.2 592.4,117.61 592.9,115.97 593.4,116.31 593.9,115.22 594.4,116.36 594.9,114.22 595.4,116.04 595.9,114.42 596.4,114.34 596.9,116.89 597.4,115.35 597.9,113.21 598.4,114.7 598.9,113.84 599.4,114.52 599.9,115.37 600.4,114.05 600.9,113.72 601.4,113.25 601.9,113.46 602.4,116.41 602.9,114.28 603.4,116.87 603.9,115.02 604.4,114.7 604.9,113.84 605.4,114.16 605.9,113.15 606.4,115.45 606.9,113.3 607.4,113.75 607.9,114.16 608.4,115.13 608.9,113.44 609.4,114.05 609.9,113.47 610.4,114.4 610.9,114.67 611.4,113.67 611.9,113.25 612.4,113.19 612.9,111.98 613.4,114.98 613.9,111.62 614.4,117.39 614.9,113.24 615.4,115.32 615.9,111.53 616.4,114.53 616.9,113.02 617.4,114.8 617.9,114.86 618.4,112.66 618.9,112.64 619.4,113.93 619.9,110.17 620.4,112.71 620.9,111.09 621.4,114.03 621.9,113.96 622.4,112.91 622.9,113.91 623.4,112.7 623.9,115.13 624.4,112.78 624.9,113.82 625.4,114.5 625.9,113.37 626.4,113.82 626.9,113.86 627.4,112.48 627.9,112.83 628.4,112.58 628.9,111.81 629.4,113.47 629.9,112.57 630.4,114.5 630.9,113.32 631.4,113.53 631.9,114.7 632.4,115.51 632.9,115.83 633.4,115.4 633.9,114.21 634.4,115.06 634.9,114.32 635.4,112.85 635.9,112.51 636.4,111.28 636.9,113.23 637.4,111.82 637.9,111 638.4,112.99 638.9,111.5 639.4,112.71 639.9,112.36 640.4,112.19 640.9,114.64 641.4,113.98 641.9,114.33 642.4,113.41 642.9,114.26 643.4,113.15 643.9,114.19 644.4,113.75 644.9,112.79 645.4,112.77 645.9,112.59 646.4,113.06 646.9,111.9 647.4,111.64 647.9,114.22 648.4,114.34 648.9,115.17 649.4,111.86 649.9,114.58 650.4,115.21 650.9,113.33 651.4,112.4 651.9,115.03 652.4,113.17 652.9,114.15 653.4,113.31 653.9,110.26 654.4,111.79 654.9,112.47 655.4,111.82 655.9,111.75 656.4,111.73 656.9,113.22 657.4,113.48 657.9,110.07 658.4,113.44 658.9,111.44 659.4,113.82 659.9,111.64 660.4,112.61 660.9,113.54 661.4,111.59 661.9,114.65 662.4,114.55 662.9,115.43 663.4,115.07 663.9,114.49 664.4,115.06 664.9,114.26 665.4,111.76 665.9,116 666.4,114.86 666.9,114.35 667.4,113.31 667.9,111.1" fill="none" stroke="#e0161c" stroke-width="1.15" stroke-linejoin="round"/>
<polyline points="548.4,114.22 548.9,112.38 549.4,113.51 549.9,110.18 550.4,112.45 550.9,112.11 551.4,111.21 551.9,111.33 552.4,110.94 552.9,109.25 553.4,110.55 553.9,109.78 554.4,109.16 554.9,111.61 555.4,108.94 555.9,110.27 556.4,110.06 556.9,112.1 557.4,110.68 557.9,111.56 558.4,112.53 558.9,109.83 559.4,112.08 559.9,112.93 560.4,112.19 560.9,111.05 561.4,110.76 561.9,111.54 562.4,110.91 562.9,110.47 563.4,113.5 563.9,112.85 564.4,113.45 564.9,112.45 565.4,111.17 565.9,112.5 566.4,114.48 566.9,113.8 567.4,112.32 567.9,114.29 568.4,113.9 568.9,112.85 569.4,115.23 569.9,112.41 570.4,113.28 570.9,112.76 571.4,114.67 571.9,114.2 572.4,113.95 572.9,112.92 573.4,112.99 573.9,113.27 574.4,111.51 574.9,112.07 575.4,114.14 575.9,114.47 576.4,111.69 576.9,114.19 577.4,112.39 577.9,112.14 578.4,115.01 578.9,114.89 579.4,114.67 579.9,115.83 580.4,115.76 580.9,115.41 581.4,114.13 581.9,115.93 582.4,115.91 582.9,116.18 583.4,117.33 583.9,114.44 584.4,118.53 584.9,116.67 585.4,115.58 585.9,117.56 586.4,114.96 586.9,113.85 587.4,116.13 587.9,114.52 588.4,115.41 588.9,113.32 589.4,113.57 589.9,113.4 590.4,111.97 590.9,112.74 591.4,112.37 591.9,112.91 592.4,114.72 592.9,113.61 593.4,113.6 593.9,115.47 594.4,112.67 594.9,114.07 595.4,113.71 595.9,115.12 596.4,114.12 596.9,113.91 597.4,114.44 597.9,113.6 598.4,115.57 598.9,111.8 599.4,114.32 599.9,115.19 600.4,114 600.9,113.54 601.4,111.36 601.9,112.94 602.4,111.42 602.9,112.8 603.4,109.74 603.9,111.43 604.4,109.93 604.9,113.46 605.4,111.49 605.9,113.36 606.4,111.86 606.9,112.02 607.4,114.81 607.9,114.31 608.4,114.31 608.9,114.98 609.4,114.24 609.9,114.68 610.4,115.18 610.9,113.5 611.4,112.73 611.9,114.44 612.4,113.48 612.9,112.75 613.4,112.61 613.9,113.12 614.4,111.2 614.9,110.97 615.4,111.24 615.9,112.51 616.4,110.49 616.9,111.04 617.4,113.88 617.9,113.67 618.4,112.45 618.9,114.59 619.4,113.29 619.9,113.6 620.4,114.53 620.9,113.92 621.4,115.63 621.9,114.84 622.4,116.61 622.9,111.55 623.4,112.77 623.9,113 624.4,113.82 624.9,113.25 625.4,112.49 625.9,112.4 626.4,112 626.9,113.18 627.4,111.15 627.9,112.67 628.4,112.94 628.9,113.06 629.4,111.8 629.9,111.23 630.4,113.84 630.9,110.74 631.4,111.23 631.9,113.91 632.4,114.08 632.9,113.53 633.4,112.49 633.9,114.18 634.4,115.02 634.9,113.24 635.4,116.37 635.9,113.33 636.4,111.94 636.9,112.42 637.4,111.79 637.9,112.08 638.4,111.97 638.9,112.39 639.4,113.63 639.9,112.84 640.4,112.39 640.9,111.18 641.4,110.73 641.9,112.52 642.4,114.22 642.9,114.25 643.4,113.43 643.9,111.37 644.4,111.77 644.9,112.29 645.4,113.48 645.9,111.65 646.4,112.6 646.9,113.15 647.4,112.67 647.9,110.66 648.4,112.63 648.9,110.94 649.4,111.84 649.9,113.4 650.4,112.17 650.9,113.49 651.4,114.28 651.9,113.46 652.4,114.31 652.9,112.93 653.4,113.9 653.9,112.67 654.4,112.28 654.9,116.47 655.4,112.23 655.9,114.5 656.4,112.03 656.9,113.14 657.4,111.64 657.9,109.85 658.4,113.01 658.9,111.17 659.4,111.46 659.9,113.39 660.4,111.21 660.9,111.91 661.4,112.72 661.9,113.01 662.4,109 662.9,113.16 663.4,115.01 663.9,113.97 664.4,113.45 664.9,114 665.4,113.31 665.9,114.76 666.4,112.98 666.9,114.17 667.4,114.8 667.9,114.27" fill="none" stroke="#e3262a" stroke-width="1.15" stroke-linejoin="round"/>
<polyline points="548.4,113.26 548.9,114.34 549.4,112.69 549.9,113.71 550.4,112.25 550.9,113.47 551.4,113.94 551.9,113.04 552.4,111.83 552.9,115.04 553.4,112.76 553.9,112.97 554.4,115.04 554.9,114.07 555.4,112.5 555.9,114.19 556.4,113.64 556.9,110.82 557.4,113.52 557.9,113.52 558.4,114.71 558.9,113.22 559.4,113.29 559.9,110.22 560.4,110.8 560.9,113.76 561.4,110.2 561.9,111.39 562.4,112.58 562.9,111.72 563.4,112.1 563.9,112.67 564.4,113.85 564.9,113.45 565.4,112.69 565.9,113.2 566.4,114.1 566.9,112.73 567.4,114.82 567.9,112.48 568.4,113.92 568.9,113.74 569.4,115.07 569.9,113.41 570.4,114.28 570.9,115.26 571.4,113.45 571.9,113.03 572.4,112.1 572.9,113.02 573.4,114.84 573.9,114.61 574.4,116.52 574.9,115.16 575.4,112.47 575.9,112.13 576.4,113.05 576.9,113.92 577.4,114.25 577.9,113.93 578.4,116.01 578.9,114.98 579.4,112.61 579.9,112.41 580.4,113.27 580.9,114.32 581.4,114.16 581.9,114.79 582.4,115.02 582.9,116.76 583.4,114.83 583.9,115.56 584.4,115.74 584.9,114.14 585.4,115.49 585.9,116.59 586.4,115.19 586.9,117.46 587.4,114.6 587.9,115.01 588.4,115.44 588.9,114.99 589.4,113.88 589.9,115.84 590.4,116.66 590.9,113.08 591.4,115.49 591.9,113.42 592.4,115.7 592.9,114.22 593.4,115.44 593.9,113.83 594.4,114.6 594.9,115.17 595.4,112.47 595.9,114.39 596.4,116.74 596.9,114.69 597.4,115.66 597.9,116.16 598.4,115.43 598.9,115.22 599.4,115.07 599.9,116.21 600.4,117.53 600.9,115.9 601.4,114.29 601.9,116.57 602.4,114.23 602.9,115.01 603.4,116.04 603.9,115.37 604.4,116.22 604.9,115.44 605.4,116.09 605.9,114.09 606.4,112.96 606.9,115.05 607.4,112.93 607.9,116.13 608.4,114.69 608.9,114.82 609.4,111.54 609.9,114.06 610.4,112.4 610.9,115.48 611.4,113.31 611.9,113.38 612.4,113.56 612.9,116.51 613.4,113.15 613.9,112.01 614.4,111.42 614.9,112.57 615.4,114.81 615.9,113.28 616.4,111.85 616.9,113.6 617.4,111.9 617.9,113.33 618.4,112.62 618.9,111.97 619.4,113.95 619.9,109.67 620.4,112.86 620.9,112.65 621.4,114 621.9,113.19 622.4,113.81 622.9,114.94 623.4,114.91 623.9,113.22 624.4,113.51 624.9,116.74 625.4,116.14 625.9,113.69 626.4,113.35 626.9,112.45 627.4,114.55 627.9,112.38 628.4,113.21 628.9,113.53 629.4,113.09 629.9,111.72 630.4,112.39 630.9,112.24 631.4,114.33 631.9,114.29 632.4,115.7 632.9,115.26 633.4,115.07 633.9,114.89 634.4,113.84 634.9,114.49 635.4,113.98 635.9,114.77 636.4,113.39 636.9,114.31 637.4,113.29 637.9,114.23 638.4,114.31 638.9,115.39 639.4,117.06 639.9,116.62 640.4,112.51 640.9,114.18 641.4,114.06 641.9,114.66 642.4,114.59 642.9,110.48 643.4,114.7 643.9,113.09 644.4,112.87 644.9,114.16 645.4,114 645.9,113.46 646.4,112.88 646.9,112.85 647.4,111.69 647.9,114.31 648.4,112.6 648.9,111.49 649.4,111.68 649.9,114.44 650.4,117.13 650.9,112.42 651.4,113.12 651.9,114.4 652.4,112.35 652.9,113.7 653.4,113.18 653.9,114.5 654.4,113.03 654.9,113.9 655.4,113.48 655.9,111.99 656.4,112.93 656.9,114.47 657.4,111.69 657.9,111.87 658.4,114.16 658.9,113.61 659.4,112.65 659.9,112.69 660.4,112.58 660.9,111.64 661.4,112.65 661.9,110.14 662.4,113.04 662.9,112.31 663.4,109.06 663.9,108.98 664.4,112.05 664.9,112.05 665.4,113.08 665.9,110.15 666.4,111.52 666.9,112.76 667.4,111.45 667.9,110.41" fill="none" stroke="#c8662c" stroke-width="1.15" stroke-linejoin="round"/>
<polyline points="548.4,111.51 548.9,111.62 549.4,114.39 549.9,109.82 550.4,113.24 550.9,113.22 551.4,112.21 551.9,113.8 552.4,114.48 552.9,113.15 553.4,115.06 553.9,112.98 554.4,113.32 554.9,112.25 555.4,114.71 555.9,112.38 556.4,112.91 556.9,111.21 557.4,114.09 557.9,111.01 558.4,112.63 558.9,113.17 559.4,114.55 559.9,113.16 560.4,113.32 560.9,114.54 561.4,114.95 561.9,114.9 562.4,112.38 562.9,113.77 563.4,112.4 563.9,112.6 564.4,113.11 564.9,113.35 565.4,113.77 565.9,112.04 566.4,113.62 566.9,113.68 567.4,115.28 567.9,113.91 568.4,115.58 568.9,115.56 569.4,113.7 569.9,115.62 570.4,114.86 570.9,113.9 571.4,112.99 571.9,114.7 572.4,114.45 572.9,114.75 573.4,116.17 573.9,117.41 574.4,117.8 574.9,115.41 575.4,115.7 575.9,117.26 576.4,116.76 576.9,116.07 577.4,116 577.9,115.49 578.4,113.32 578.9,116.38 579.4,115.15 579.9,116.5 580.4,116.74 580.9,116.83 581.4,115.94 581.9,116.69 582.4,115.37 582.9,115.85 583.4,117 583.9,114.29 584.4,117.9 584.9,115.93 585.4,113.62 585.9,117.01 586.4,114.66 586.9,114.03 587.4,115.51 587.9,117.64 588.4,113.68 588.9,115.06 589.4,115.65 589.9,113.42 590.4,115.95 590.9,114.02 591.4,115.78 591.9,115.31 592.4,117.48 592.9,116.67 593.4,117.55 593.9,117.1 594.4,116.1 594.9,116.5 595.4,115.66 595.9,114.33 596.4,116.22 596.9,118.19 597.4,116.43 597.9,116.46 598.4,115.33 598.9,115.31 599.4,115.44 599.9,116.95 600.4,116.5 600.9,119.37 601.4,116.53 601.9,117.12 602.4,116.93 602.9,117.35 603.4,116.87 603.9,117.6 604.4,116 604.9,117.88 605.4,114.68 605.9,114.99 606.4,113.14 606.9,115.7 607.4,115.52 607.9,115.19 608.4,115.2 608.9,115.47 609.4,116.57 609.9,116.82 610.4,116.21 610.9,116.11 611.4,116.88 611.9,116.65 612.4,115.64 612.9,114.73 613.4,115.59 613.9,114.65 614.4,114.78 614.9,115.18 615.4,116.56 615.9,116.34 616.4,117.79 616.9,116.24 617.4,114.79 617.9,116.32 618.4,113.85 618.9,113.77 619.4,115.59 619.9,113.69 620.4,116.85 620.9,116.26 621.4,115.73 621.9,115.45 622.4,116.06 622.9,117.31 623.4,114.04 623.9,115.93 624.4,115.75 624.9,115.37 625.4,115.27 625.9,115.57 626.4,115.82 626.9,117.27 627.4,113.03 627.9,115.32 628.4,115.85 628.9,114.82 629.4,115.64 629.9,111.17 630.4,113.63 630.9,112.97 631.4,112.86 631.9,113.63 632.4,113.82 632.9,115.55 633.4,114.36 633.9,115.03 634.4,114.64 634.9,115.9 635.4,113.33 635.9,113.58 636.4,114.83 636.9,116.74 637.4,114.01 637.9,113.64 638.4,115.32 638.9,116.83 639.4,114.56 639.9,113.96 640.4,117.34 640.9,114.48 641.4,117.23 641.9,115.43 642.4,113.46 642.9,115.67 643.4,114.88 643.9,115.62 644.4,115.14 644.9,112.48 645.4,114.1 645.9,115.87 646.4,116.16 646.9,115.07 647.4,112.48 647.9,114.52 648.4,113.69 648.9,115.42 649.4,116.43 649.9,113.13 650.4,114.44 650.9,114.98 651.4,114.54 651.9,114.7 652.4,114.6 652.9,115.71 653.4,112.37 653.9,113.34 654.4,113.13 654.9,114.5 655.4,113.77 655.9,114.12 656.4,112.94 656.9,113.06 657.4,113.76 657.9,115.15 658.4,115.79 658.9,115.46 659.4,114.84 659.9,114.75 660.4,115.93 660.9,112.43 661.4,113.79 661.9,116.78 662.4,115.7 662.9,115.62 663.4,114.07 663.9,112.88 664.4,115.29 664.9,113.52 665.4,114.51 665.9,112.96 666.4,112.97 666.9,114.43 667.4,113.8 667.9,114.65" fill="none" stroke="#7e3fb0" stroke-width="1.15" stroke-linejoin="round"/>
<rect x="388.5" y="128.8" width="276" height="9.4" fill="#fff" stroke="#333" stroke-width="0.9"/>
<line x1="393.5" y1="133.5" x2="406" y2="133.5" stroke="#1f6fc0" stroke-width="1.4"/>
<text x="407.5" y="135.9" font-size="6.3" text-anchor="start" font-weight="normal" font-style="normal" fill="#666">1</text>
<line x1="415" y1="133.5" x2="427.5" y2="133.5" stroke="#e3262a" stroke-width="1.4"/>
<text x="429" y="135.9" font-size="6.3" text-anchor="start" font-weight="normal" font-style="normal" fill="#666">2</text>
<line x1="437" y1="133.5" x2="449.5" y2="133.5" stroke="#a6a6a6" stroke-width="1.4"/>
<text x="451" y="135.9" font-size="6.3" text-anchor="start" font-weight="normal" font-style="normal" fill="#666">3</text>
<line x1="459" y1="133.5" x2="471.5" y2="133.5" stroke="#f2b01e" stroke-width="1.4"/>
<text x="473" y="135.9" font-size="6.3" text-anchor="start" font-weight="normal" font-style="normal" fill="#666">4</text>
<line x1="480.5" y1="133.5" x2="493" y2="133.5" stroke="#3fb8ec" stroke-width="1.4"/>
<text x="494.5" y="135.9" font-size="6.3" text-anchor="start" font-weight="normal" font-style="normal" fill="#666">5</text>
<line x1="502.5" y1="133.5" x2="515" y2="133.5" stroke="#2fb574" stroke-width="1.4"/>
<text x="516.5" y="135.9" font-size="6.3" text-anchor="start" font-weight="normal" font-style="normal" fill="#666">6</text>
<line x1="524" y1="133.5" x2="536.5" y2="133.5" stroke="#1d3a8f" stroke-width="1.4"/>
<text x="538" y="135.9" font-size="6.3" text-anchor="start" font-weight="normal" font-style="normal" fill="#666">7</text>
<line x1="546" y1="133.5" x2="558.5" y2="133.5" stroke="#c8662c" stroke-width="1.4"/>
<text x="560" y="135.9" font-size="6.3" text-anchor="start" font-weight="normal" font-style="normal" fill="#666">8</text>
<line x1="567.5" y1="133.5" x2="580" y2="133.5" stroke="#b0b0b0" stroke-width="1.4"/>
<text x="581.5" y="135.9" font-size="6.3" text-anchor="start" font-weight="normal" font-style="normal" fill="#666">9</text>
<line x1="589.5" y1="133.5" x2="602" y2="133.5" stroke="#4a9a35" stroke-width="1.4"/>
<text x="603.5" y="135.9" font-size="6.3" text-anchor="start" font-weight="normal" font-style="normal" fill="#666">10</text>
<line x1="614" y1="133.5" x2="626.5" y2="133.5" stroke="#e0161c" stroke-width="1.4"/>
<text x="628" y="135.9" font-size="6.3" text-anchor="start" font-weight="normal" font-style="normal" fill="#666">11</text>
<line x1="639" y1="133.5" x2="651.5" y2="133.5" stroke="#7e3fb0" stroke-width="1.4"/>
<text x="653" y="135.9" font-size="6.3" text-anchor="start" font-weight="normal" font-style="normal" fill="#666">12</text>
<line x1="379.4" y1="147" x2="379.4" y2="183.7" stroke="#3a3a3a" stroke-width="1"/>
<line x1="376.9" y1="179.2" x2="379.4" y2="179.2" stroke="#3a3a3a" stroke-width="1"/>
<text x="376.6" y="182.2" font-size="8.5" text-anchor="end" font-weight="normal" font-style="normal" fill="#1a1a1a">20</text>
<line x1="376.9" y1="169.13" x2="379.4" y2="169.13" stroke="#3a3a3a" stroke-width="1"/>
<text x="376.6" y="172.13" font-size="8.5" text-anchor="end" font-weight="normal" font-style="normal" fill="#1a1a1a">25</text>
<line x1="376.9" y1="159.07" x2="379.4" y2="159.07" stroke="#3a3a3a" stroke-width="1"/>
<text x="376.6" y="162.07" font-size="8.5" text-anchor="end" font-weight="normal" font-style="normal" fill="#1a1a1a">30</text>
<line x1="376.9" y1="149" x2="379.4" y2="149" stroke="#3a3a3a" stroke-width="1"/>
<text x="376.6" y="152" font-size="8.5" text-anchor="end" font-weight="normal" font-style="normal" fill="#1a1a1a">35</text>
<text x="364" y="165.5" font-size="10.5" text-anchor="middle" font-weight="normal" font-style="normal" fill="#1a1a1a" transform="rotate(-90 364 165.5)">Temp (°C)</text>
<line x1="379.4" y1="183.7" x2="668" y2="183.7" stroke="#3a3a3a" stroke-width="1"/>
<line x1="379.4" y1="183.7" x2="379.4" y2="181.7" stroke="#3a3a3a" stroke-width="1"/>
<line x1="404.91" y1="183.7" x2="404.91" y2="181.7" stroke="#3a3a3a" stroke-width="1"/>
<line x1="430.42" y1="183.7" x2="430.42" y2="181.7" stroke="#3a3a3a" stroke-width="1"/>
<line x1="455.93" y1="183.7" x2="455.93" y2="181.7" stroke="#3a3a3a" stroke-width="1"/>
<line x1="481.44" y1="183.7" x2="481.44" y2="181.7" stroke="#3a3a3a" stroke-width="1"/>
<line x1="506.95" y1="183.7" x2="506.95" y2="181.7" stroke="#3a3a3a" stroke-width="1"/>
<line x1="532.46" y1="183.7" x2="532.46" y2="181.7" stroke="#3a3a3a" stroke-width="1"/>
<line x1="557.97" y1="183.7" x2="557.97" y2="181.7" stroke="#3a3a3a" stroke-width="1"/>
<line x1="583.48" y1="183.7" x2="583.48" y2="181.7" stroke="#3a3a3a" stroke-width="1"/>
<line x1="608.99" y1="183.7" x2="608.99" y2="181.7" stroke="#3a3a3a" stroke-width="1"/>
<line x1="634.5" y1="183.7" x2="634.5" y2="181.7" stroke="#3a3a3a" stroke-width="1"/>
<line x1="660.01" y1="183.7" x2="660.01" y2="181.7" stroke="#3a3a3a" stroke-width="1"/>
<text x="379.4" y="192.3" font-size="8.3" text-anchor="middle" font-weight="normal" font-style="normal" fill="#1a1a1a">0</text>
<text x="430.42" y="192.3" font-size="8.3" text-anchor="middle" font-weight="normal" font-style="normal" fill="#1a1a1a">200</text>
<text x="481.44" y="192.3" font-size="8.3" text-anchor="middle" font-weight="normal" font-style="normal" fill="#1a1a1a">400</text>
<text x="532.46" y="192.3" font-size="8.3" text-anchor="middle" font-weight="normal" font-style="normal" fill="#1a1a1a">600</text>
<text x="583.48" y="192.3" font-size="8.3" text-anchor="middle" font-weight="normal" font-style="normal" fill="#1a1a1a">800</text>
<text x="634.5" y="192.3" font-size="8.3" text-anchor="middle" font-weight="normal" font-style="normal" fill="#1a1a1a">1000</text>
<text x="519" y="204" font-size="10.3" text-anchor="middle" font-weight="normal" font-style="normal" fill="#1a1a1a">Time (s)</text>
<polyline points="379.4,180.61 380.4,180.61 381.4,180.61 382.4,180.61 383.4,180.61 384.4,180.61 385.4,180.61 386.4,180.61 387.4,180.61 388.4,180.61 389.4,180.61 390.4,180.61 391.4,180.61 392.4,180.61 393.4,180.59 394.4,180.55 395.4,180.5 396.4,180.43 397.4,180.35 398.4,180.26 399.4,180.17 400.4,180.07 401.4,179.96 402.4,179.82 403.4,179.65 404.4,179.44 405.4,179.22 406.4,178.99 407.4,178.74 408.4,178.5 409.4,178.22 410.4,177.93 411.4,177.61 412.4,177.29 413.4,176.97 414.4,176.66 415.4,176.35 416.4,176.03 417.4,175.72 418.4,175.4 419.4,175.08 420.4,174.75 421.4,174.43 422.4,174.11 423.4,173.78 424.4,173.45 425.4,173.13 426.4,172.8 427.4,172.47 428.4,172.15 429.4,171.82 430.4,171.5 431.4,171.18 432.4,170.85 433.4,170.53 434.4,170.22 435.4,169.9 436.4,169.58 437.4,169.26 438.4,168.94 439.4,168.62 440.4,168.3 441.4,167.98 442.4,167.66 443.4,167.34 444.4,167.03 445.4,166.71 446.4,166.39 447.4,166.08 448.4,165.76 449.4,165.45 450.4,165.13 451.4,164.82 452.4,164.51 453.4,164.2 454.4,163.89 455.4,163.58 456.4,163.28 457.4,162.97 458.4,162.67 459.4,162.37 460.4,162.07 461.4,161.76 462.4,161.45 463.4,161.14 464.4,160.83 465.4,160.52 466.4,160.21 467.4,159.9 468.4,159.6 469.4,159.29 470.4,158.99 471.4,158.7 472.4,158.41 473.4,158.12 474.4,157.85 475.4,157.58 476.4,157.32 477.4,157.06 478.4,156.82 479.4,156.59 480.4,156.37 481.4,156.15 482.4,155.94 483.4,155.73 484.4,155.52 485.4,155.32 486.4,155.12 487.4,154.92 488.4,154.73 489.4,154.54 490.4,154.36 491.4,154.17 492.4,153.99 493.4,153.82 494.4,153.64 495.4,153.47 496.4,153.3 497.4,153.13 498.4,152.97 499.4,152.81 500.4,152.65 501.4,152.49 502.4,152.34 503.4,152.18 504.4,152.03 505.4,151.88 506.4,151.74 507.4,151.59 508.4,151.45 509.4,151.3 510.4,151.16 511.4,151.02 512.4,150.89 513.4,150.75 514.4,150.62 515.4,150.49 516.4,150.37 517.4,150.24 518.4,150.12 519.4,150 520.4,149.88 521.4,149.76 522.4,149.65 523.4,149.53 524.4,149.42 525.4,149.31 526.4,149.2 527.4,149.09 528.4,148.98 529.4,148.87 530.4,148.76 531.4,148.64 532.4,148.51 533.4,148.38 534.4,148.25 535.4,148.13 536.4,148.02 537.4,147.92 538.4,147.85 539.4,147.81 540.4,147.8 541.4,147.83 542.4,147.9 543.4,148.01 544.4,148.15 545.4,148.32 546.4,148.51 547.4,148.73 548.4,148.96 549.4,149.2 550.4,149.45 551.4,149.71 552.4,149.97 553.4,150.22 554.4,150.47 555.4,150.71 556.4,150.97 557.4,151.24 558.4,151.53 559.4,151.83 560.4,152.15 561.4,152.47 562.4,152.8 563.4,153.14 564.4,153.47 565.4,153.8 566.4,154.13 567.4,154.46 568.4,154.77 569.4,155.07 570.4,155.36 571.4,155.65 572.4,155.93 573.4,156.22 574.4,156.5 575.4,156.78 576.4,157.06 577.4,157.35 578.4,157.63 579.4,157.9 580.4,158.18 581.4,158.46 582.4,158.73 583.4,159 584.4,159.27 585.4,159.54 586.4,159.8 587.4,160.06 588.4,160.32 589.4,160.58 590.4,160.83 591.4,161.09 592.4,161.33 593.4,161.58 594.4,161.82 595.4,162.06 596.4,162.29 597.4,162.52 598.4,162.74 599.4,162.97 600.4,163.18 601.4,163.4 602.4,163.61 603.4,163.81 604.4,164.02 605.4,164.22 606.4,164.41 607.4,164.61 608.4,164.8 609.4,164.99 610.4,165.18 611.4,165.36 612.4,165.55 613.4,165.73 614.4,165.91 615.4,166.09 616.4,166.27 617.4,166.44 618.4,166.62 619.4,166.79 620.4,166.97 621.4,167.14 622.4,167.31 623.4,167.48 624.4,167.66 625.4,167.83 626.4,168 627.4,168.17 628.4,168.35 629.4,168.52 630.4,168.7 631.4,168.87 632.4,169.05 633.4,169.23 634.4,169.41 635.4,169.59 636.4,169.77 637.4,169.95 638.4,170.13 639.4,170.3 640.4,170.48 641.4,170.66 642.4,170.84 643.4,171.02 644.4,171.19 645.4,171.37 646.4,171.55 647.4,171.72 648.4,171.9 649.4,172.08 650.4,172.25 651.4,172.43 652.4,172.6 653.4,172.78 654.4,172.95 655.4,173.13 656.4,173.3 657.4,173.48 658.4,173.65 659.4,173.83 660.4,173.97" fill="none" stroke="#ee1c25" stroke-width="1.5" stroke-linejoin="round"/>
<text x="0.2" y="217.6" font-size="15.5" text-anchor="start" font-weight="bold" font-style="normal" fill="#000">C</text>
<line x1="33.5" y1="219" x2="33.5" y2="282.7" stroke="#3a3a3a" stroke-width="1"/>
<line x1="31.2" y1="225" x2="33.5" y2="225" stroke="#3a3a3a" stroke-width="0.9"/>
<text x="30" y="228" font-size="8.5" text-anchor="end" font-weight="normal" font-style="normal" fill="#1a1a1a">-20</text>
<line x1="31.2" y1="231.56" x2="33.5" y2="231.56" stroke="#3a3a3a" stroke-width="0.9"/>
<line x1="31.2" y1="238.12" x2="33.5" y2="238.12" stroke="#3a3a3a" stroke-width="0.9"/>
<line x1="31.2" y1="244.69" x2="33.5" y2="244.69" stroke="#3a3a3a" stroke-width="0.9"/>
<line x1="31.2" y1="251.25" x2="33.5" y2="251.25" stroke="#3a3a3a" stroke-width="0.9"/>
<text x="30" y="254.25" font-size="8.5" text-anchor="end" font-weight="normal" font-style="normal" fill="#1a1a1a">-40</text>
<line x1="31.2" y1="257.81" x2="33.5" y2="257.81" stroke="#3a3a3a" stroke-width="0.9"/>
<line x1="31.2" y1="264.38" x2="33.5" y2="264.38" stroke="#3a3a3a" stroke-width="0.9"/>
<line x1="31.2" y1="270.94" x2="33.5" y2="270.94" stroke="#3a3a3a" stroke-width="0.9"/>
<line x1="31.2" y1="277.5" x2="33.5" y2="277.5" stroke="#3a3a3a" stroke-width="0.9"/>
<text x="30" y="280.5" font-size="8.5" text-anchor="end" font-weight="normal" font-style="normal" fill="#1a1a1a">-60</text>
<text x="13.6" y="250.7" font-size="10.3" text-anchor="middle" font-weight="normal" font-style="normal" fill="#1a1a1a" transform="rotate(-90 13.6 250.7)">MP (mV)</text>
<line x1="33.5" y1="290" x2="33.5" y2="306.8" stroke="#3a3a3a" stroke-width="1"/>
<line x1="31.8" y1="296.8" x2="33.5" y2="296.8" stroke="#3a3a3a" stroke-width="0.8"/>
<line x1="31" y1="290.5" x2="33.5" y2="290.5" stroke="#3a3a3a" stroke-width="1"/>
<text x="30" y="293.5" font-size="8.5" text-anchor="end" font-weight="normal" font-style="normal" fill="#1a1a1a">20</text>
<line x1="31" y1="303.2" x2="33.5" y2="303.2" stroke="#3a3a3a" stroke-width="1"/>
<text x="30" y="306.2" font-size="8.5" text-anchor="end" font-weight="normal" font-style="normal" fill="#1a1a1a">0</text>
<text x="13.3" y="297" font-size="10.2" text-anchor="middle" font-weight="normal" font-style="normal" fill="#1a1a1a" transform="rotate(-90 13.3 297)">I (pA)</text>
<text x="315" y="213.7" font-size="10.2" text-anchor="end" font-weight="bold" font-style="italic" fill="#111">EB1 &gt; GFP</text>
<text x="174.6" y="330.3" font-size="10.3" text-anchor="middle" font-weight="normal" font-style="normal" fill="#1a1a1a">Time (s)</text>
<line x1="33.75" y1="306.8" x2="123.65" y2="306.8" stroke="#3a3a3a" stroke-width="1"/>
<line x1="36.75" y1="306.8" x2="36.75" y2="309" stroke="#3a3a3a" stroke-width="0.8"/>
<line x1="45.29" y1="306.8" x2="45.29" y2="308.3" stroke="#3a3a3a" stroke-width="0.8"/>
<line x1="53.83" y1="306.8" x2="53.83" y2="308.3" stroke="#3a3a3a" stroke-width="0.8"/>
<line x1="62.37" y1="306.8" x2="62.37" y2="308.3" stroke="#3a3a3a" stroke-width="0.8"/>
<line x1="70.91" y1="306.8" x2="70.91" y2="308.3" stroke="#3a3a3a" stroke-width="0.8"/>
<line x1="79.45" y1="306.8" x2="79.45" y2="309" stroke="#3a3a3a" stroke-width="0.8"/>
<line x1="87.99" y1="306.8" x2="87.99" y2="308.3" stroke="#3a3a3a" stroke-width="0.8"/>
<line x1="96.53" y1="306.8" x2="96.53" y2="308.3" stroke="#3a3a3a" stroke-width="0.8"/>
<line x1="105.07" y1="306.8" x2="105.07" y2="308.3" stroke="#3a3a3a" stroke-width="0.8"/>
<line x1="113.61" y1="306.8" x2="113.61" y2="308.3" stroke="#3a3a3a" stroke-width="0.8"/>
<line x1="122.15" y1="306.8" x2="122.15" y2="309" stroke="#3a3a3a" stroke-width="0.8"/>
<text x="36.75" y="317" font-size="8.5" text-anchor="middle" font-weight="normal" font-style="normal" fill="#1a1a1a">0</text>
<text x="79.45" y="317" font-size="8.5" text-anchor="middle" font-weight="normal" font-style="normal" fill="#1a1a1a">0.5</text>
<text x="122.15" y="317" font-size="8.5" text-anchor="middle" font-weight="normal" font-style="normal" fill="#1a1a1a">1</text>
<line x1="128.8" y1="306.8" x2="218.7" y2="306.8" stroke="#3a3a3a" stroke-width="1"/>
<line x1="131.8" y1="306.8" x2="131.8" y2="309" stroke="#3a3a3a" stroke-width="0.8"/>
<line x1="140.34" y1="306.8" x2="140.34" y2="308.3" stroke="#3a3a3a" stroke-width="0.8"/>
<line x1="148.88" y1="306.8" x2="148.88" y2="308.3" stroke="#3a3a3a" stroke-width="0.8"/>
<line x1="157.42" y1="306.8" x2="157.42" y2="308.3" stroke="#3a3a3a" stroke-width="0.8"/>
<line x1="165.96" y1="306.8" x2="165.96" y2="308.3" stroke="#3a3a3a" stroke-width="0.8"/>
<line x1="174.5" y1="306.8" x2="174.5" y2="309" stroke="#3a3a3a" stroke-width="0.8"/>
<line x1="183.04" y1="306.8" x2="183.04" y2="308.3" stroke="#3a3a3a" stroke-width="0.8"/>
<line x1="191.58" y1="306.8" x2="191.58" y2="308.3" stroke="#3a3a3a" stroke-width="0.8"/>
<line x1="200.12" y1="306.8" x2="200.12" y2="308.3" stroke="#3a3a3a" stroke-width="0.8"/>
<line x1="208.66" y1="306.8" x2="208.66" y2="308.3" stroke="#3a3a3a" stroke-width="0.8"/>
<line x1="217.2" y1="306.8" x2="217.2" y2="309" stroke="#3a3a3a" stroke-width="0.8"/>
<text x="131.8" y="317" font-size="8.5" text-anchor="middle" font-weight="normal" font-style="normal" fill="#1a1a1a">0</text>
<text x="174.5" y="317" font-size="8.5" text-anchor="middle" font-weight="normal" font-style="normal" fill="#1a1a1a">0.5</text>
<text x="217.2" y="317" font-size="8.5" text-anchor="middle" font-weight="normal" font-style="normal" fill="#1a1a1a">1</text>
<line x1="223.7" y1="306.8" x2="313.6" y2="306.8" stroke="#3a3a3a" stroke-width="1"/>
<line x1="226.7" y1="306.8" x2="226.7" y2="309" stroke="#3a3a3a" stroke-width="0.8"/>
<line x1="235.24" y1="306.8" x2="235.24" y2="308.3" stroke="#3a3a3a" stroke-width="0.8"/>
<line x1="243.78" y1="306.8" x2="243.78" y2="308.3" stroke="#3a3a3a" stroke-width="0.8"/>
<line x1="252.32" y1="306.8" x2="252.32" y2="308.3" stroke="#3a3a3a" stroke-width="0.8"/>
<line x1="260.86" y1="306.8" x2="260.86" y2="308.3" stroke="#3a3a3a" stroke-width="0.8"/>
<line x1="269.4" y1="306.8" x2="269.4" y2="309" stroke="#3a3a3a" stroke-width="0.8"/>
<line x1="277.94" y1="306.8" x2="277.94" y2="308.3" stroke="#3a3a3a" stroke-width="0.8"/>
<line x1="286.48" y1="306.8" x2="286.48" y2="308.3" stroke="#3a3a3a" stroke-width="0.8"/>
<line x1="295.02" y1="306.8" x2="295.02" y2="308.3" stroke="#3a3a3a" stroke-width="0.8"/>
<line x1="303.56" y1="306.8" x2="303.56" y2="308.3" stroke="#3a3a3a" stroke-width="0.8"/>
<line x1="312.1" y1="306.8" x2="312.1" y2="309" stroke="#3a3a3a" stroke-width="0.8"/>
<text x="226.7" y="317" font-size="8.5" text-anchor="middle" font-weight="normal" font-style="normal" fill="#1a1a1a">0</text>
<text x="269.4" y="317" font-size="8.5" text-anchor="middle" font-weight="normal" font-style="normal" fill="#1a1a1a">0.5</text>
<text x="312.1" y="317" font-size="8.5" text-anchor="middle" font-weight="normal" font-style="normal" fill="#1a1a1a">1</text>
<polyline points="36.25,267.49 36.55,267.55 36.85,267.36 37.15,267.45 37.45,267.55 37.75,267.51 38.05,267.31 38.35,267.35 38.65,267.26 38.95,267.27 39.25,267.26 39.55,267.38 39.85,267.28 40.15,267.36 40.45,267.35 40.75,266.99 41.05,267.15 41.35,267.04 41.65,266.88 41.95,266.92 42.25,266.96 42.55,267.19 42.85,266.98 43.15,266.93 43.45,266.92 43.75,266.81 44.05,266.9 44.35,266.84 44.65,266.64 44.95,266.74 45,267.2 45.25,266.89 45.55,266.82 45.85,266.93 46.15,266.75 46.45,266.89 46.75,267 47.05,266.73 47.35,266.85 47.65,266.9 47.95,266.94 48.25,266.93 48.55,267.04 48.85,267.14 49.15,267.08 49.45,267.18 49.75,267.2 50.05,267.02 50.35,267.14 50.65,267.08 50.95,267.22 51.25,267.12 51.55,267.15 51.85,267.39 52,267.18 52.15,267.01 52.45,267.2 52.75,267.21 53.05,267.11 53.35,267.17 53.65,267.27 53.95,267.08 54.25,267.11 54.55,267.04 54.85,267.16 55.15,267.09 55.45,266.99 55.75,267.07 56.05,267.3 56.35,266.87 56.65,266.9 56.95,267.09 57.25,266.88 57.55,267.27 57.85,266.85 58.15,266.87 58.45,266.95 58.75,267.13 58.75,267.1 59.05,265.69 59.35,264.28 59.65,263.01 59.95,261.27 60,261.28 60.25,261.09 60.55,260.4 60.85,260.17 61.15,259.89 61.45,259.5 61.75,258.94 62.05,258.78 62.35,258.23 62.65,257.9 62.95,257.25 63.25,256.9 63.55,256.5 63.85,256.41 64,255.73 64.15,255.64 64.45,255.65 64.75,255.27 65.05,254.61 65.35,254.61 65.65,254.32 65.95,254.19 66.25,253.53 66.55,253.39 66.85,253.28 67.15,252.94 67.45,252.44 67.5,252.47 67.75,251.87 68.05,251.65 68.35,250.89 68.65,250.54 68.95,249.94 69.25,249.19 69.55,248.73 69.85,248.27 70.15,247.7 70.45,247.27 70.5,247.13 70.75,245.04 71.05,242.68 71.35,240.12 71.65,237.73 71.75,237.07 71.95,241.12 72.25,247.07 72.55,253.31 72.85,259.35 73,262.44 73.15,262.74 73.45,262.65 73.75,262.85 74.05,263.16 74.35,263.28 74.65,263.46 74.95,263.44 75.25,263.78 75.55,263.91 75.85,264.02 76,264.14 76.15,264.14 76.45,264.2 76.75,264.25 77.05,263.98 77.35,264.07 77.65,263.85 77.95,263.59 78,263.76 78.25,263.67 78.55,263.4 78.85,262.85 79.15,262.94 79.45,262.31 79.75,262.03 80.05,261.77 80.35,261.72 80.65,261.32 80.95,261.09 81.25,260.45 81.55,260.42 81.85,260.13 82,260.09 82.15,259.83 82.45,259.77 82.75,259.3 83.05,258.97 83.35,258.69 83.65,258.78 83.95,258.47 84.25,258.04 84.55,258.01 84.85,257.61 85,257.49 85.15,257.29 85.45,257.3 85.75,257.28 86.05,257.19 86.35,257.01 86.65,257.09 86.95,257.05 87.25,256.69 87.55,256.74 87.85,256.42 88.15,256.55 88.45,256.29 88.75,256.29 89.05,256.23 89.35,256.09 89.65,256.14 89.95,255.83 90.25,255.77 90.55,255.77 90.85,255.63 91.15,255.57 91.25,255.48 91.45,255.46 91.75,255.69 92.05,255.69 92.35,255.84 92.65,255.96 92.95,255.83 93.25,255.85 93.55,255.94 93.85,255.99 94.15,255.89 94.45,256.38 94.75,256.3 95,256.58 95.05,256.24 95.35,256.37 95.65,256.33 95.95,256.29 96.25,256.4 96.55,256.29 96.85,256.27 97.15,256.3 97.45,256.02 97.75,256.19 98.05,256.18 98.35,256.45 98.65,256.33 98.75,256.35 98.95,256.25 99.25,256.03 99.55,256.12 99.85,255.78 100.15,255.52 100.45,255.63 100.75,255.57 101.05,255.32 101.35,255.23 101.65,255.17 101.95,255.12 102.25,254.88 102.55,254.89 102.85,254.6 103,254.75 103.15,254.54 103.45,255.18 103.75,255.48 104.05,255.83 104.35,256.05 104.65,256.69 104.95,256.92 105,256.89 105.25,257.48 105.55,258.19 105.85,258.89 106.15,259.43 106.45,260.09 106.75,260.91 107.05,261.51 107.35,262.4 107.5,262.46 107.65,262.69 107.95,263 108.25,262.97 108.55,263.3 108.85,263.42 109.15,263.59 109.45,263.96 109.75,263.86 110.05,264.1 110.35,264.16 110.65,264.54 110.95,264.86 111.25,264.92 111.55,265.23 111.85,265.25 112.15,265.66 112.45,265.71 112.5,265.7 112.75,265.94 113.05,265.73 113.35,265.78 113.65,265.72 113.95,265.77 114.25,265.69 114.55,265.53 114.85,265.68 115.15,265.69 115.45,265.67 115.75,265.58 116.05,265.8 116.35,265.5 116.65,265.58 116.95,265.58 117.25,265.42 117.55,265.39 117.85,265.59 118,265.58 118.15,265.51 118.45,265.28 118.75,265.41 119.05,265.44 119.35,265.46 119.65,265.5 119.95,265.39 120.25,265.42 120.55,265.48 120.85,264.99 121.15,265.35 121.45,265.16 121.75,265.24 122.05,265.18 122.35,265.01 122.65,265 122.95,265.13 123.25,265.03 123.55,265.11 123.75,264.96" fill="none" stroke="#1a1a1a" stroke-width="0.9" stroke-linejoin="round"/>
<polyline points="130.9,270.45 131.2,270.15 131.5,270.4 131.8,270.05 132.1,270.18 132.4,270.22 132.7,269.92 133,269.93 133.3,270.07 133.6,270.13 133.9,270.13 134.2,270.02 134.5,270.05 134.8,269.77 135.1,269.83 135.4,270.03 135.7,269.77 136,269.79 136.3,269.59 136.6,269.75 136.9,269.56 137.2,269.76 137.5,269.87 137.8,269.71 138.1,269.67 138.4,269.58 138.7,269.67 139,269.46 139.3,269.51 139.6,269.79 139.9,269.36 140,269.44 140.2,269.32 140.5,269.58 140.8,269.36 141.1,269.2 141.4,269.16 141.7,269.39 142,269.3 142.3,269.27 142.6,269.13 142.9,269.19 143.2,269.2 143.5,269.08 143.8,268.78 144.1,268.69 144.4,268.71 144.7,268.86 145,268.62 145.3,268.62 145.6,268.71 145.9,268.56 146.2,268.47 146.5,268.69 146.8,268.59 147.1,268.58 147.4,268.55 147.7,268.57 148,268.36 148.3,268.3 148.6,268.07 148.9,268.2 149.2,268.12 149.5,268.27 149.8,268.18 150.1,268.23 150.4,268.14 150.7,268.11 151,267.99 151.3,267.9 151.6,267.8 151.9,267.8 152.2,267.65 152.5,267.76 152.8,267.66 153.1,267.4 153.4,267.28 153.7,267.46 154,267.45 154,267.47 154.3,266.22 154.6,264.58 154.9,263.08 155.2,261.84 155.5,260.49 155.8,259.14 156,257.88 156.1,257.3 156.4,255.28 156.7,253.51 157,251.41 157.3,249.34 157.6,247.42 157.8,245.96 157.9,244.6 158.2,240.48 158.5,236.3 158.7,233.57 158.8,236.28 159.1,244.19 159.2,246.97 159.4,249.78 159.7,253.99 159.7,253.75 160,253.8 160.3,253.88 160.6,253.87 160.63,253.76 160.9,253.76 161.2,253.7 161.38,253.54 161.5,253.51 161.8,253.28 162.1,252.98 162.14,252.93 162.4,252.69 162.7,252.36 162.89,251.98 163,251.67 163.3,251.27 163.6,250.91 163.64,250.59 163.9,250.27 164.2,249.4 164.39,249.02 164.5,248.6 164.8,247.86 165.1,246.91 165.15,246.8 165.4,245.61 165.7,244.81 165.9,243.8 166,241.96 166.3,236.06 166.5,231.97 166.6,234.85 166.9,243.22 167,246.01 167.2,249.1 167.5,254.11 167.5,254.12 167.8,253.9 168.1,253.83 168.37,253.93 168.4,253.81 168.7,253.79 169,253.74 169.07,253.69 169.3,253.59 169.6,253.23 169.78,252.91 169.9,252.77 170.2,252.53 170.48,252.32 170.5,252.03 170.8,251.4 171.1,251.1 171.19,250.76 171.4,250.32 171.7,249.61 171.89,248.9 172,248.62 172.3,247.64 172.6,246.82 172.6,246.82 172.9,245.51 173.2,244.45 173.3,243.79 173.5,240.04 173.8,234.03 173.9,232 174.1,237.33 174.4,245.73 174.4,245.62 174.7,250.56 174.9,253.46 175,253.47 175.3,253.46 175.6,253.51 175.9,253.44 176.2,253.47 176.22,253.3 176.5,253.46 176.8,253.19 177.1,253.25 177.29,253.14 177.4,253.17 177.7,252.88 178,252.56 178.3,252.43 178.36,252.5 178.6,252.47 178.9,252.01 179.2,251.8 179.43,251.74 179.5,251.44 179.8,251.17 180.1,250.79 180.4,250.32 180.49,250.3 180.7,250.05 181,249.56 181.3,248.9 181.56,248.84 181.6,248.47 181.9,247.77 182.2,247.09 182.5,246.43 182.63,246.35 182.8,245.5 183.1,245.03 183.4,244.12 183.7,243.48 183.7,243.49 184,236.95 184.3,230.58 184.3,230.84 184.6,239.12 184.8,244.84 184.9,246.44 185.2,251.46 185.3,253.13 185.5,253.08 185.8,253.02 186.1,253 186.4,252.78 186.53,253.06 186.7,252.79 187,252.67 187.3,252.64 187.53,252.52 187.6,252.61 187.9,252.47 188.2,252.36 188.5,252.03 188.52,251.96 188.8,251.74 189.1,251.36 189.4,251.13 189.52,251.32 189.7,250.77 190,250.4 190.3,250.13 190.51,249.8 190.6,249.7 190.9,248.99 191.2,248.43 191.5,248.17 191.51,247.93 191.8,247.34 192.1,246.7 192.4,245.79 192.5,245.74 192.7,245.14 193,244.44 193.3,243.52 193.5,242.74 193.6,241.22 193.9,235.24 194.1,231.75 194.2,234.34 194.5,242.21 194.6,244.89 194.8,247.84 195.1,251.9 195.1,251.93 195.4,250.75 195.7,249.39 196,248.08 196,248.03 196.3,248.13 196.6,248.27 196.9,248.44 197.2,248.76 197.5,249 197.8,249.22 197.8,248.88 198.1,250.56 198.4,252.17 198.7,253.74 199,255.22 199.3,257.18 199.5,258.17 199.6,258.26 199.9,259.06 200.2,259.95 200.5,260.66 200.8,261.6 201.1,262.56 201.4,263.5 201.7,264.26 202,265.14 202,264.88 202.3,265.05 202.6,266 202.9,266.28 203.2,266.67 203.5,267.29 203.8,267.42 204.1,267.84 204.4,268.29 204.7,268.98 205,269.32 205.2,269.29 205.3,269.7 205.6,269.58 205.9,269.69 206.2,269.62 206.5,269.98 206.8,269.88 207.1,270.04 207.4,269.84 207.7,270.1 208,270.09 208.3,270.12 208.6,270.11 208.9,270.19 209.2,270.2 209.5,270.32 209.8,270.45 210,270.56 210.1,270.31 210.4,270.33 210.7,270.35 211,270.2 211.3,270.32 211.6,270.29 211.9,270.27 212.2,270.31 212.5,270.33 212.8,270.29 213.1,270.19 213.4,270.2 213.7,270.01 214,269.96 214.3,270.11 214.6,270.07 214.9,270.22 215.2,269.91 215.5,269.79 215.8,269.91 216.1,269.79 216.4,269.71 216.7,269.93 217,269.96 217.3,269.75 217.6,269.6 217.9,269.68 218.2,269.61 218.5,269.42 218.8,269.64 219.1,269.56 219.3,269.64" fill="none" stroke="#1a1a1a" stroke-width="0.9" stroke-linejoin="round"/>
<polyline points="225.5,266.73 225.8,266.76 226.1,266.72 226.4,266.5 226.7,266.96 227,266.4 227.3,266.48 227.6,266.53 227.9,266.36 228.2,266.56 228.5,266.43 228.8,266.46 229.1,266.44 229.4,266.39 229.7,266.37 230,266.31 230.3,266.34 230.6,266.35 230.9,266.2 231.2,266.15 231.5,266.12 231.8,266.17 232.1,266.06 232.4,266.03 232.7,265.87 233,266.23 233.3,265.83 233.6,266.14 233.9,266 234.2,266 234.5,265.88 234.8,265.88 235,265.83 235.1,265.88 235.4,265.95 235.7,266.07 236,265.82 236.3,266.04 236.6,266.21 236.9,266.23 237.2,265.99 237.5,266.19 237.8,266.22 238.1,266.26 238.4,266.02 238.7,266.42 239,266.17 239.3,266.65 239.6,266.52 239.9,266.47 240,266.57 240.2,266.54 240.5,266.49 240.8,266.57 241.1,266.65 241.4,266.55 241.7,266.75 242,266.83 242.3,266.86 242.6,266.9 242.9,266.94 243.2,266.9 243.5,267 243.8,266.89 244.1,266.96 244.4,267.11 244.7,267.2 245,266.96 245.3,266.86 245.6,267.31 245.9,267.23 246.2,267.33 246.5,267.26 246.8,267.21 247.1,267.14 247.4,267.13 247.7,267.44 248,267.42 248.3,267.37 248.6,267.23 248.9,267.33 249,267.33 249.2,264.47 249.5,259.82 249.8,255.83 250.1,251.63 250.2,249.94 250.4,248.01 250.7,245.03 251,241.89 251,242.05 251.3,232.16 251.4,228.95 251.6,233.11 251.9,239.2 251.9,239.21 252.2,241.62 252.4,243.49 252.5,243.25 252.66,243.44 252.8,243.14 252.86,243 253.07,242.72 253.1,242.5 253.27,242.01 253.4,241.49 253.48,241.24 253.69,240 253.7,239.87 253.89,238.3 254,237.16 254.1,236.38 254.3,232.8 254.6,227.47 254.7,225.64 254.9,229.8 255.2,236.2 255.2,235.95 255.5,238.74 255.7,240.65 255.8,240.39 255.95,240.33 256.1,240.27 256.16,240.19 256.37,239.86 256.4,239.88 256.57,239.16 256.7,238.68 256.78,238.18 256.99,236.95 257,236.95 257.19,235.36 257.3,234.58 257.4,233.45 257.6,230.32 257.9,225.46 258,223.95 258.2,228.54 258.5,235.6 258.5,235.44 258.8,239.04 259,241.51 259.1,241.07 259.4,241.45 259.42,241.23 259.7,241.17 259.76,240.92 260,240.98 260.1,240.5 260.3,240.23 260.44,240.16 260.6,239.39 260.78,238.77 260.9,238.6 261.12,237.72 261.2,237.33 261.46,236.13 261.5,235.84 261.8,234.47 261.8,234.45 262.1,228.59 262.4,223.19 262.4,223.15 262.7,230.68 262.9,235.35 263,236.89 263.3,240.45 263.4,241.61 263.6,241.66 263.87,241.57 263.9,241.89 264.2,241.47 264.24,241.38 264.5,241.16 264.62,241.2 264.8,240.6 264.99,240.17 265.1,240.27 265.37,239.52 265.4,239.3 265.7,238.35 265.75,238.34 266,236.83 266.12,236.79 266.3,235.71 266.5,234.78 266.6,232.99 266.9,228.27 267.1,224.43 267.2,226.79 267.5,232.83 267.6,235.31 267.8,237.31 268.1,239.92 268.1,239.86 268.4,240.07 268.52,240.16 268.7,240.07 268.86,239.75 269,239.71 269.2,239.25 269.3,239.44 269.54,238.7 269.6,238.76 269.88,237.81 269.9,237.73 270.2,236.88 270.22,236.5 270.5,235.47 270.56,234.99 270.8,233.56 270.9,233 271.1,229.94 271.4,224.84 271.5,223.16 271.7,227.92 272,235.59 272,235.58 272.3,239.24 272.5,241.79 272.6,241.3 272.9,241.6 273.16,241.66 273.2,241.64 273.5,241.44 273.69,241.46 273.8,241.26 274.1,241.04 274.23,240.87 274.4,240.83 274.7,240.36 274.76,240.31 275,240.13 275.3,239.44 275.3,239.43 275.6,238.56 275.83,238.15 275.9,238.12 276.2,237.19 276.37,236.64 276.5,236.13 276.8,235.07 276.9,234.75 277.1,230.96 277.4,225.15 277.5,223.84 277.7,227.92 278,234.03 278,234.22 278.3,236.56 278.5,238.65 278.6,238.5 278.78,238.55 278.9,238.29 279.02,238.25 279.2,237.98 279.25,237.95 279.48,237.23 279.5,237.13 279.71,236.17 279.8,235.96 279.94,235.03 280.1,233.88 280.17,233.4 280.4,231.36 280.4,231.41 280.7,226.57 281,222.02 281,221.99 281.3,229.02 281.5,233.5 281.6,234.73 281.9,238.09 282,239.42 282.2,239.09 282.44,239.06 282.5,239.35 282.79,239.07 282.8,238.83 283.1,238.83 283.14,238.8 283.4,238.28 283.49,237.72 283.7,237.44 283.84,236.94 284,236.46 284.2,235.62 284.3,235.55 284.55,234.15 284.6,233.98 284.9,232.4 284.9,232.37 285.2,227.3 285.5,222.15 285.5,222.23 285.8,228.35 286,232.23 286.1,233.48 286.4,235.86 286.5,236.74 286.7,236.69 286.71,236.57 286.88,236.39 287,236.03 287.05,236.18 287.22,235.61 287.3,235.04 287.39,234.41 287.56,233.46 287.6,232.9 287.73,231.54 287.9,229.57 287.9,229.82 288.2,225.52 288.5,220.85 288.5,220.82 288.8,227.35 289,231.6 289.1,232.59 289.4,235.57 289.5,236.41 289.7,236.96 289.9,237.08 290,237.36 290.3,237.55 290.6,237.7 290.9,237.94 291.2,238.18 291.5,238.65 291.8,238.59 292.1,239.06 292.4,239.27 292.7,239.35 293,239.82 293.1,239.41 293.3,241.57 293.6,244.33 293.9,247.08 294,248.1 294.2,249.28 294.5,251.31 294.8,253.47 295.1,255.32 295.4,257.21 295.5,258.07 295.7,258.79 296,259.93 296.3,261.27 296.6,262.31 296.9,263.48 297.2,264.77 297.5,265.98 297.5,266.01 297.8,266.68 298.1,267.86 298.4,268.57 298.7,269.33 299,270.17 299.2,270.4 299.3,270.82 299.6,270.6 299.9,270.8 300.2,270.61 300.5,270.88 300.8,270.72 301.1,270.77 301.4,271 301.7,270.95 302,270.68 302.3,270.78 302.6,270.9 302.9,270.86 303.2,271 303.5,270.84 303.8,270.71 304.1,270.84 304.4,270.95 304.7,271.05 305,271.09 305,271.15 305.3,271.06 305.6,271.05 305.9,271.19 306.2,271.13 306.5,271.12 306.8,271.15 307.1,271.36 307.4,271.46 307.7,271.47 308,271.16 308.3,271.52 308.6,271.29 308.9,271.42 309.2,271.56 309.5,271.37 309.8,271.42 310.1,271.51 310.4,271.84 310.7,271.8 311,271.6 311.3,271.76 311.6,271.79 311.9,271.85 312.2,271.76 312.5,272.05 312.8,271.87 313.1,272.05 313.4,271.79 313.5,272.05" fill="none" stroke="#1a1a1a" stroke-width="0.9" stroke-linejoin="round"/>
<polyline points="36.25,304.88 36.75,303.42 37.25,304.33 37.75,303.26 38.25,305.01 38.75,303.1 39.25,305.11 39.75,303.57 40.25,305.03 40.75,303.31 41.25,305.12 41.75,303.24 42.25,305.09 42.75,303.27 43.25,304.71 43.75,302.94 44.25,305.08 44.75,303.27 45.25,304.72 45.75,303.15 46.25,305.14 46.75,302.81 47.25,304.67 47.75,303.29 48.25,305.01 48.75,302.91 49.25,304.65 49.75,303.18 50.25,305.13 50.75,303.15 51.25,304.38 51.75,303.36 52.25,304.84 52.75,303.06 53.25,304.62 53.75,303.39 54.25,304.9 54.75,303.23 55.25,304.92 55.75,303.24 56.25,305.02 56.75,303.49 57.25,304.64 57.75,303.13 58.25,304.76 58.75,303.49 59.25,304.79 59.75,302.83" fill="none" stroke="#111" stroke-width="1.3" stroke-linejoin="round"/>
<polyline points="59.81,301.64 60.31,299.8 60.81,301.5 61.31,299.86 61.81,301.39 62.31,299.56 62.81,302.04 63.31,299.92 63.81,301.46 64.31,300.07 64.81,301.92 65.31,299.6 65.81,301.56 66.31,300.01 66.81,301.48 67.31,300.04 67.81,301.4 68.31,299.82 68.81,301.62 69.31,300.03 69.81,301.66 70.31,299.81 70.81,301.58 71.31,299.53 71.81,302.08 72.31,299.87 72.81,301.59 73.31,300 73.81,301.76 74.31,300.02 74.81,301.51 75.31,299.62 75.81,301.61 76.31,299.79 76.81,301.54 77.31,299.95 77.81,301.7 78.31,300.21 78.81,301.62 79.31,299.6 79.81,301.77 80.31,300.13 80.81,301.32 81.31,300.07 81.81,301.69 82.31,299.84 82.81,301.68 83.31,300.03 83.81,301.77 84.31,300.18 84.81,301.65 85.31,299.95 85.81,302.13 86.31,299.73 86.81,301.59 87.31,299.88 87.81,301.8 88.31,300.17 88.81,301.38 89.31,300.19 89.81,301.41 90.31,300.47 90.81,301.51 91.31,300.17 91.81,301.59 92.31,300.09 92.81,301.5 93.31,299.97 93.81,301.65 94.31,299.97 94.81,301.81 95.31,299.86 95.81,301.58 96.31,299.68 96.81,301.62 97.31,299.85 97.81,301.83 98.31,300.08 98.81,301.5 99.31,300.04 99.81,301.91 100.31,299.91 100.81,301.41 101.31,300.44 101.81,301.76 102.31,300.09 102.81,302.15 103.31,299.79" fill="none" stroke="#111" stroke-width="1.3" stroke-linejoin="round"/>
<polyline points="103.36,304.91 103.86,302.77 104.36,304.95 104.86,303.23 105.36,304.69 105.86,302.98 106.36,304.81 106.86,303.1 107.36,305.17 107.86,303.1 108.36,304.82 108.86,303.11 109.36,304.53 109.86,303.05 110.36,304.58 110.86,303.17 111.36,304.41 111.86,302.92 112.36,304.9 112.86,302.73 113.36,304.54 113.86,303.35 114.36,304.58 114.86,303.15 115.36,304.91 115.86,302.94 116.36,304.51 116.86,303.45 117.36,304.74 117.86,303.25 118.36,304.7 118.86,303.22 119.36,304.59 119.86,302.87 120.36,304.64 120.86,303.02 121.36,304.72 121.86,303.08 122.36,304.93 122.86,303.04 123.36,305.04" fill="none" stroke="#111" stroke-width="1.3" stroke-linejoin="round"/>
<line x1="59.81" y1="304" x2="59.81" y2="300.8" stroke="#333" stroke-width="0.6"/>
<line x1="103.36" y1="304" x2="103.36" y2="300.8" stroke="#333" stroke-width="0.6"/>
<polyline points="131.3,304.72 131.8,303.28 132.3,305.11 132.8,303.5 133.3,304.45 133.8,303.49 134.3,304.49 134.8,303.43 135.3,304.85 135.8,303.22 136.3,304.66 136.8,303.34 137.3,304.99 137.8,303.04 138.3,304.72 138.8,303.32 139.3,305.06 139.8,303.3 140.3,304.77 140.8,303.15 141.3,305.04 141.8,303.32 142.3,305.07 142.8,303.18 143.3,304.71 143.8,303.21 144.3,304.94 144.8,303.04 145.3,304.94 145.8,302.98 146.3,304.9 146.8,303.03 147.3,305.27 147.8,303.39 148.3,304.9 148.8,302.89 149.3,304.6 149.8,303.29 150.3,304.82 150.8,303.21 151.3,304.53 151.8,302.85 152.3,304.87 152.8,303.11 153.3,304.58 153.8,302.99 154.3,305.01 154.8,303.06" fill="none" stroke="#111" stroke-width="1.3" stroke-linejoin="round"/>
<polyline points="154.86,298.16 155.36,296.68 155.86,298.12 156.36,296.37 156.86,297.93 157.36,296.59 157.86,297.76 158.36,296.13 158.86,298.05 159.36,296.05 159.86,298.24 160.36,296.22 160.86,298.15 161.36,296.29 161.86,298 162.36,296.35 162.86,297.66 163.36,296.13 163.86,297.95 164.36,296.79 164.86,298.21 165.36,296.49 165.86,297.84 166.36,296.53 166.86,298.3 167.36,296.5 167.86,298.57 168.36,296.08 168.86,297.83 169.36,296.3 169.86,297.85 170.36,296.36 170.86,298.15 171.36,296.35 171.86,298.07 172.36,296.43 172.86,298.2 173.36,296.22 173.86,297.91 174.36,296.59 174.86,297.98 175.36,296.18 175.86,298.1 176.36,296.28 176.86,298.07 177.36,296.34 177.86,298.17 178.36,296.53 178.86,297.88 179.36,296.1 179.86,298.37 180.36,296.21 180.86,297.74 181.36,295.97 181.86,298.04 182.36,296.22 182.86,297.68 183.36,296.16 183.86,297.84 184.36,296.55 184.86,298.09 185.36,296.35 185.86,297.79 186.36,296.31 186.86,298.18 187.36,296.38 187.86,298.26 188.36,296.36 188.86,298.19 189.36,296.44 189.86,297.93 190.36,296.61 190.86,298.12 191.36,296.51 191.86,297.83 192.36,296.13 192.86,298.01 193.36,296.19 193.86,298.17 194.36,296.43 194.86,298.29 195.36,296.46 195.86,297.82 196.36,296.54 196.86,297.92 197.36,296.2 197.86,298.06 198.36,296.35" fill="none" stroke="#111" stroke-width="1.3" stroke-linejoin="round"/>
<polyline points="198.41,305.05 198.91,303.71 199.41,304.93 199.91,303.44 200.41,304.8 200.91,303.21 201.41,304.74 201.91,303.06 202.41,305.12 202.91,303.24 203.41,304.94 203.91,302.99 204.41,305.19 204.91,303.11 205.41,304.72 205.91,303.14 206.41,304.98 206.91,303.3 207.41,305.14 207.91,302.94 208.41,304.76 208.91,303.46 209.41,305.3 209.91,303.02 210.41,304.83 210.91,302.84 211.41,304.68 211.91,302.97 212.41,304.83 212.91,302.91 213.41,305.03 213.91,303.14 214.41,304.8 214.91,303.33 215.41,304.79 215.91,302.9 216.41,304.85 216.91,303.58 217.41,304.87 217.91,303.25 218.41,304.81" fill="none" stroke="#111" stroke-width="1.3" stroke-linejoin="round"/>
<line x1="154.86" y1="304" x2="154.86" y2="297.2" stroke="#333" stroke-width="0.6"/>
<line x1="198.41" y1="304" x2="198.41" y2="297.2" stroke="#333" stroke-width="0.6"/>
<polyline points="226.2,304.8 226.7,303.25 227.2,304.32 227.7,302.9 228.2,304.73 228.7,303.09 229.2,305.14 229.7,303.64 230.2,304.97 230.7,303.23 231.2,304.98 231.7,303.45 232.2,304.65 232.7,303.05 233.2,304.88 233.7,303.21 234.2,304.47 234.7,303.23 235.2,304.53 235.7,303.3 236.2,305.02 236.7,302.7 237.2,304.95 237.7,303.19 238.2,304.72 238.7,303.34 239.2,305.25 239.7,303.25 240.2,304.63 240.7,302.86 241.2,304.61 241.7,302.94 242.2,305.07 242.7,303.2 243.2,304.84 243.7,303.32 244.2,304.85 244.7,303.15 245.2,304.68 245.7,303.02 246.2,304.85 246.7,302.91 247.2,305.18 247.7,303.17 248.2,304.74 248.7,303.34 249.2,304.64 249.7,303.36" fill="none" stroke="#111" stroke-width="1.3" stroke-linejoin="round"/>
<polyline points="249.76,294.06 250.26,292.72 250.76,293.94 251.26,292.27 251.76,293.88 252.26,292.1 252.76,294.1 253.26,292.14 253.76,294.11 254.26,292.22 254.76,294.26 255.26,291.84 255.76,294.13 256.26,292.36 256.76,294.05 257.26,292.22 257.76,294.39 258.26,292.26 258.76,294.13 259.26,292.29 259.76,293.97 260.26,292.36 260.76,294.18 261.26,292.12 261.76,293.95 262.26,292.07 262.76,294.13 263.26,292.18 263.76,293.9 264.26,292.48 264.76,294.04 265.26,292.43 265.76,294.02 266.26,292.43 266.76,294.06 267.26,292.12 267.76,294.09 268.26,292.28 268.76,294 269.26,292.4 269.76,293.94 270.26,292.13 270.76,294.28 271.26,292.71 271.76,293.98 272.26,292.57 272.76,294.12 273.26,292.22 273.76,293.88 274.26,292.29 274.76,293.96 275.26,292.28 275.76,294.02 276.26,292.12 276.76,294.22 277.26,292.12 277.76,293.83 278.26,292.53 278.76,294.2 279.26,292.64 279.76,294.07 280.26,292.22 280.76,294.27 281.26,292.33 281.76,294.02 282.26,292.18 282.76,294.13 283.26,291.87 283.76,294.15 284.26,291.95 284.76,294.22 285.26,292.04 285.76,294.18 286.26,292.84 286.76,293.99 287.26,292.11 287.76,294.43 288.26,292.26 288.76,293.82 289.26,292.6 289.76,293.48 290.26,292.05 290.76,293.78 291.26,292.21 291.76,293.64 292.26,292.51 292.76,294.25 293.26,292.33" fill="none" stroke="#111" stroke-width="1.3" stroke-linejoin="round"/>
<polyline points="293.31,304.76 293.81,302.83 294.31,304.94 294.81,303.01 295.31,304.97 295.81,303.35 296.31,304.86 296.81,302.72 297.31,304.66 297.81,303.42 298.31,304.9 298.81,303.43 299.31,304.4 299.81,303.12 300.31,304.81 300.81,302.82 301.31,304.72 301.81,303.34 302.31,304.95 302.81,303.04 303.31,304.91 303.81,303.38 304.31,304.63 304.81,303.2 305.31,305.06 305.81,303.01 306.31,305.11 306.81,303.13 307.31,305.07 307.81,303.33 308.31,304.9 308.81,303.09 309.31,304.72 309.81,303.18 310.31,304.89 310.81,303.43 311.31,304.83 311.81,303.22 312.31,305.18 312.81,303.21 313.31,304.94" fill="none" stroke="#111" stroke-width="1.3" stroke-linejoin="round"/>
<line x1="249.76" y1="304" x2="249.76" y2="293.2" stroke="#333" stroke-width="0.6"/>
<line x1="293.31" y1="304" x2="293.31" y2="293.2" stroke="#333" stroke-width="0.6"/>
<text x="0.8" y="338.2" font-size="15.5" text-anchor="start" font-weight="bold" font-style="normal" fill="#000">D</text>
<line x1="28.3" y1="332.7" x2="28.3" y2="435.4" stroke="#3a3a3a" stroke-width="1"/>
<line x1="27" y1="335.26" x2="28.3" y2="335.26" stroke="#3a3a3a" stroke-width="0.8"/>
<line x1="27" y1="340.62" x2="28.3" y2="340.62" stroke="#3a3a3a" stroke-width="0.8"/>
<line x1="27" y1="345.98" x2="28.3" y2="345.98" stroke="#3a3a3a" stroke-width="0.8"/>
<line x1="27" y1="351.34" x2="28.3" y2="351.34" stroke="#3a3a3a" stroke-width="0.8"/>
<line x1="25.8" y1="356.7" x2="28.3" y2="356.7" stroke="#3a3a3a" stroke-width="0.8"/>
<line x1="27" y1="362.06" x2="28.3" y2="362.06" stroke="#3a3a3a" stroke-width="0.8"/>
<line x1="27" y1="367.42" x2="28.3" y2="367.42" stroke="#3a3a3a" stroke-width="0.8"/>
<line x1="27" y1="372.78" x2="28.3" y2="372.78" stroke="#3a3a3a" stroke-width="0.8"/>
<line x1="27" y1="378.14" x2="28.3" y2="378.14" stroke="#3a3a3a" stroke-width="0.8"/>
<line x1="25.8" y1="383.5" x2="28.3" y2="383.5" stroke="#3a3a3a" stroke-width="0.8"/>
<line x1="27" y1="388.86" x2="28.3" y2="388.86" stroke="#3a3a3a" stroke-width="0.8"/>
<line x1="27" y1="394.22" x2="28.3" y2="394.22" stroke="#3a3a3a" stroke-width="0.8"/>
<line x1="27" y1="399.58" x2="28.3" y2="399.58" stroke="#3a3a3a" stroke-width="0.8"/>
<line x1="27" y1="404.94" x2="28.3" y2="404.94" stroke="#3a3a3a" stroke-width="0.8"/>
<line x1="25.8" y1="410.3" x2="28.3" y2="410.3" stroke="#3a3a3a" stroke-width="0.8"/>
<line x1="27" y1="415.66" x2="28.3" y2="415.66" stroke="#3a3a3a" stroke-width="0.8"/>
<line x1="27" y1="421.02" x2="28.3" y2="421.02" stroke="#3a3a3a" stroke-width="0.8"/>
<line x1="27" y1="426.38" x2="28.3" y2="426.38" stroke="#3a3a3a" stroke-width="0.8"/>
<line x1="27" y1="431.74" x2="28.3" y2="431.74" stroke="#3a3a3a" stroke-width="0.8"/>
<text x="25" y="359.7" font-size="8.5" text-anchor="end" font-weight="normal" font-style="normal" fill="#1a1a1a">-30</text>
<text x="25" y="386.5" font-size="8.5" text-anchor="end" font-weight="normal" font-style="normal" fill="#1a1a1a">-40</text>
<text x="25" y="413.3" font-size="8.5" text-anchor="end" font-weight="normal" font-style="normal" fill="#1a1a1a">-50</text>
<text x="9.5" y="382" font-size="10.4" text-anchor="middle" font-weight="normal" font-style="normal" fill="#1a1a1a" transform="rotate(-90 9.5 382)">MP (mV)</text>
<text x="315.75" y="346.7" font-size="10.2" text-anchor="end" font-weight="bold" font-style="italic" fill="#111">EB1 &gt; GFP</text>
<line x1="28.3" y1="448" x2="28.3" y2="481.4" stroke="#3a3a3a" stroke-width="1"/>
<line x1="25.8" y1="477.8" x2="28.3" y2="477.8" stroke="#3a3a3a" stroke-width="1"/>
<text x="23.5" y="480.8" font-size="8.5" text-anchor="end" font-weight="normal" font-style="normal" fill="#1a1a1a">20</text>
<line x1="25.8" y1="464.05" x2="28.3" y2="464.05" stroke="#3a3a3a" stroke-width="1"/>
<text x="23.5" y="467.05" font-size="8.5" text-anchor="end" font-weight="normal" font-style="normal" fill="#1a1a1a">25</text>
<line x1="25.8" y1="450.3" x2="28.3" y2="450.3" stroke="#3a3a3a" stroke-width="1"/>
<text x="23.5" y="453.3" font-size="8.5" text-anchor="end" font-weight="normal" font-style="normal" fill="#1a1a1a">30</text>
<text x="9.5" y="462" font-size="10.3" text-anchor="middle" font-weight="normal" font-style="normal" fill="#1a1a1a" transform="rotate(-90 9.5 462)">Temp (°C)</text>
<line x1="28.3" y1="481.4" x2="312.5" y2="481.4" stroke="#3a3a3a" stroke-width="1"/>
<line x1="28.3" y1="481.4" x2="28.3" y2="483.5" stroke="#3a3a3a" stroke-width="1"/>
<text x="28.3" y="492" font-size="8.5" text-anchor="middle" font-weight="normal" font-style="normal" fill="#1a1a1a">0</text>
<line x1="123.03" y1="481.4" x2="123.03" y2="483.5" stroke="#3a3a3a" stroke-width="1"/>
<text x="123.03" y="492" font-size="8.5" text-anchor="middle" font-weight="normal" font-style="normal" fill="#1a1a1a">50</text>
<line x1="217.77" y1="481.4" x2="217.77" y2="483.5" stroke="#3a3a3a" stroke-width="1"/>
<text x="217.77" y="492" font-size="8.5" text-anchor="middle" font-weight="normal" font-style="normal" fill="#1a1a1a">100</text>
<line x1="312.5" y1="481.4" x2="312.5" y2="483.5" stroke="#3a3a3a" stroke-width="1"/>
<text x="312.5" y="492" font-size="8.5" text-anchor="middle" font-weight="normal" font-style="normal" fill="#1a1a1a">150</text>
<text x="170.8" y="503.8" font-size="10.5" text-anchor="middle" font-weight="normal" font-style="normal" fill="#1a1a1a">Time (s)</text>
<polyline points="28.3,477.6 29.3,477.6 30.3,477.6 31.3,477.6 32.3,477.6 33.3,477.59 34.3,477.59 35.3,477.59 36.3,477.58 37.3,477.58 38.3,477.57 39.3,477.57 40.3,477.56 41.3,477.55 42.3,477.55 43.3,477.54 44.3,477.53 45.3,477.52 46.3,477.51 47.3,477.5 48.3,477.49 49.3,477.48 50.3,477.47 51.3,477.46 52.3,477.45 53.3,477.44 54.3,477.43 55.3,477.42 56.3,477.4 57.3,477.39 58.3,477.38 59.3,477.36 60.3,477.35 61.3,477.34 62.3,477.32 63.3,477.31 64.3,477.29 65.3,477.27 66.3,477.25 67.3,477.23 68.3,477.2 69.3,477.18 70.3,477.14 71.3,477.11 72.3,477.07 73.3,477.04 74.3,477 75.3,476.95 76.3,476.91 77.3,476.86 78.3,476.81 79.3,476.76 80.3,476.71 81.3,476.65 82.3,476.59 83.3,476.54 84.3,476.48 85.3,476.41 86.3,476.35 87.3,476.29 88.3,476.22 89.3,476.16 90.3,476.09 91.3,476.02 92.3,475.95 93.3,475.88 94.3,475.81 95.3,475.73 96.3,475.65 97.3,475.56 98.3,475.46 99.3,475.36 100.3,475.25 101.3,475.13 102.3,475.01 103.3,474.88 104.3,474.75 105.3,474.62 106.3,474.48 107.3,474.33 108.3,474.19 109.3,474.04 110.3,473.89 111.3,473.74 112.3,473.59 113.3,473.44 114.3,473.28 115.3,473.13 116.3,472.98 117.3,472.83 118.3,472.68 119.3,472.53 120.3,472.38 121.3,472.24 122.3,472.1 123.3,471.96 124.3,471.82 125.3,471.69 126.3,471.55 127.3,471.41 128.3,471.27 129.3,471.14 130.3,471 131.3,470.86 132.3,470.72 133.3,470.58 134.3,470.44 135.3,470.3 136.3,470.17 137.3,470.03 138.3,469.89 139.3,469.75 140.3,469.61 141.3,469.47 142.3,469.33 143.3,469.18 144.3,469.04 145.3,468.9 146.3,468.76 147.3,468.62 148.3,468.48 149.3,468.34 150.3,468.2 151.3,468.05 152.3,467.91 153.3,467.77 154.3,467.63 155.3,467.48 156.3,467.34 157.3,467.2 158.3,467.05 159.3,466.91 160.3,466.77 161.3,466.62 162.3,466.48 163.3,466.33 164.3,466.19 165.3,466.05 166.3,465.9 167.3,465.76 168.3,465.61 169.3,465.47 170.3,465.32 171.3,465.17 172.3,465.02 173.3,464.88 174.3,464.73 175.3,464.58 176.3,464.43 177.3,464.28 178.3,464.13 179.3,463.98 180.3,463.83 181.3,463.67 182.3,463.52 183.3,463.37 184.3,463.22 185.3,463.07 186.3,462.91 187.3,462.76 188.3,462.61 189.3,462.46 190.3,462.3 191.3,462.15 192.3,462 193.3,461.85 194.3,461.69 195.3,461.54 196.3,461.39 197.3,461.24 198.3,461.09 199.3,460.94 200.3,460.79 201.3,460.64 202.3,460.49 203.3,460.34 204.3,460.19 205.3,460.04 206.3,459.89 207.3,459.74 208.3,459.59 209.3,459.45 210.3,459.3 211.3,459.16 212.3,459.01 213.3,458.87 214.3,458.72 215.3,458.58 216.3,458.44 217.3,458.3 218.3,458.16 219.3,458.02 220.3,457.87 221.3,457.73 222.3,457.59 223.3,457.44 224.3,457.3 225.3,457.15 226.3,457.01 227.3,456.86 228.3,456.72 229.3,456.57 230.3,456.43 231.3,456.29 232.3,456.15 233.3,456.02 234.3,455.88 235.3,455.75 236.3,455.62 237.3,455.5 238.3,455.37 239.3,455.25 240.3,455.14 241.3,455.03 242.3,454.92 243.3,454.82 244.3,454.72 245.3,454.62 246.3,454.52 247.3,454.43 248.3,454.33 249.3,454.23 250.3,454.14 251.3,454.04 252.3,453.95 253.3,453.86 254.3,453.77 255.3,453.68 256.3,453.6 257.3,453.52 258.3,453.44 259.3,453.36 260.3,453.28 261.3,453.21 262.3,453.15 263.3,453.08 264.3,453.02 265.3,452.97 266.3,452.92 267.3,452.87 268.3,452.83 269.3,452.79 270.3,452.75 271.3,452.72 272.3,452.68 273.3,452.64 274.3,452.61 275.3,452.58 276.3,452.54 277.3,452.51 278.3,452.48 279.3,452.45 280.3,452.43 281.3,452.4 282.3,452.38 283.3,452.36 284.3,452.34 285.3,452.33 286.3,452.32 287.3,452.31 288.3,452.3 289.3,452.3 290.3,452.3 291.3,452.3 292.3,452.3 293.3,452.3 294.3,452.31 295.3,452.31 296.3,452.32 297.3,452.32 298.3,452.33 299.3,452.34 300.3,452.35 301.3,452.36 302.3,452.37 303.3,452.39 304.3,452.4 305.3,452.42 306.3,452.44 307.3,452.46 308.3,452.48 309.3,452.51 310.3,452.53 311.3,452.56 312.3,452.59" fill="none" stroke="#ee1c25" stroke-width="1.5" stroke-linejoin="round"/>
<polyline points="28.5,419.94 28.75,413.6 29,420.49 29.25,413.46 29.5,421.92 29.75,414.92 30,420.05 30.25,414.32 30.5,420.99 30.75,415.82 31,420.84 31.25,415.31 31.5,418.8 31.75,413.58 32,419.3 32.25,413.67 32.5,419.74 32.75,412.43 33,419.53 33.25,413.02 33.5,419.03 33.75,412.96 34,417.87 34.25,413.52 34.5,418.1 34.75,414.71 35,418.23 35.25,414.65 35.5,417.23 35.75,413.13 36,419.62 36.25,414.04 36.5,419.66 36.75,413.26 37,419.79 37.25,413.35 37.5,420.17 37.75,413.27 38,418.12 38.25,412.51 38.5,419.73 38.75,413.15 39,420.34 39.25,414 39.5,421.21 39.75,414.57 40,420.12 40.25,413.11 40.5,419.55 40.75,407.9 41,421.02 41.25,416.16 41.5,421.48 41.75,415.36 42,421.11 42.25,415.9 42.5,422.31 42.75,416.56 43,421.72 43.25,408.21 43.5,422.29 43.75,416.4 44,422.22 44.25,416.23 44.5,424.26 44.75,414.99 45,416.63 45.25,416.87 45.5,424.57 45.75,416.33 46,423.46 46.25,417.9 46.5,424.03 46.75,419.19 47,423.73 47.25,418.2 47.5,424.69 47.75,417.79 48,425.27 48.25,417.71 48.5,427.06 48.75,418.88 49,433.23 49.25,417.96 49.5,428.3 49.75,418.99 50,426.33 50.25,418.35 50.5,424.63 50.75,418.15 51,427.69 51.25,418.96 51.5,425.67 51.75,420.4 52,426.92 52.25,420.67 52.5,425.88 52.75,416.92 53,426.26 53.25,417.73 53.5,432.33 53.75,416.84 54,424.53 54.25,417.57 54.5,424.99 54.75,418.06 55,424.68 55.25,417.96 55.5,424.53 55.75,419.76 56,420.83 56.25,417.66 56.5,426.26 56.75,419.11 57,424.03 57.25,416.23 57.5,423.63 57.75,418.8 58,424.21 58.25,418 58.5,426.15 58.75,417.44 59,423.7 59.25,418.13 59.5,422.83 59.75,416.74 60,424.37 60.25,419.33 60.5,423.29 60.75,415.93 61,422.96 61.25,415.68 61.5,422.08 61.75,415.96 62,423.43 62.25,415.25 62.5,422.61 62.75,414.73 63,421.35 63.25,415.84 63.5,421.2 63.75,416.98 64,421.99 64.25,417.64 64.5,421.95 64.75,417.27 65,422.09 65.25,416.96 65.5,423.85 65.75,416.65 66,423.9 66.25,418.2 66.5,422.4 66.75,418.85 67,421.8 67.25,417.49 67.5,421.54 67.75,416.16 68,422.18 68.25,414.28 68.5,425.41 68.75,414.39 69,421.04 69.25,415.05 69.5,421.91 69.75,416.25 70,423.16 70.25,414.04 70.5,424.1 70.75,411.45 71,424.2 71.25,416.29 71.5,423.14 71.75,416.62 72,423.42 72.25,416.95 72.5,422.79 72.75,414.48 73,422.67 73.25,417.27 73.5,426.93 73.75,416.3 74,426.33 74.25,416.1 74.5,424.91 74.75,417.14 75,424.16 75.25,416.7 75.5,424.4 75.75,417.07 76,425.16 76.25,416.27 76.5,421.13 76.75,417.37 77,423.04 77.25,417.19 77.5,423.11 77.75,418.68 78,422.76 78.25,418.57 78.5,423.75 78.75,416.91 79,422.64 79.25,406.36 79.5,422.65 79.75,414.21 80,422.24 80.25,413.21 80.5,420.34 80.75,413.64 81,420.49 81.25,412 81.5,418.7 81.75,413.74 82,418.6 82.25,415.02 82.5,421.1 82.75,411.4 83,418.68 83.25,411.22 83.5,416.88 83.75,410.49 84,418.15 84.25,410.13 84.5,416.2 84.75,411.11 85,415.54 85.25,408.44 85.5,414.95 85.75,410.49 86,416.36 86.25,409.14 86.5,418.05 86.75,409.03 87,416.16 87.25,409.21 87.5,337.2 87.75,410.34 88,415.86 88.25,410.28 88.5,416.33 88.75,409.77 89,417.39 89.25,411.24 89.5,417.79 89.75,411 90,417.08 90.25,410.19 90.5,415.98 90.75,412.65 91,416.43 91.25,411.93 91.5,418.26 91.75,412.28 92,417.85 92.25,404 92.5,416.96 92.75,411.32 93,417.02 93.25,342.3 93.5,417.85 93.75,412.39 94,416.13 94.25,412.61 94.5,417.2 94.75,411.33 95,417.78 95.25,410.38 95.5,419.64 95.75,412.46 96,418.53 96.25,411.34 96.5,417.57 96.75,412.64 97,418.57 97.25,412.86 97.5,419.29 97.75,413.08 98,419.35 98.25,412.42 98.5,424.11 98.75,413.28 99,421.28 99.25,412.15 99.5,419.32 99.75,410.68 100,419.47 100.25,411.45 100.5,419.75 100.75,412.73 101,420.18 101.25,413.63 101.5,420.36 101.75,414.94 102,422.2 102.25,416.74 102.5,423.52 102.75,417.43 103,424.01 103.25,417.32 103.5,424.79 103.75,419.46 104,423.5 104.25,416.76 104.5,423.5 104.75,415.81 105,422.8 105.25,416.59 105.5,423.92 105.75,419.09 106,423.56 106.25,418.45 106.5,422.36 106.75,418.36 107,424.87 107.25,419.17 107.5,424.25 107.75,417.42 108,425.02 108.25,417.55 108.5,423.3 108.75,415.21 109,423.95 109.25,417.11 109.5,422.54 109.75,416.67 110,422.24 110.25,415.54 110.5,422.84 110.75,415.02 111,421.22 111.25,415.43 111.5,424.78 111.75,415.68 112,420.84 112.25,414.04 112.5,418.88 112.75,411.34 113,421.49 113.25,410.99 113.5,417.47 113.75,410.17 114,416.21 114.25,408.96 114.5,414.37 114.75,406.39 115,415.53 115.25,406.54 115.5,414.66 115.75,407.39 116,415.39 116.25,406.28 116.5,414.29 116.75,407.78 117,414.72 117.25,408.97 117.5,415.75 117.75,409.85 118,414 118.25,408.7 118.5,415.22 118.75,408.28 119,415.05 119.25,407.86 119.5,415.12 119.75,408.01 120,413.65 120.25,402.99 120.5,413.44 120.75,408.54 121,417.42 121.25,408.4 121.5,413.22 121.75,407.07 122,413.82 122.25,405.85 122.5,413.66 122.75,406.66 123,413.54 123.25,407.69 123.5,413.72 123.75,341.94 124,412.77 124.25,409.93 124.5,414.08 124.75,408.61 125,416.33 125.25,411.02 125.5,419.41 125.75,409.6 126,418.13 126.25,408.89 126.5,417.47 126.75,409.05 127,415.87 127.25,408.21 127.5,415.26 127.75,408.86 128,414.29 128.25,410.3 128.5,414.67 128.75,409.38 129,415.31 129.25,409.79 129.5,414.6 129.75,411.23 130,416.8 130.25,410.67 130.5,418.77 130.75,409.79 131,416.99 131.25,409.5 131.5,344.16 131.75,411.95 132,419.63 132.25,411.61 132.5,419.08 132.75,411.85 133,417.78 133.25,411.36 133.5,343.21 133.75,412.02 134,418.71 134.25,412.69 134.5,420.37 134.75,411.94 135,418.35 135.25,411.09 135.5,418.79 135.75,413.57 136,418.25 136.25,414.46 136.5,420.42 136.75,415.44 137,418.82 137.25,415.13 137.5,421.21 137.75,415.76 138,422.05 138.25,415.78 138.5,433.58 138.75,415.99 139,421.73 139.25,416.39 139.5,427.57 139.75,414.13 140,421.7 140.25,416.19 140.5,420.66 140.75,415.05 141,420.56 141.25,412.75 141.5,420.83 141.75,412.31 142,422.56 142.25,413.47 142.5,421.38 142.75,413.36 143,418.14 143.25,413.19 143.5,417.96 143.75,413.08 144,417.03 144.25,414.77 144.5,418.17 144.75,414.58 145,417.54 145.25,411.92 145.5,419.57 145.75,412.2 146,420.53 146.25,410.94 146.5,421.65 146.75,412.37 147,421.47 147.25,411.89 147.5,419.9 147.75,412.85 148,418.47 148.25,412.24 148.5,419.6 148.75,413.74 149,420.51 149.25,413.94 149.5,419.66 149.75,415.62 150,420.56 150.25,412.25 150.5,419.1 150.75,412.72 151,418.9 151.25,412.34 151.5,418.85 151.75,412.31 152,417.69 152.25,409.75 152.5,415.63 152.75,409.66 153,415.03 153.25,408.27 153.5,341.93 153.75,406.84 154,414.6 154.25,405.6 154.5,415.04 154.75,404.88 155,414.87 155.25,404.27 155.5,413.18 155.75,403.45 156,412.81 156.25,404.99 156.5,411.89 156.75,404.41 157,411.59 157.25,403.55 157.5,411.24 157.75,403.3 158,411.22 158.25,341.45 158.5,410.29 158.75,404.34 159,412.64 159.25,402.75 159.5,411.72 159.75,405.33 160,342.21 160.25,404.86 160.5,413.5 160.75,403.18 161,413.24 161.25,404.23 161.5,413.75 161.75,406.11 162,411.86 162.25,405.87 162.5,411.63 162.75,403.57 163,409.51 163.25,343.63 163.5,409.71 163.75,400.67 164,413.18 164.25,400.69 164.5,409.2 164.75,343.26 165,407.14 165.25,401.34 165.5,410.32 165.75,401.02 166,410.28 166.25,402.71 166.5,341.31 166.75,403.97 167,410.69 167.25,403.26 167.5,409.68 167.75,405.19 168,410.39 168.25,403.15 168.5,409.32 168.75,341.98 169,409.83 169.25,402.54 169.5,411.26 169.75,403.48 170,409.79 170.25,342.46 170.5,411.04 170.75,404.03 171,409.98 171.25,404.13 171.5,410.25 171.75,403.95 172,341.59 172.25,402.14 172.5,409.8 172.75,402.83 173,408.98 173.25,403.51 173.5,407.9 173.75,403.4 174,342.08 174.25,402.58 174.5,406.34 174.75,403.3 175,408.02 175.25,403.28 175.5,340.73 175.75,344.83 176,416.64 176.25,342 176.5,417.05 176.75,347.75 177,417.55 177.25,344.96 177.5,415.82 177.75,341.24 178,415.43 178.25,346.1 178.5,414.09 178.75,346.02 179,416.95 179.25,346.45 179.5,415.99 179.75,347.39 180,416.03 180.25,347.36 180.5,409.29 180.75,345 181,416.11 181.25,344.03 181.5,415.22 181.75,345.44 182,407.03 182.25,347.09 182.5,403.15 182.75,344.63 183,393.08 183.25,345.41 183.5,390.71 183.75,350.16 184,390.37 184.25,348.14 184.5,389.33 184.75,355.04 185,383.87 185.25,353.17 185.5,384.24 185.75,356.67 186,358 186.25,379.75 186.5,359 186.75,379.25 187,360 187.25,378.75 187.5,361 187.75,378.25 188,362 188.25,377.75 188.5,362.3 188.75,377.25 189,362.6 189.25,376.75 189.5,362.9 189.75,376.25 190,363.2 190.25,375.83 190.5,363.5 190.75,375.5 191,363.8 191.25,375.17 191.5,364.1 191.75,374.83 192,364.4 192.25,374.5 192.5,364.7 192.75,374.17 193,371.62 193.25,363.45 193.5,371.28 193.75,363.82 194,371.39 194.25,365.98 194.5,371.35 194.75,365.1 195,370.15 195.25,365.04 195.5,371.94 195.75,363.95 196,372.47 196.25,365.45 196.5,374.15 196.75,363.95 197,374.47 197.25,363.99 197.5,371.24 197.75,364 198,371.96 198.25,362.33 198.5,373.34 198.75,364.13 199,372.82 199.25,366.26 199.5,370.95 199.75,364.09 200,371.72 200.25,365.41 200.5,371.76 200.75,368.38 201,371.32 201.25,365.35 201.5,370.9 201.75,364.99 202,370.32 202.25,364.68 202.5,371.2 202.75,364.22 203,371.09 203.25,363.58 203.5,369.78 203.75,361.96 204,369.67 204.25,361.15 204.5,369.39 204.75,361.88 205,371.03 205.25,364.19 205.5,370.87 205.75,363.16 206,369.52 206.25,362.76 206.5,370.84 206.75,363.75 207,370.82 207.25,363.03 207.5,369.98 207.75,364.36 208,369.59 208.25,362.66 208.5,369.91 208.75,362.38 209,367.87 209.25,361.13 209.5,367.88 209.75,360.61 210,366.61 210.25,354.69 210.5,367.86 210.75,361.32 211,368.91 211.25,361.02 211.5,370.34 211.75,362.26 212,371.51 212.25,363.84 212.5,372.37 212.75,364.08 213,371.43 213.25,366.34 213.5,373.53 213.75,366.49 214,373.65 214.25,365.34 214.5,372.68 214.75,366.09 215,372.32 215.25,363.69 215.5,373.13 215.75,364.08 216,371.03 216.25,364.54 216.5,369.16 216.75,362.91 217,370.55 217.25,363.19 217.5,371.72 217.75,366.01 218,373.34 218.25,367.67 218.5,375.34 218.75,369.63 219,377.44 219.25,371.38 219.5,380.9 219.75,375.11 220,382.44 220.25,374.85 220.5,382.49 220.75,374.21 221,381.52 221.25,375.19 221.5,382.47 221.75,375.25 222,384.19 222.25,376.02 222.5,383.08 222.75,376.41 223,383.52 223.25,374.96 223.5,381.82 223.75,377.87 224,382.87 224.25,377.97 224.5,384.88 224.75,377.01 225,385.55 225.25,375.55 225.5,385.65 225.75,378.31 226,384.94 226.25,379.05 226.5,384.2 226.75,379.79 227,387.08 227.25,380.21 227.5,379.71 227.75,380.69 228,388.18 228.25,379.72 228.5,386 228.75,379.14 229,386.61 229.25,374.71 229.5,386.52 229.75,380 230,386.18 230.25,375.75 230.5,386.82 230.75,374.22 231,385.73 231.25,375.79 231.5,385.64 231.75,377.55 232,383.93 232.25,377.52 232.5,384.84 232.75,377.64 233,386.69 233.25,379.31 233.5,387.34 233.75,379.79 234,385.03 234.25,379.79 234.5,394.57 234.75,378.82 235,388.01 235.25,382.17 235.5,387.82 235.75,382.21 236,386.89 236.25,382.99 236.5,382.2 236.75,381.83 237,388.83 237.25,380.49 237.5,387.89 237.75,377.89 238,386.53 238.25,381.9 238.5,386.91 238.75,381.75 239,387.66 239.25,381.9 239.5,389.34 239.75,382.87 240,389.94 240.25,385.1 240.5,389.55 240.75,385.75 241,390.56 241.25,386.66 241.5,391.45 241.75,385.58 242,392.16 242.25,386.71 242.5,391.36 242.75,386.85 243,392.22 243.25,387.52 243.5,391.99 243.75,385.8 244,392.51 244.25,384.55 244.5,391.54 244.75,382.82 245,392.17 245.25,383.03 245.5,392.11 245.75,382.1 246,392.27 246.25,384.11 246.5,391.02 246.75,385.07 247,391.46 247.25,384.14 247.5,393.32 247.75,383.99 248,394.16 248.25,385.13 248.5,394.31 248.75,386.63 249,394.48 249.25,388.41 249.5,393.23 249.75,388.68 250,382 250.25,390.01 250.5,396.55 250.75,389.88 251,397.73 251.25,389.36 251.5,395.15 251.75,388.47 252,397.7 252.25,389.85 252.5,397.47 252.75,389.38 253,396.83 253.25,386.93 253.5,395.43 253.75,385.9 254,394.63 254.25,388.16 254.5,396.3 254.75,387.91 255,393.67 255.25,389.26 255.5,394.81 255.75,388.25 256,394.51 256.25,388.87 256.5,395.57 256.75,390.57 257,395.4 257.25,388.95 257.5,395.45 257.75,388.32 258,395.12 258.25,389.24 258.5,393.92 258.75,388.68 259,394.67 259.25,387.81 259.5,395.36 259.75,387.5 260,394.39 260.25,386 260.5,394.47 260.75,388.33 261,395.88 261.25,388.46 261.5,394.5 261.75,388.51 262,395.43 262.25,387.87 262.5,396.37 262.75,388.76 263,396.14 263.25,389.54 263.5,397.87 263.75,385.42 264,397.55 264.25,387.89 264.5,396.86 264.75,387.89 265,394.67 265.25,390.3 265.5,399.95 265.75,390.54 266,392.65 266.25,388.29 266.5,395.13 266.75,388.52 267,396.07 267.25,390.55 267.5,397.44 267.75,388.85 268,399.08 268.25,391.51 268.5,400.1 268.75,391.24 269,399.99 269.25,393.09 269.5,398.6 269.75,385.35 270,401.54 270.25,391.55 270.5,399.29 270.75,392.35 271,399.41 271.25,388.96 271.5,398.1 271.75,390.33 272,399.24 272.25,391.52 272.5,398.33 272.75,392.93 273,399.82 273.25,391.8 273.5,401.7 273.75,394.13 274,400.83 274.25,394.23 274.5,402.99 274.75,395.76 275,385 275.25,396.59 275.5,405.24 275.75,394.46 276,403.97 276.25,396.66 276.5,402.22 276.75,389.13 277,403.84 277.25,395.23 277.5,399.83 277.75,394.5 278,399.69 278.25,392.36 278.5,399.35 278.75,393.81 279,401.98 279.25,394.38 279.5,403.18 279.75,393.06 280,401.61 280.25,394.16 280.5,403.07 280.75,395.94 281,402.21 281.25,395.25 281.5,401.89 281.75,394.47 282,404.82 282.25,395.87 282.5,405.7 282.75,395.1 283,405.25 283.25,397.62 283.5,402.83 283.75,395.36 284,403.04 284.25,394.72 284.5,404.43 284.75,397.13 285,406.31 285.25,396.37 285.5,403.69 285.75,397.24 286,404.69 286.25,396.62 286.5,405.16 286.75,396.55 287,403.96 287.25,396.63 287.5,402.4 287.75,395.21 288,407.21 288.25,393.08 288.5,404.65 288.75,393.39 289,404.45 289.25,395.57 289.5,403.23 289.75,397.07 290,405.77 290.25,398.09 290.5,406.22 290.75,398.05 291,373.75 291.25,398.13 291.5,406.73 291.75,399.78 292,404.06 292.25,400.81 292.5,406.98 292.75,399.05 293,406.62 293.25,399.75 293.5,408.74 293.75,397.33 294,402.36 294.25,398.86 294.5,404.85 294.75,395.81 295,406.44 295.25,398.08 295.5,406.6 295.75,395.42 296,406.25 296.25,395.89 296.5,406.6 296.75,400.17 297,406.06 297.25,401.44 297.5,407.42 297.75,401.14 298,407.53 298.25,400.98 298.5,407.49 298.75,400.36 299,406.63 299.25,400.62 299.5,407.29 299.75,398.2 300,408.66 300.25,400.49 300.5,408.38 300.75,399.37 301,409.45 301.25,395.1 301.5,407.08 301.75,399.2 302,406.3 302.25,400.08 302.5,407.43 302.75,399.54 303,407.41 303.25,399.03 303.5,408.6 303.75,399.94 304,407.83 304.25,400.27 304.5,407.31 304.75,398.88 305,407.99 305.25,401.66 305.5,408.88 305.75,402.17 306,407.86 306.25,399.99 306.5,407.83 306.75,401.18 307,410.6 307.25,400.87 307.5,412.38 307.75,402.29 308,410.97 308.25,403.07 308.5,409.54 308.75,411.16 309,409.9 309.25,401.96 309.5,410.07 309.75,401.78 310,409.66 310.25,405.72 310.5,408.37 310.75,403.12 311,410.27 311.25,401.88 311.5,410.5 311.75,401.24 312,390 312.25,402.69" fill="none" stroke="#111" stroke-width="0.75" stroke-linejoin="round"/>
<text x="340" y="217.7" font-size="15.5" text-anchor="start" font-weight="bold" font-style="normal" fill="#000">E</text>
<rect x="426.5" y="225.9" width="240.1" height="2.8" fill="#000"/>
<text x="429" y="221.8" font-size="11.9" text-anchor="start" font-weight="normal" font-style="normal" fill="#111">bath applied picrotoxin 250 μM</text>
<text x="614.8" y="222.6" font-size="10.26" text-anchor="start" font-weight="bold" font-style="italic" fill="#111">EB1 &gt; GFP</text>
<line x1="386.5" y1="236.8" x2="386.5" y2="333.75" stroke="#3a3a3a" stroke-width="1"/>
<line x1="385.2" y1="238.14" x2="386.5" y2="238.14" stroke="#3a3a3a" stroke-width="0.8"/>
<line x1="384" y1="242.8" x2="386.5" y2="242.8" stroke="#3a3a3a" stroke-width="0.8"/>
<line x1="385.2" y1="247.46" x2="386.5" y2="247.46" stroke="#3a3a3a" stroke-width="0.8"/>
<line x1="385.2" y1="252.12" x2="386.5" y2="252.12" stroke="#3a3a3a" stroke-width="0.8"/>
<line x1="385.2" y1="256.78" x2="386.5" y2="256.78" stroke="#3a3a3a" stroke-width="0.8"/>
<line x1="385.2" y1="261.44" x2="386.5" y2="261.44" stroke="#3a3a3a" stroke-width="0.8"/>
<line x1="384" y1="266.1" x2="386.5" y2="266.1" stroke="#3a3a3a" stroke-width="0.8"/>
<line x1="385.2" y1="270.76" x2="386.5" y2="270.76" stroke="#3a3a3a" stroke-width="0.8"/>
<line x1="385.2" y1="275.42" x2="386.5" y2="275.42" stroke="#3a3a3a" stroke-width="0.8"/>
<line x1="385.2" y1="280.08" x2="386.5" y2="280.08" stroke="#3a3a3a" stroke-width="0.8"/>
<line x1="385.2" y1="284.74" x2="386.5" y2="284.74" stroke="#3a3a3a" stroke-width="0.8"/>
<line x1="384" y1="289.4" x2="386.5" y2="289.4" stroke="#3a3a3a" stroke-width="0.8"/>
<line x1="385.2" y1="294.06" x2="386.5" y2="294.06" stroke="#3a3a3a" stroke-width="0.8"/>
<line x1="385.2" y1="298.72" x2="386.5" y2="298.72" stroke="#3a3a3a" stroke-width="0.8"/>
<line x1="385.2" y1="303.38" x2="386.5" y2="303.38" stroke="#3a3a3a" stroke-width="0.8"/>
<line x1="385.2" y1="308.04" x2="386.5" y2="308.04" stroke="#3a3a3a" stroke-width="0.8"/>
<line x1="384" y1="312.7" x2="386.5" y2="312.7" stroke="#3a3a3a" stroke-width="0.8"/>
<line x1="385.2" y1="317.36" x2="386.5" y2="317.36" stroke="#3a3a3a" stroke-width="0.8"/>
<line x1="385.2" y1="322.02" x2="386.5" y2="322.02" stroke="#3a3a3a" stroke-width="0.8"/>
<line x1="385.2" y1="326.68" x2="386.5" y2="326.68" stroke="#3a3a3a" stroke-width="0.8"/>
<line x1="385.2" y1="331.34" x2="386.5" y2="331.34" stroke="#3a3a3a" stroke-width="0.8"/>
<text x="383" y="245.7" font-size="8.1" text-anchor="end" font-weight="normal" font-style="normal" fill="#1a1a1a">-20</text>
<text x="383" y="269" font-size="8.1" text-anchor="end" font-weight="normal" font-style="normal" fill="#1a1a1a">-30</text>
<text x="383" y="292.3" font-size="8.1" text-anchor="end" font-weight="normal" font-style="normal" fill="#1a1a1a">-40</text>
<text x="383" y="315.6" font-size="8.1" text-anchor="end" font-weight="normal" font-style="normal" fill="#1a1a1a">-50</text>
<text x="366" y="285.6" font-size="10.4" text-anchor="middle" font-weight="normal" font-style="normal" fill="#1a1a1a" transform="rotate(-90 366 285.6)">MP (mV)</text>
<line x1="386.5" y1="333.75" x2="668" y2="333.75" stroke="#3a3a3a" stroke-width="1"/>
<line x1="386.5" y1="333.75" x2="386.5" y2="331.5" stroke="#3a3a3a" stroke-width="0.9"/>
<line x1="410.6" y1="333.75" x2="410.6" y2="331.5" stroke="#3a3a3a" stroke-width="0.9"/>
<line x1="434.7" y1="333.75" x2="434.7" y2="331.5" stroke="#3a3a3a" stroke-width="0.9"/>
<line x1="458.8" y1="333.75" x2="458.8" y2="331.5" stroke="#3a3a3a" stroke-width="0.9"/>
<line x1="482.9" y1="333.75" x2="482.9" y2="331.5" stroke="#3a3a3a" stroke-width="0.9"/>
<line x1="507" y1="333.75" x2="507" y2="331.5" stroke="#3a3a3a" stroke-width="0.9"/>
<line x1="531.1" y1="333.75" x2="531.1" y2="331.5" stroke="#3a3a3a" stroke-width="0.9"/>
<line x1="555.2" y1="333.75" x2="555.2" y2="331.5" stroke="#3a3a3a" stroke-width="0.9"/>
<line x1="579.3" y1="333.75" x2="579.3" y2="331.5" stroke="#3a3a3a" stroke-width="0.9"/>
<line x1="603.4" y1="333.75" x2="603.4" y2="331.5" stroke="#3a3a3a" stroke-width="0.9"/>
<line x1="627.5" y1="333.75" x2="627.5" y2="331.5" stroke="#3a3a3a" stroke-width="0.9"/>
<line x1="651.6" y1="333.75" x2="651.6" y2="331.5" stroke="#3a3a3a" stroke-width="0.9"/>
<text x="386.5" y="345.6" font-size="8.4" text-anchor="middle" font-weight="normal" font-style="normal" fill="#1a1a1a">5</text>
<text x="507" y="345.6" font-size="8.4" text-anchor="middle" font-weight="normal" font-style="normal" fill="#1a1a1a">10</text>
<text x="627.5" y="345.6" font-size="8.4" text-anchor="middle" font-weight="normal" font-style="normal" fill="#1a1a1a">15</text>
<text x="526" y="359.4" font-size="10.1" text-anchor="middle" font-weight="normal" font-style="normal" fill="#1a1a1a">Time (min)</text>
<line x1="386.5" y1="381" x2="456" y2="327" stroke="#222" stroke-width="1.05" stroke-dasharray="6.5,4"/>
<line x1="466" y1="327" x2="668" y2="381" stroke="#222" stroke-width="1.05" stroke-dasharray="6.5,4"/>
<polyline points="386.7,325.23 386.95,315.9 387.2,325.03 387.45,316.12 387.7,324.28 387.95,317.39 388.2,322.78 388.45,315.49 388.7,323.44 388.95,316.54 389.2,323.25 389.45,316.4 389.7,323.89 389.95,316.17 390.2,324.59 390.45,317.45 390.7,325.51 390.95,316.02 391.2,325.43 391.45,316.48 391.7,326.29 391.95,313.72 392.2,325.26 392.45,316 392.7,324.24 392.95,317.38 393.2,324.31 393.45,319 393.7,322.82 393.95,318.88 394.2,321.92 394.45,318.13 394.7,323.83 394.95,316.39 395.2,307.2 395.45,315.47 395.7,325.17 395.95,315.35 396.2,323.73 396.45,317.89 396.7,324.74 396.95,317.83 397.2,325.94 397.45,315.79 397.7,323.92 397.95,316.28 398.2,325.39 398.45,314.52 398.7,325.01 398.95,315.9 399.2,323.19 399.45,315.01 399.7,323.82 399.95,315.08 400.2,326.75 400.45,314.55 400.7,325.47 400.95,315.5 401.2,325.87 401.45,316.15 401.7,324.05 401.95,316.23 402.2,323.96 402.45,317.45 402.7,322.38 402.95,315.95 403.2,324.19 403.45,316 403.7,325.61 403.95,315.04 404.2,324.59 404.45,318.05 404.7,324.3 404.95,317.1 405.2,325.66 405.45,317.09 405.7,324.65 405.95,316.62 406.2,325.33 406.45,315.45 406.7,324.45 406.95,315.23 407.2,325.17 407.45,314.63 407.7,324.39 407.95,316.06 408.2,323.22 408.45,314.62 408.7,321.02 408.95,316.22 409.2,322.26 409.45,316.02 409.7,323.71 409.95,314.69 410.2,325.17 410.45,315.8 410.7,324.4 410.95,316.42 411.2,324.55 411.45,316.46 411.7,323.29 411.95,314.54 412.2,324.48 412.45,315.59 412.7,324.4 412.95,313.3 413.2,325.12 413.45,313.8 413.7,325.61 413.95,317.27 414.2,325.71 414.45,315.18 414.7,324.26 414.95,317.42 415.2,325.58 415.45,316.35 415.7,326.64 415.95,315.23 416.2,324.37 416.45,313.26 416.7,323.25 416.95,314.52 417.2,323.84 417.45,314.48 417.7,322.79 417.95,315.86 418.2,324.77 418.45,314.38 418.7,324.49 418.95,313.66 419.2,324.66 419.45,314.7 419.7,324.48 419.95,316.38 420.2,323 420.45,314.84 420.7,324.66 420.95,314.24 421.2,322.24 421.45,315.18 421.7,322.77 421.95,315.45 422.2,320.86 422.45,315.79 422.7,322.23 422.95,314.86 423.2,321.42 423.45,314.12 423.7,321.51 423.95,314.92 424.2,320.83 424.45,315.4 424.7,319.84 424.95,314.23 425.2,322.1 425.45,314.2 425.7,322.66 425.95,312.42 426.2,324.11 426.45,313.22 426.7,323.94 426.95,311.96 427.2,321.85 427.45,313.98 427.7,321.75 427.95,314.68 428.2,321.29 428.45,313.52 428.7,321.15 428.95,313.9 429.2,323.39 429.45,314.19 429.7,321.37 429.95,314.74 430.2,320.41 430.45,315.05 430.7,321.53 430.95,312.64 431.2,321.91 431.45,312.07 431.7,321.03 431.95,311.82 432.2,320.84 432.45,312.6 432.7,320.55 432.95,313.01 433.2,320.53 433.45,314.65 433.7,320.28 433.95,315.77 434.2,321.06 434.45,315.67 434.7,322.91 434.95,315.59 435.2,323.74 435.45,315.54 435.7,323.94 435.95,315.66 436.2,322.86 436.45,315.64 436.7,324.02 436.95,315.53 437.2,324.55 437.45,314.99 437.7,326.5 437.95,314.55 438.2,324.19 438.45,316.14 438.7,325.78 438.95,317.25 439.2,323.68 439.45,316.94 439.7,324.26 439.95,317.65 440.2,325.05 440.45,317.48 440.7,325.97 440.95,316.14 441.2,327 441.45,314.16 441.7,326.76 441.95,317.14 442.2,325.32 442.45,316.57 442.7,324.82 442.95,317.9 443.2,324.35 443.45,316.87 443.7,325.2 443.95,317.53 444.2,325.12 444.45,317.26 444.7,325.3 444.95,315.81 445.2,322.82 445.45,315.93 445.7,324.3 445.95,315.81 446.2,322.19 446.45,316.55 446.7,322.5 446.95,315.62 447.2,323.16 447.45,314.08 447.7,322.78 447.95,316.78 448.2,323.37 448.45,314.22 448.7,323.6 448.95,314.31 449.2,323.33 449.45,314.96 449.7,321.72 449.95,315.61 450.2,323.41 450.45,313.69 450.7,321.48 450.95,315.97 451.2,305.3 451.45,313.47 451.7,323.26 451.95,314.69 452.2,321.32 452.45,313.86 452.7,321.66 452.95,314.34 453.2,321.42 453.45,313.06 453.7,321.05 453.95,314.6 454.2,321 454.45,314.54 454.7,317.79 454.95,311.65 455.2,318.05 455.45,310.14 455.7,317.29 455.95,308.19 456.2,318.23 456.45,308.54 456.7,317.06 456.95,309.03 457.2,317.76 457.45,309.47 457.7,261.86 457.95,308.4 458.2,241.5 458.45,304.4 458.7,242.25 458.95,300.4 459.2,243 459.45,295.5 459.7,249.87 459.95,290.5 460.2,255.2 460.45,291.8 460.7,258.2 460.95,293.8 461.2,261 461.45,295.8 461.7,263.5 461.95,297.8 462.2,279.15 462.45,298.66 462.7,269.06 462.95,293.67 463.2,273.54 463.45,294.62 463.7,273.69 463.95,301.04 464.2,276.24 464.45,300.57 464.7,275.56 464.95,299.38 465.2,281.38 465.45,301.51 465.7,283.83 465.95,303.89 466.2,284.48 466.45,304.08 466.7,280.08 466.95,306.22 467.2,281.71 467.45,297.87 467.7,283.25 467.95,271 468.2,288.81 468.45,304.32 468.7,284.59 468.95,310.06 469.2,288.86 469.45,308.98 469.7,292.96 469.95,273.03 470.2,294.98 470.45,303.98 470.7,270.92 470.95,303.61 471.2,289.11 471.45,305.2 471.7,289.02 471.95,305.88 472.2,289.37 472.45,307.16 472.7,293.79 472.95,309.81 473.2,291.24 473.45,309.65 473.7,289.6 473.95,277.85 474.2,289.77 474.45,311.44 474.7,271.57 474.95,277.87 475.2,293.4 475.45,266.3 475.7,289.95 475.95,311.95 476.2,291.71 476.45,307.34 476.7,289.77 476.95,308.91 477.2,290.97 477.45,275.32 477.7,275.82 477.95,312.17 478.2,289.48 478.45,311.18 478.7,293.43 478.95,310.97 479.2,292.9 479.45,277.22 479.7,291.38 479.95,264.5 480.2,291.79 480.45,309.42 480.7,294.34 480.95,313.81 481.2,295.39 481.45,276.81 481.7,295.09 481.95,309.66 482.2,296.75 482.45,308.9 482.7,292.47 482.95,310.93 483.2,291.52 483.45,310.35 483.7,293.14 483.95,309.98 484.2,293.49 484.45,277.52 484.7,296.63 484.95,312.88 485.2,295.88 485.45,311.47 485.7,270 485.95,272.82 486.2,294.04 486.45,313.16 486.7,294.12 486.95,312.49 487.2,294.75 487.45,307.82 487.7,292.81 487.95,311.54 488.2,297.81 488.45,277.19 488.7,283.3 488.95,307.17 489.2,269 489.45,310.86 489.7,293.54 489.95,307.25 490.2,295.05 490.45,311.3 490.7,295.2 490.95,282.49 491.2,293.15 491.45,308.71 491.7,295.51 491.95,307.1 492.2,293.5 492.45,308.6 492.7,291.39 492.95,276.89 493.2,295.07 493.45,307.68 493.7,293.96 493.95,310.65 494.2,294.99 494.45,305.76 494.7,293.67 494.95,305.5 495.2,291.02 495.45,310.1 495.7,294.62 495.95,273.8 496.2,283.53 496.45,303.91 496.7,274.28 496.95,304.6 497.2,289.9 497.45,307.48 497.7,292.78 497.95,305.89 498.2,291.17 498.45,275.39 498.7,295.62 498.95,306.16 499.2,292.63 499.45,302.03 499.7,291.62 499.95,302.25 500.2,242.7 500.45,276 500.7,289.86 500.95,303.5 501.2,293.24 501.45,306.5 501.7,292.8 501.95,306.4 502.2,289.31 502.45,306.39 502.7,289.63 502.95,304.87 503.2,276.13 503.45,302.23 503.7,294.71 503.95,305.85 504.2,267.2 504.45,306.12 504.7,294.06 504.95,306.36 505.2,288.61 505.45,308.15 505.7,293.84 505.95,275.44 506.2,292.76 506.45,304.65 506.7,290.28 506.95,308.6 507.2,292.93 507.45,306 507.7,288.09 507.95,307.42 508.2,291.43 508.45,302.85 508.7,290.09 508.95,261.7 509.2,292.18 509.45,303.03 509.7,288.28 509.95,305.57 510.2,293.38 510.45,307.67 510.7,290.46 510.95,305.06 511.2,281.26 511.45,301.46 511.7,276.21 511.95,303.15 512.2,289.99 512.45,305.66 512.7,289.89 512.95,304.21 513.2,292.47 513.45,304.72 513.7,287.4 513.95,299.94 514.2,289.34 514.45,302.21 514.7,293.09 514.95,302.1 515.2,293.64 515.45,267.2 515.7,288.68 515.95,302.68 516.2,289.21 516.45,306.24 516.7,291.14 516.95,302.78 517.2,286.97 517.45,303.17 517.7,294.04 517.95,299.4 518.2,289.26 518.45,301.1 518.7,290.78 518.95,274.79 519.2,288.97 519.45,300.96 519.7,289.36 519.95,303.59 520.2,290.77 520.45,304.92 520.7,289.44 520.95,299.09 521.2,288.08 521.45,297.86 521.7,290.74 521.95,302.23 522.2,276.55 522.45,301.03 522.7,281.98 522.95,302.25 523.2,286.34 523.45,300.49 523.7,289.92 523.95,274.93 524.2,289.59 524.45,300.84 524.7,288.68 524.95,300.1 525.2,286.85 525.45,300.49 525.7,289.5 525.95,299.48 526.2,280.59 526.45,297.67 526.7,288.29 526.95,299.87 527.2,286.06 527.45,301.46 527.7,290.52 527.95,300.24 528.2,285.31 528.45,295.74 528.7,290.43 528.95,298.2 529.2,286.45 529.45,302.07 529.7,287.45 529.95,299.29 530.2,286.33 530.45,298.65 530.7,247.7 530.95,299.87 531.2,289.46 531.45,295.04 531.7,282.41 531.95,283.18 532.2,286.39 532.45,279.81 532.7,281.16 532.95,295.38 533.2,286.59 533.45,298.73 533.7,289.82 533.95,297.83 534.2,287.68 534.45,297.3 534.7,283.2 534.95,293.82 535.2,287.65 535.45,298.68 535.7,278.29 535.95,296.86 536.2,284.88 536.45,298.86 536.7,284.43 536.95,296.3 537.2,284.96 537.45,296.43 537.7,285.34 537.95,299 538.2,284.28 538.45,296.48 538.7,283.82 538.95,297.23 539.2,283.81 539.45,295.58 539.7,286.39 539.95,297.6 540.2,286.29 540.45,285.25 540.7,286.36 540.95,297.54 541.2,284.11 541.45,291.11 541.7,285.83 541.95,292.58 542.2,252 542.45,296.33 542.7,284.46 542.95,296.91 543.2,284.83 543.45,278.52 543.7,286.67 543.95,294.07 544.2,286.74 544.45,297.11 544.7,283.81 544.95,296.89 545.2,284.9 545.45,295.51 545.7,286.87 545.95,292.27 546.2,285.61 546.45,295.56 546.7,286.64 546.95,296.65 547.2,287.35 547.45,293.64 547.7,286.32 547.95,295.95 548.2,289.75 548.45,293.51 548.7,285.62 548.95,294.4 549.2,284.39 549.45,296.53 549.7,287.68 549.95,294.43 550.2,287.9 550.45,294.96 550.7,286.49 550.95,279.48 551.2,283.82 551.45,278.79 551.7,284.52 551.95,295.6 552.2,285.24 552.45,293.99 552.7,286.48 552.95,294.85 553.2,286.31 553.45,293.23 553.7,284.09 553.95,294.76 554.2,286.92 554.45,292.21 554.7,285.13 554.95,293.03 555.2,284.84 555.45,270.5 555.7,284.05 555.95,290.25 556.2,281.42 556.45,293.48 556.7,284.5 556.95,294.78 557.2,287.19 557.45,294.05 557.7,284.61 557.95,293.37 558.2,288.36 558.45,292.96 558.7,284.32 558.95,292.77 559.2,283.42 559.45,292 559.7,287.19 559.95,295.33 560.2,284.84 560.45,293.55 560.7,281.1 560.95,295.66 561.2,287.93 561.45,294.01 561.7,286.75 561.95,293.98 562.2,284.85 562.45,293.05 562.7,288.63 562.95,292.62 563.2,284.69 563.45,293.51 563.7,286.78 563.95,291.79 564.2,285.22 564.45,294.06 564.7,285.53 564.95,292.8 565.2,285.2 565.45,294.2 565.7,285.77 565.95,296.69 566.2,288.94 566.45,295.01 566.7,286.45 566.95,295.61 567.2,288.71 567.45,293.66 567.7,287.18 567.95,295.73 568.2,285.08 568.45,294.8 568.7,287.05 568.95,295.73 569.2,286.09 569.45,293.75 569.7,286.9 569.95,293.53 570.2,287.48 570.45,294.83 570.7,287.75 570.95,294.08 571.2,286.91 571.45,294.53 571.7,285.73 571.95,295.03 572.2,286.04 572.45,294.7 572.7,287.02 572.95,295.52 573.2,285.43 573.45,292.9 573.7,286.31 573.95,293.53 574.2,287.86 574.45,294.34 574.7,289.07 574.95,294.95 575.2,285.27 575.45,293.57 575.7,287.72 575.95,292.36 576.2,288.32 576.45,291.75 576.7,285.98 576.95,294.86 577.2,286 577.45,295.58 577.7,288.79 577.95,293.32 578.2,285.44 578.45,294.99 578.7,288.54 578.95,294.33 579.2,287 579.45,294.57 579.7,287.32 579.95,293.88 580.2,284.82 580.45,294.63 580.7,289.84 580.95,296.19 581.2,286.65 581.45,293.15 581.7,286.8 581.95,293.83 582.2,288.58 582.45,295.49 582.7,288.76 582.95,295.46 583.2,288.7 583.45,293.32 583.7,286.63 583.95,295.5 584.2,287.67 584.45,296.26 584.7,286.81 584.95,293.8 585.2,287.47 585.45,293.26 585.7,288.6 585.95,296.05 586.2,288.33 586.45,296.24 586.7,290.11 586.95,295.27 587.2,289.79 587.45,294 587.7,289.16 587.95,292.75 588.2,287.43 588.45,292.54 588.7,286.91 588.95,291.76 589.2,287.71 589.45,296.22 589.7,288.61 589.95,295.98 590.2,286.5 590.45,296.87 590.7,287.33 590.95,293.62 591.2,287.53 591.45,295.3 591.7,286.95 591.95,294.96 592.2,287.25 592.45,294.96 592.7,286.59 592.95,295.95 593.2,287.5 593.45,293.46 593.7,287.46 593.95,294.76 594.2,288.6 594.45,294.8 594.7,286.86 594.95,296.65 595.2,290.95 595.45,296.09 595.7,285.97 595.95,296.02 596.2,290.87 596.45,295.08 596.7,287.92 596.95,294.46 597.2,290.99 597.45,295.23 597.7,290.69 597.95,295.17 598.2,290.43 598.45,297.17 598.7,289.64 598.95,296.53 599.2,289.22 599.45,296.77 599.7,289.73 599.95,293.12 600.2,287.64 600.45,296.63 600.7,287.47 600.95,295.08 601.2,287.88 601.45,295.72 601.7,288.33 601.95,294.79 602.2,286.46 602.45,295.83 602.7,288.89 602.95,296.23 603.2,287.12 603.45,295.71 603.7,288.19 603.95,278 604.2,289.63 604.45,295.52 604.7,289.41 604.95,295.94 605.2,287.51 605.45,295.56 605.7,287.34 605.95,294.9 606.2,289.26 606.45,297.42 606.7,286.64 606.95,296.26 607.2,290.19 607.45,297.15 607.7,287.69 607.95,294.7 608.2,288.26 608.45,296.8 608.7,289.65 608.95,295.47 609.2,290.78 609.45,297.54 609.7,290.46 609.95,296.64 610.2,288.91 610.45,297.02 610.7,288.98 610.95,296.64 611.2,290.31 611.45,294.08 611.7,288.22 611.95,294.55 612.2,289.76 612.45,294.86 612.7,287.2 612.95,296.26 613.2,287.68 613.45,294.31 613.7,287.68 613.95,293.61 614.2,290.16 614.45,294.49 614.7,289.36 614.95,296.83 615.2,292.13 615.45,295.14 615.7,290.17 615.95,294.48 616.2,287.49 616.45,295.84 616.7,290.32 616.95,295.39 617.2,289.25 617.45,296.71 617.7,290.84 617.95,296.92 618.2,287.72 618.45,295.84 618.7,288.61 618.95,296.62 619.2,288.96 619.45,297.42 619.7,288.87 619.95,294.92 620.2,291.04 620.45,297.58 620.7,289.21 620.95,296.07 621.2,289.64 621.45,292.97 621.7,290.52 621.95,295.63 622.2,291.16 622.45,295.87 622.7,288.91 622.95,296.42 623.2,288.65 623.45,298.1 623.7,289.29 623.95,296.02 624.2,289.27 624.45,296.66 624.7,288.88 624.95,295.01 625.2,289.1 625.45,295.63 625.7,290.53 625.95,297.01 626.2,289.08 626.45,294.21 626.7,289.42 626.95,294.88 627.2,289.04 627.45,297.06 627.7,288.8 627.95,296.62 628.2,287.08 628.45,297.99 628.7,289.4 628.95,297.69 629.2,289.24 629.45,296.44 629.7,289.91 629.95,296 630.2,290.36 630.45,295.17 630.7,292.17 630.95,294.47 631.2,288.97 631.45,294.74 631.7,288.46 631.95,297.74 632.2,287.51 632.45,297.34 632.7,288.82 632.95,295.21 633.2,289.73 633.45,297.29 633.7,288.3 633.95,297.03 634.2,287.43 634.45,294.24 634.7,288.38 634.95,297 635.2,290.19 635.45,294.82 635.7,288.17 635.95,297.36 636.2,290.41 636.45,297.05 636.7,288.38 636.95,297.05 637.2,289.73 637.45,295.3 637.7,290.28 637.95,297.2 638.2,287.85 638.45,298.32 638.7,290.38 638.95,298.37 639.2,288.25 639.45,295.72 639.7,288.51 639.95,296.55 640.2,288.39 640.45,294.44 640.7,289.86 640.95,297.16 641.2,287.77 641.45,298.47 641.7,288.48 641.95,297.5 642.2,290.23 642.45,295.06 642.7,289.99 642.95,294.96 643.2,290.06 643.45,296.95 643.7,289.43 643.95,297.1 644.2,288.28 644.45,297.49 644.7,288.69 644.95,297.92 645.2,288.65 645.45,298.04 645.7,289.26 645.95,297.55 646.2,291.83 646.45,298.12 646.7,289.52 646.95,294.63 647.2,289.49 647.45,296.97 647.7,290.72 647.95,298.65 648.2,289.14 648.45,295.44 648.7,291.1 648.95,297.77 649.2,289.81 649.45,295.49 649.7,291.28 649.95,297.47 650.2,288.98 650.45,295.86 650.7,290.04 650.95,297.75 651.2,291.09 651.45,297.12 651.7,287.52 651.95,294.28 652.2,287.51 652.45,295.86 652.7,290.26 652.95,298.13 653.2,290.06 653.45,297.9 653.7,290.92 653.95,297.32 654.2,289.63 654.45,298.58 654.7,290.87 654.95,295.57 655.2,289.78 655.45,295.72 655.7,290.87 655.95,297.23 656.2,289.78 656.45,298.74 656.7,288.77 656.95,297.79 657.2,289.19 657.45,296.06 657.7,289.74 657.95,297.39 658.2,289.19 658.45,298.01 658.7,290.1 658.95,297.35 659.2,292.32 659.45,298.3 659.7,290.87 659.95,296.36 660.2,288.95 660.45,296.15 660.7,288.41 660.95,296.77 661.2,290.27 661.45,296.88 661.7,292.36 661.95,297.57 662.2,289.85 662.45,298.66 662.7,291.67 662.95,295.76 663.2,290.27 663.45,298.87 663.7,291.99 663.95,295.13 664.2,289.49 664.45,298.28 664.7,288.85 664.95,299.13 665.2,288.96 665.45,297.83 665.7,291.01 665.95,298.16 666.2,290.33 666.45,297.81 666.7,289.96 666.95,298.88 667.2,289.8 667.45,297.78" fill="none" stroke="#111" stroke-width="0.75" stroke-linejoin="round"/>
<text x="410.25" y="380.9" font-size="12.9" text-anchor="start" font-weight="normal" font-style="normal" fill="#111">detail</text>
<line x1="386.7" y1="384.4" x2="386.7" y2="480.5" stroke="#3a3a3a" stroke-width="1"/>
<line x1="385.4" y1="385.56" x2="386.7" y2="385.56" stroke="#3a3a3a" stroke-width="0.8"/>
<line x1="384.2" y1="390.3" x2="386.7" y2="390.3" stroke="#3a3a3a" stroke-width="0.8"/>
<line x1="385.4" y1="395.04" x2="386.7" y2="395.04" stroke="#3a3a3a" stroke-width="0.8"/>
<line x1="385.4" y1="399.78" x2="386.7" y2="399.78" stroke="#3a3a3a" stroke-width="0.8"/>
<line x1="385.4" y1="404.52" x2="386.7" y2="404.52" stroke="#3a3a3a" stroke-width="0.8"/>
<line x1="385.4" y1="409.26" x2="386.7" y2="409.26" stroke="#3a3a3a" stroke-width="0.8"/>
<line x1="384.2" y1="414" x2="386.7" y2="414" stroke="#3a3a3a" stroke-width="0.8"/>
<line x1="385.4" y1="418.74" x2="386.7" y2="418.74" stroke="#3a3a3a" stroke-width="0.8"/>
<line x1="385.4" y1="423.48" x2="386.7" y2="423.48" stroke="#3a3a3a" stroke-width="0.8"/>
<line x1="385.4" y1="428.22" x2="386.7" y2="428.22" stroke="#3a3a3a" stroke-width="0.8"/>
<line x1="385.4" y1="432.96" x2="386.7" y2="432.96" stroke="#3a3a3a" stroke-width="0.8"/>
<line x1="384.2" y1="437.7" x2="386.7" y2="437.7" stroke="#3a3a3a" stroke-width="0.8"/>
<line x1="385.4" y1="442.44" x2="386.7" y2="442.44" stroke="#3a3a3a" stroke-width="0.8"/>
<line x1="385.4" y1="447.18" x2="386.7" y2="447.18" stroke="#3a3a3a" stroke-width="0.8"/>
<line x1="385.4" y1="451.92" x2="386.7" y2="451.92" stroke="#3a3a3a" stroke-width="0.8"/>
<line x1="385.4" y1="456.66" x2="386.7" y2="456.66" stroke="#3a3a3a" stroke-width="0.8"/>
<line x1="384.2" y1="461.4" x2="386.7" y2="461.4" stroke="#3a3a3a" stroke-width="0.8"/>
<line x1="385.4" y1="466.14" x2="386.7" y2="466.14" stroke="#3a3a3a" stroke-width="0.8"/>
<line x1="385.4" y1="470.88" x2="386.7" y2="470.88" stroke="#3a3a3a" stroke-width="0.8"/>
<line x1="385.4" y1="475.62" x2="386.7" y2="475.62" stroke="#3a3a3a" stroke-width="0.8"/>
<line x1="385.4" y1="480.36" x2="386.7" y2="480.36" stroke="#3a3a3a" stroke-width="0.8"/>
<text x="383" y="393.2" font-size="8.1" text-anchor="end" font-weight="normal" font-style="normal" fill="#1a1a1a">-20</text>
<text x="383" y="416.9" font-size="8.1" text-anchor="end" font-weight="normal" font-style="normal" fill="#1a1a1a">-30</text>
<text x="383" y="440.6" font-size="8.1" text-anchor="end" font-weight="normal" font-style="normal" fill="#1a1a1a">-40</text>
<text x="383" y="464.3" font-size="8.1" text-anchor="end" font-weight="normal" font-style="normal" fill="#1a1a1a">-50</text>
<text x="366" y="432.5" font-size="10.4" text-anchor="middle" font-weight="normal" font-style="normal" fill="#1a1a1a" transform="rotate(-90 366 432.5)">MP (mV)</text>
<line x1="386.7" y1="480.6" x2="668" y2="480.6" stroke="#3a3a3a" stroke-width="1"/>
<line x1="388.45" y1="480.6" x2="388.45" y2="478.5" stroke="#3a3a3a" stroke-width="0.9"/>
<line x1="406.55" y1="480.6" x2="406.55" y2="478.5" stroke="#3a3a3a" stroke-width="0.9"/>
<line x1="424.65" y1="480.6" x2="424.65" y2="478.5" stroke="#3a3a3a" stroke-width="0.9"/>
<line x1="442.75" y1="480.6" x2="442.75" y2="478.5" stroke="#3a3a3a" stroke-width="0.9"/>
<line x1="460.85" y1="480.6" x2="460.85" y2="478.5" stroke="#3a3a3a" stroke-width="0.9"/>
<line x1="478.95" y1="480.6" x2="478.95" y2="478.5" stroke="#3a3a3a" stroke-width="0.9"/>
<line x1="497.05" y1="480.6" x2="497.05" y2="478.5" stroke="#3a3a3a" stroke-width="0.9"/>
<line x1="515.15" y1="480.6" x2="515.15" y2="478.5" stroke="#3a3a3a" stroke-width="0.9"/>
<line x1="533.25" y1="480.6" x2="533.25" y2="478.5" stroke="#3a3a3a" stroke-width="0.9"/>
<line x1="551.35" y1="480.6" x2="551.35" y2="478.5" stroke="#3a3a3a" stroke-width="0.9"/>
<line x1="569.45" y1="480.6" x2="569.45" y2="478.5" stroke="#3a3a3a" stroke-width="0.9"/>
<line x1="587.55" y1="480.6" x2="587.55" y2="478.5" stroke="#3a3a3a" stroke-width="0.9"/>
<line x1="605.65" y1="480.6" x2="605.65" y2="478.5" stroke="#3a3a3a" stroke-width="0.9"/>
<line x1="623.75" y1="480.6" x2="623.75" y2="478.5" stroke="#3a3a3a" stroke-width="0.9"/>
<line x1="641.85" y1="480.6" x2="641.85" y2="478.5" stroke="#3a3a3a" stroke-width="0.9"/>
<line x1="659.95" y1="480.6" x2="659.95" y2="478.5" stroke="#3a3a3a" stroke-width="0.9"/>
<text x="442.75" y="492.6" font-size="8.4" text-anchor="middle" font-weight="normal" font-style="normal" fill="#1a1a1a">480</text>
<text x="533.25" y="492.6" font-size="8.4" text-anchor="middle" font-weight="normal" font-style="normal" fill="#1a1a1a">490</text>
<text x="623.75" y="492.6" font-size="8.4" text-anchor="middle" font-weight="normal" font-style="normal" fill="#1a1a1a">500</text>
<text x="526" y="504.9" font-size="10.1" text-anchor="middle" font-weight="normal" font-style="normal" fill="#1a1a1a">Time (s)</text>
<polyline points="386.7,462.52 386.95,461.44 387.2,461.81 387.45,460.84 387.7,461.81 387.95,461.54 388.2,461.54 388.45,461.17 388.7,462.77 388.95,461.14 389.2,465.05 389.45,460.85 389.7,464.86 389.95,461.01 390.2,461.43 390.45,460.27 390.7,460.56 390.95,460.03 391.2,461.18 391.45,459.84 391.7,461.33 391.95,459.66 392.2,459.59 392.45,458.88 392.7,460.35 392.95,458.55 393.2,459.39 393.45,457.45 393.7,459.13 393.95,458.26 394.2,460.17 394.45,458.17 394.7,458.86 394.95,457.27 395.2,456.98 395.45,456.7 395.7,457.37 395.95,457.32 396.2,457.68 396.45,457.5 396.7,458.41 396.95,456.51 397.2,458.51 397.45,456.71 397.7,457.67 397.95,455.99 398.2,457.21 398.45,455.24 398.7,456.01 398.95,453.67 399.2,454.34 399.45,453.3 399.7,454.65 399.95,452.8 400.2,452.77 400.45,452.32 400.7,454.18 400.95,453.49 401.2,456.8 401.45,455.33 401.7,455.73 401.95,455.33 402.2,456.29 402.45,454.66 402.7,456.45 402.95,456.11 403.2,456.85 403.45,455.88 403.7,456.43 403.95,454.19 404.2,455.6 404.45,453.7 404.7,454.51 404.95,454.2 405.2,453.84 405.45,453.33 405.7,454.19 405.95,452.93 406.2,454.85 406.45,454.08 406.7,453.52 406.95,452.89 407.2,453.21 407.45,452.01 407.7,420.86 407.95,388.8 408.2,390.42 408.45,390.21 408.7,394.81 408.95,393.68 409.2,395.93 409.45,394.06 409.7,396.47 409.95,394.22 410.2,396.77 410.45,396.56 410.7,398.33 410.95,397.06 411.2,398.04 411.45,397.79 411.7,400.26 411.95,400.09 412.2,403.22 412.45,402.22 412.7,405.2 412.95,404.33 413.2,405.94 413.45,406.08 413.7,410.05 413.95,408.55 414.2,410.1 414.45,408.75 414.7,411.83 414.95,425.75 415.2,451.73 415.45,460.31 415.7,462.97 415.95,461.53 416.2,463.94 416.45,462.16 416.7,464.38 416.95,462.78 417.2,464.46 417.45,462.23 417.7,462.25 417.95,461.77 418.2,462.78 418.45,461.31 418.7,461.81 418.95,460.17 419.2,460.5 419.45,459.3 419.7,460.84 419.95,458.36 420.2,459.37 420.45,458.61 420.7,459.41 420.95,459.03 421.2,461.96 421.45,459.68 421.7,460.55 421.95,459.93 422.2,460.63 422.45,460.52 422.7,462.78 422.95,461.36 423.2,461.97 423.45,462.27 423.7,463.01 423.95,462.09 424.2,462.9 424.45,462.2 424.7,462.6 424.95,462.49 425.2,462.51 425.45,462.75 425.7,465.43 425.95,463.43 426.2,465.02 426.45,464.23 426.7,467.61 426.95,465.32 427.2,466.83 427.45,464.28 427.7,466.01 427.95,464.36 428.2,464.01 428.45,463.28 428.7,464.36 428.95,463.85 429.2,463.97 429.45,463.46 429.7,465.06 429.95,464.09 430.2,464.9 430.45,464.6 430.7,467.23 430.95,464.65 431.2,466.1 431.45,463.22 431.7,464.78 431.95,463.45 432.2,465.17 432.45,463.07 432.7,463.06 432.95,462.26 433.2,464.39 433.45,461.06 433.7,461.54 433.95,460.76 434.2,462.09 434.45,460.96 434.7,461.46 434.95,460.72 435.2,461.4 435.45,459.93 435.7,462.43 435.95,460.48 436.2,464.24 436.45,460.94 436.7,460.89 436.95,459.56 437.2,460.55 437.45,458.67 437.7,459.29 437.95,458.93 438.2,459.75 438.45,458.53 438.7,459.84 438.95,457.91 439.2,459.74 439.45,458.18 439.7,459.7 439.95,459 440.2,460.54 440.45,458.86 440.7,459.27 440.95,458.19 441.2,460.81 441.45,458.99 441.7,458.92 441.95,458.31 442.2,459.35 442.45,458.82 442.7,460.34 442.95,458.55 443.2,460.27 443.45,457.26 443.7,458.2 443.95,457.55 444.2,458.23 444.45,457.94 444.7,459.13 444.95,457.77 445.2,458.87 445.45,457.54 445.7,459.8 445.95,457.75 446.2,458.39 446.45,454.67 446.7,454.5 446.95,444.98 447.2,406.04 447.45,389.13 447.7,390.91 447.95,392.07 448.2,395.86 448.45,394.94 448.7,397.22 448.95,397.35 449.2,398.85 449.45,397.77 449.7,399.38 449.95,398.66 450.2,404.34 450.45,401.83 450.7,403.21 450.95,403.16 451.2,407.42 451.45,405.02 451.7,411.55 451.95,407.36 452.2,412.66 452.45,407.25 452.7,413.67 452.95,407.68 453.2,409.06 453.45,407.12 453.7,409.85 453.95,408.33 454.2,416.86 454.45,409.73 454.7,412.17 454.95,409.92 455.2,414.27 455.45,412.24 455.7,416.67 455.95,413.08 456.2,422.51 456.45,410.96 456.7,417.5 456.95,413.98 457.2,419.16 457.45,414.37 457.7,416.6 457.95,414.09 458.2,420.92 458.45,417.02 458.7,422.58 458.95,429.68 459.2,450.48 459.45,455.92 459.7,459.97 459.95,459.48 460.2,459.57 460.45,458.83 460.7,458.6 460.95,457.26 461.2,455.29 461.45,447.99 461.7,444.81 461.95,433.16 462.2,397.18 462.45,398.17 462.7,400 462.95,400.47 463.2,403.01 463.45,399.98 463.7,406.47 463.95,402.81 464.2,404.78 464.45,403.64 464.7,407.81 464.95,403.08 465.2,408.36 465.45,405.92 465.7,410.46 465.95,403.31 466.2,417.07 466.45,408.41 466.7,409.65 466.95,408.94 467.2,411.21 467.45,409.98 467.7,415.82 467.95,410.41 468.2,411.13 468.45,408.68 468.7,413.19 468.95,410.97 469.2,419.65 469.45,410.72 469.7,412.18 469.95,409.58 470.2,420.15 470.45,410.89 470.7,417.14 470.95,409.98 471.2,424.2 471.45,413.98 471.7,418.25 471.95,413.86 472.2,422.49 472.45,414.54 472.7,419.81 472.95,414.41 473.2,415.21 473.45,415.39 473.7,419.18 473.95,416.04 474.2,421.34 474.45,415.63 474.7,419.18 474.95,415.37 475.2,418.24 475.45,416.59 475.7,420.23 475.95,436.16 476.2,453.62 476.45,452.84 476.7,454.96 476.95,455.47 477.2,455.97 477.45,455.08 477.7,455.63 477.95,453.97 478.2,455.08 478.45,451.77 478.7,449.37 478.95,443.39 479.2,442.13 479.45,407.32 479.7,403.35 479.95,402.14 480.2,403.51 480.45,402.65 480.7,410.32 480.95,404.26 481.2,406.77 481.45,404.05 481.7,407.98 481.95,404.65 482.2,414.22 482.45,405.95 482.7,411.76 482.95,406.2 483.2,408.96 483.45,404.75 483.7,409.57 483.95,407.1 484.2,410.77 484.45,407.46 484.7,410.85 484.95,407.85 485.2,411.45 485.45,407.67 485.7,410.65 485.95,408.83 486.2,412.67 486.45,408.54 486.7,409.95 486.95,409.13 487.2,413.03 487.45,409.1 487.7,412.54 487.95,408.61 488.2,409.3 488.45,408.75 488.7,412.06 488.95,408.71 489.2,411.22 489.45,407.83 489.7,416.04 489.95,409.85 490.2,410.59 490.45,410.33 490.7,412.86 490.95,409.72 491.2,414.35 491.45,410.51 491.7,413.51 491.95,410.64 492.2,413.03 492.45,407.98 492.7,415.55 492.95,410.89 493.2,414.88 493.45,409.75 493.7,412.29 493.95,409.65 494.2,413.99 494.45,409.55 494.7,415.5 494.95,408.56 495.2,410.37 495.45,408.9 495.7,413.76 495.95,409 496.2,412.47 496.45,408.19 496.7,411.57 496.95,408.62 497.2,410.12 497.45,407.33 497.7,411.73 497.95,408.89 498.2,412.11 498.45,409.17 498.7,415.04 498.95,409.11 499.2,413.79 499.45,409.93 499.7,412.25 499.95,410.15 500.2,412.38 500.45,411.12 500.7,413.27 500.95,411.94 501.2,414.14 501.45,411.78 501.7,418.04 501.95,411.96 502.2,421.49 502.45,411.09 502.7,418.07 502.95,412.87 503.2,415.35 503.45,409.59 503.7,414.03 503.95,412.83 504.2,414.09 504.45,411.86 504.7,416.39 504.95,411.6 505.2,415.53 505.45,412.65 505.7,415.37 505.95,412.93 506.2,416.18 506.45,412.67 506.7,413.99 506.95,412.73 507.2,414.12 507.45,412.81 507.7,420.35 507.95,411.79 508.2,416.78 508.45,411.48 508.7,416.92 508.95,413.2 509.2,415.12 509.45,413.4 509.7,419.09 509.95,411.52 510.2,414.25 510.45,412.47 510.7,416.9 510.95,410.83 511.2,416.17 511.45,411.12 511.7,412.78 511.95,412.24 512.2,414.2 512.45,412.94 512.7,419.34 512.95,412.77 513.2,414 513.45,413.21 513.7,416.56 513.95,414.26 514.2,414.79 514.45,413.47 514.7,415.62 514.95,413.33 515.2,416.54 515.45,413.56 515.7,416.59 515.95,413.94 516.2,416.63 516.45,415.05 516.7,423.63 516.95,414.84 517.2,417.03 517.45,415.46 517.7,420.04 517.95,416.48 518.2,420.38 518.45,416.67 518.7,422.34 518.95,415.4 519.2,421.03 519.45,415.26 519.7,421.68 519.95,416.78" fill="none" stroke="#111" stroke-width="0.7" stroke-linejoin="round"/>
<polyline points="520,420.74 520.5,418.58 521,418.06 521.5,418.2 522,419.82 522.5,419.33 523,419.26 523.5,419.66 524,419.1 525.86,423.16 527,418.97 527.5,418.57 528,418.53 529.39,430.44 530.29,419.23 530.79,418.75 531.29,419.87 531.79,419.74 532.29,421.67 532.79,422.79 533.29,418.65 534.67,437.06 536.13,418.88 536.63,421.66 537.13,423.76 537.63,418.83 538.13,420.38 538.63,419.45 540.07,430.02 541.13,420.18 541.63,420.1 542.13,420.12 543.84,438.81 545.33,421.91 545.83,419.24 546.33,419.23 546.83,422.8 548.44,439.46 549.47,420.18 550.84,431.98 552.25,418.93 553.44,443.1 554.05,421.91 555.31,439.99 556.4,449.01 557.89,433.62 559.06,422.08 559.56,419.04 560.06,419.84 560.56,421.64 561.06,421.12 561.56,419.18 562.06,419.92 563.63,445.83 564.77,451.1 566.49,427.85 567.19,419.73 567.69,419.8 568.19,420.87 570.17,437.27 571.32,448.1 573.17,427.02 574.52,449.83 576.41,422.55 577.1,449.36 577.6,450.15 578.1,449.15 578.6,448.86 580.47,428.74 581.67,451.31 583.26,431.6 584.09,449.35 585.85,425.27 586.74,449.06 588.41,437.8 589.49,421.39 589.99,420.68 591.77,445.26 593.03,449.28 593.53,450.55 595.3,433.44 596.65,450.14 597.15,451.12 599.26,436.94 600.11,452.13 600.61,451.05 601.11,453.45 602.78,427.54 603.85,450.16 604.35,450.98 604.85,450.92 605.35,451.91 605.85,452.21 606.35,452.2 606.85,450.08 607.35,452.35 607.85,453.41 609.55,436.72 610.52,452.85 611.02,451.21 611.52,450.2 612.02,451.62 612.52,451.85 613.02,452.24 614.88,434 616.08,452.6 616.58,453.15 618.17,438.14 619.58,454.02 620.08,454.63 620.58,453.32 622.6,425.17 623.89,454.86 625.86,425.82 627.31,452.28 627.81,453.56 628.31,452.21 630.48,427.51 631.53,456.17 632.03,455.6 632.53,452.3 633.03,455.14 634.81,426.23 636.27,454.99 638.12,430.63 639.26,454.64 639.76,453.39 640.26,453.32 640.76,454.38 641.26,455.95 641.76,454.93 643.63,434.31 645.09,455.29 645.59,454.8 646.09,455.63 646.59,453.65 647.09,456.44 648.59,426.31 649.25,455 649.75,455.44 650.25,454.25 650.75,455.18 651.25,455.2 651.75,454.01 652.25,454.91 652.75,453.56 653.25,454.42 653.75,454.25 654.25,454.1 654.75,453.65 655.25,455.34 655.75,454.9 656.25,457.1 657.62,431.31 652,455.45 652.5,455.31 653,457.3 653.5,454.65 654,453.98 654.5,456.09 655,454.95 655.5,455.97 656,455.69 656.5,457.23 657,453.86 657.5,455.6 658,453.96 658.5,453.13 659,452.47 659.5,450.83 660,451.2 660.5,450.68 661,449.64 661.5,449.67 662,451.14 662.5,452.24 663,453.13 663.5,452.84 664,455.09 664.5,456.36 665,455.57 665.5,457.38 666,456.71 666.5,456.43 667,456.3 667.5,456.49 668,457.31" fill="none" stroke="#111" stroke-width="0.75" stroke-linejoin="round"/>
</svg></body></html>
